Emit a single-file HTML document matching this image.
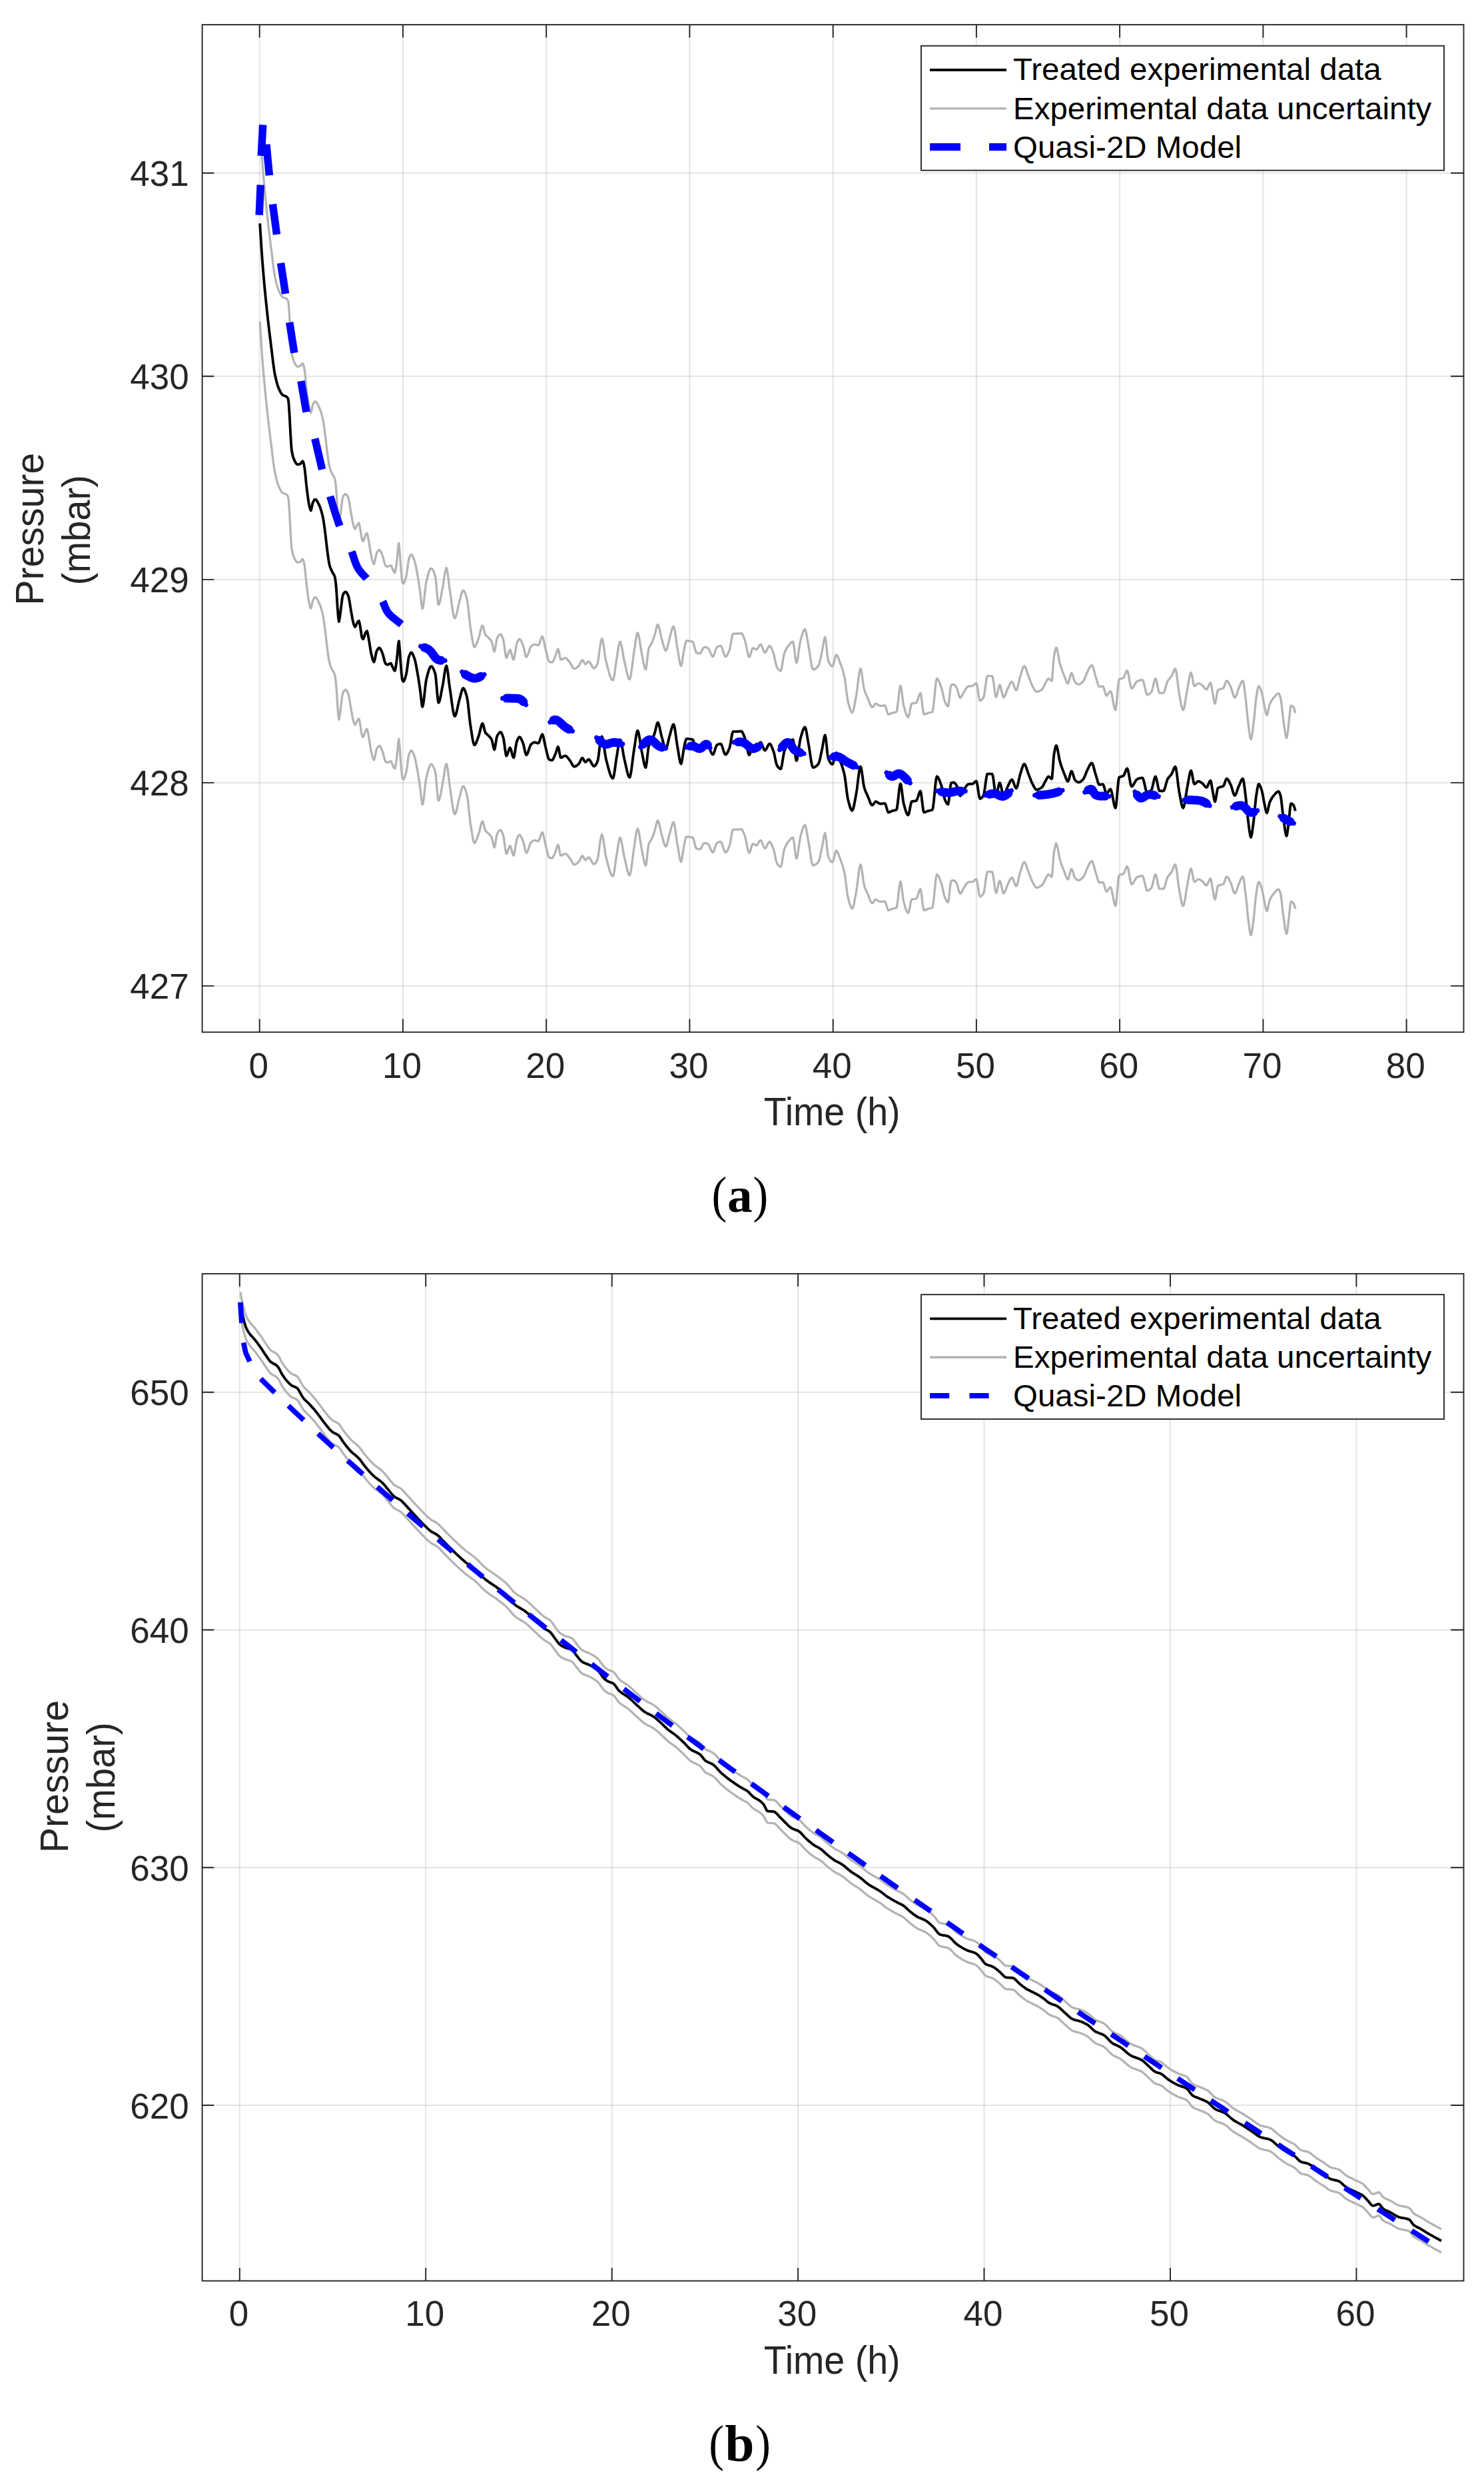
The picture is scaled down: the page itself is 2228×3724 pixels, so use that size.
<!DOCTYPE html>
<html lang="en"><head><meta charset="utf-8"><title>Pressure vs time: experimental data and Quasi-2D model</title>
<style>html,body{margin:0;padding:0;background:#fff}svg{display:block}</style></head><body>
<svg width="2228" height="3724" viewBox="0 0 2228 3724">
<rect width="2228" height="3724" fill="#fff"/>
<path d="M389.7,37.1 V1549.3 M604.9,37.1 V1549.3 M820.2,37.1 V1549.3 M1035.4,37.1 V1549.3 M1250.7,37.1 V1549.3 M1465.9,37.1 V1549.3 M1681.1,37.1 V1549.3 M1896.4,37.1 V1549.3 M2111.6,37.1 V1549.3" stroke="#262626" stroke-opacity="0.125" stroke-width="2" fill="none"/>
<path d="M303.6,259.8 H2197.5 M303.6,564.8 H2197.5 M303.6,869.9 H2197.5 M303.6,1174.9 H2197.5 M303.6,1479.9 H2197.5" stroke="#262626" stroke-opacity="0.125" stroke-width="2" fill="none"/>
<path d="M390.2,335.4 391.4,355 392.6,373.5 393.8,390.5 394.3,397 395,405.7 396.2,419.7 397.4,432.7 398.6,445.1 399.8,456.9 400.3,461.7 401,468.3 402.2,479.2 403.4,489.6 404.6,499.7 405.8,509.6 407,519.2 407.4,522.4 408.2,528.9 409.4,539 410.6,548.6 411.8,556.9 412.5,560.8 413,563.3 414.2,568.7 415.4,573.6 416.6,577.8 417.8,581.3 418.5,583 419,584.1 420.2,586.7 421.4,589 422.6,591 423.8,592.5 424.6,593.1 425,593.3 426.2,593.8 427.4,594.2 428.6,594.6 429.6,595.1 429.8,595.2 431,596.2 432.2,598.1 432.7,599.2 433.4,604.4 434.6,621.9 434.7,623.4 435.8,644.5 436.3,653.8 437,665.5 437.7,674 438.2,677.4 439.4,683.6 440.6,687.6 440.8,688.1 441.8,690.4 443,693 444.2,695.1 445.4,696.5 446.6,697.2 446.8,697.2 447.8,697.1 449,696.9 450.2,696.5 450.9,696.2 451.4,695.8 452.6,694.2 453.8,692.6 454.5,692.3 455,692.8 456.2,696.9 457.3,702.6 457.4,703.2 458.6,713.6 459.8,726.4 460.3,730.9 461,736.6 462.2,746 463.4,754.2 464.4,759.2 464.6,760 465.8,764.6 466.8,766.3 467,766.1 468.2,760.8 469.4,755.1 469.4,755.1 470.6,752.6 471.8,750.6 473,749.6 473.3,749.6 474.2,749.9 475.4,751.1 476.6,753.1 477.8,755.4 479,758 479.4,758.8 480.2,760.6 481.4,763.8 482.6,767.7 483.8,772.2 484.8,776.5 485,777.4 486.2,784.6 487.4,793.3 487.9,797 488.6,802.7 489.8,813.4 490.8,821.8 491,823.3 492.2,832.7 493.4,841.3 494.6,847.7 494.7,848.1 495.8,851.6 497,854.6 498.2,857.1 498.7,858.2 499.4,859.6 500.6,861.4 501.8,863.5 502.8,866.3 503,867.1 504.2,876.3 504.8,882.5 505.4,890.6 506.6,910.2 506.8,912.8 507.8,925.9 508.8,933 509,932.8 510.2,926.7 511.4,916.5 511.9,912.8 512.6,907.5 513.8,897.9 514.9,892.6 515,892.4 516.2,890.5 517.4,889.1 518.6,888.5 518.9,888.5 519.8,888.9 521,890.4 522.2,892.8 523,894.6 523.4,895.8 524.6,901.8 525.8,909.5 527,916.8 527,916.8 528.2,923.5 529.4,930.1 530.6,935.5 531.1,937.1 531.8,939 533,941.1 533.1,941.1 534.2,939.6 535.4,936.4 536.1,935 536.6,934.3 537.8,932.6 538.8,932 539,932.1 540.2,937.2 541.2,943.1 541.4,944.2 542.6,952.5 543.6,957.3 543.8,957.7 545,959.3 545.2,959.3 546.2,957.7 547.4,953.7 548.3,951.2 548.6,950.6 549.8,948.2 550.9,947.2 551,947.2 552.2,951.3 553.3,957.3 553.4,957.8 554.6,964.9 555.8,972.8 557,979.7 557.4,981.5 558.2,984.8 559.4,989.6 560.6,992.9 561.4,993.7 561.8,993.3 563,988.7 564.2,982.1 565.4,977.5 565.4,977.5 566.6,975.3 567.8,973.5 569,972.5 569.5,972.4 570.2,972.7 571.4,974.3 572.6,976.8 573.8,979.8 574.5,981.5 575,983 576.2,987.8 577.4,992.7 578.6,995.7 578.6,995.7 579.8,996.9 581,997.6 581.6,997.7 582.2,997.6 583.4,997.1 584.6,996.4 585.8,995.9 586.7,995.7 587,995.8 588.2,998.1 589.4,1001.2 589.7,1001.8 590.6,1003.7 591.8,1006.1 592.7,1006.8 593,1006.5 594.2,1001.2 595.4,992.5 595.8,989.6 596.6,981.8 597.8,967.8 598.8,962.3 599,962.7 600.2,975.9 601.4,993.7 601.4,993.7 602.6,1008.7 603.8,1019.5 603.9,1019.9 605,1022.6 605.5,1023 606.2,1022.6 607.4,1020.3 608.6,1016.6 609.8,1012.3 609.9,1011.9 611,1005.7 612.2,996.2 613.4,988 614,985.6 614.6,984 615.8,981.4 617,979.7 617.6,979.5 618.2,979.7 619.4,981.3 620.6,984 621.8,987.1 622,987.6 623,990.9 624.2,996.1 625.4,1002.4 626.6,1009.1 627.1,1011.9 627.8,1016 629,1023.6 630.2,1031.8 631.1,1038.1 631.4,1040.4 632.6,1051.7 633.8,1060.1 634.2,1060.8 635,1059.1 636.2,1051.8 637.4,1041.1 638.6,1030 639.8,1021.2 640.2,1019.3 641,1016.1 642.2,1011.5 643.4,1007.3 644.6,1003.8 645.8,1001.3 647,1000.2 647.3,1000.1 648.2,1000.4 649.4,1001.7 650.6,1003.8 651.8,1006.6 653,1010 653.4,1011.2 654.2,1015.9 655.4,1028.7 656.6,1043.1 657.8,1053.2 658.4,1054.7 659,1054.3 660.2,1051.1 661.4,1045.8 662.6,1039.4 663.8,1032.9 664.5,1029.4 665,1026.8 666.2,1019.1 667.4,1010.8 668.6,1003.7 669.8,999.7 670.2,999.4 671,1001 672.2,1008 673.4,1017.9 674.6,1027.9 675.2,1032 675.8,1035.9 677,1044.5 678.2,1053.5 679.4,1062 680.6,1069 681.8,1073.7 682.8,1075 683,1075 684.2,1073.1 685.4,1069.1 686.6,1063.9 687.8,1058.2 689,1052.9 689.7,1050.3 690.2,1048.6 691.4,1043.9 692.6,1039.1 693.8,1035.3 695,1033.2 695.4,1033 696.2,1033.4 697.4,1035.1 698.6,1038.1 699.8,1041.8 701,1046 701,1046 702.2,1052.8 703.4,1063.2 704.6,1074.7 705.8,1085.2 706.4,1089.4 707,1093.2 708.2,1101.1 709.4,1108.6 710.6,1114.6 711.8,1117.9 712.3,1118.3 713,1118 714.2,1116.4 715.4,1113.7 716.6,1110.4 717.8,1107 718.7,1104.5 719,1103.7 720.2,1099.2 721.4,1094 722.6,1089.4 723.8,1086.4 724.4,1086 725,1086.6 726.2,1090.4 727.4,1095.6 728.6,1099.3 728.7,1099.5 729.8,1101 731,1102.1 732.2,1103.1 733.4,1104.2 734.1,1104.9 734.6,1105.5 735.8,1106.7 737,1108.2 738.2,1110.2 738.2,1110.2 739.4,1114.5 740.6,1120.6 741.8,1124.8 742.2,1125.1 743,1123.3 744.2,1116.3 745.4,1108.4 746.3,1104.9 746.6,1104.3 747.8,1102.3 749,1100.6 750.2,1099.4 751.4,1098.9 751.6,1098.9 752.6,1099.6 753.8,1102 755,1105.4 755.7,1107.5 756.2,1109.6 757.4,1117.9 758.6,1127.4 759.8,1133.8 760.3,1134.5 761,1133.9 762.2,1131.1 763.4,1127.1 764.6,1123.7 765.7,1122.4 765.8,1122.4 767,1124.6 768.2,1129 769.4,1133.7 770.6,1136.8 771.1,1137.2 771.8,1136 773,1129.9 774.2,1121.6 775.4,1114.6 775.9,1112.9 776.6,1111.2 777.8,1108.5 779,1106.7 779.9,1106.2 780.2,1106.2 781.4,1107.3 782.6,1109.3 783.8,1112 785,1114.9 785.3,1115.6 786.2,1118.6 787.4,1124.1 788.6,1129.6 789.8,1132.9 790.2,1133.2 791,1132.7 792.2,1130.5 793.4,1127.2 794.6,1123.5 795.8,1120 797,1117.6 797.5,1117 798.2,1116.5 799.4,1115.6 800.6,1114.9 801.8,1114.4 802.9,1114.3 803,1114.3 804.2,1114.5 805.4,1114.9 806.6,1115.3 807.8,1115.6 808.2,1115.6 809,1114.9 810.2,1112.1 811.4,1108.2 812.6,1104.6 813.8,1102.4 814.2,1102.2 815,1103.2 816.2,1107.5 817.4,1113.5 818.6,1119.4 819,1121 819.8,1124.2 821,1129.5 822.2,1134.6 823.4,1138.4 824.4,1139.9 824.6,1140 825.8,1140.6 827,1141 828.2,1141.2 828.5,1141.2 829.4,1140.8 830.6,1139.1 831.8,1136.6 833,1133.8 833.9,1131.8 834.2,1131.1 835.4,1127.1 836.6,1123.1 837.8,1121 837.9,1121 839,1124 840.2,1130.9 841.4,1136.5 841.9,1137.2 842.6,1137.1 843.8,1136.7 845,1136 846.2,1135.3 847.4,1134.8 848.6,1134.5 848.7,1134.5 849.8,1134.8 851,1135.7 852.2,1137.1 853.4,1138.6 854.6,1140.2 855.4,1141.2 855.8,1141.7 857,1143.6 858.2,1145.8 859.4,1148 860.6,1149.7 861.8,1150.6 862.2,1150.7 863,1150.6 864.2,1150.2 865.4,1149.5 866.6,1148.6 867.8,1147.6 868.9,1146.6 869,1146.5 870.2,1144.6 871.4,1142 872.6,1139.5 873.8,1137.9 874.3,1137.7 875,1138.1 876.2,1140 877.4,1142.4 878.6,1143.8 878.9,1143.9 879.8,1143.5 881,1142.3 882.2,1140.8 883.4,1139.9 883.7,1139.9 884.6,1140.2 885.8,1141.6 887,1143.6 888.2,1145.8 889.4,1147.9 890.6,1149.5 891.8,1150.1 891.8,1150.1 893,1149.6 894.2,1148.4 895.4,1146.4 896.6,1144 897.2,1142.6 897.8,1140.3 899,1132.1 900.2,1122.2 901.2,1115.6 901.4,1114.5 902.6,1108.1 903.6,1105.5 903.8,1105.6 905,1108.8 906.2,1115.6 907.4,1124.1 908.6,1132.5 909.8,1139.2 910,1140 911,1143.8 912.2,1148.5 913.4,1153.1 914.6,1157.4 915.8,1161.2 917,1164.3 918.2,1166.7 919.4,1168 920.1,1168.2 920.6,1167.7 921.8,1163.4 923,1155.9 924.2,1147 925.4,1138.5 926,1135 926.6,1131.5 927.8,1123.6 929,1116.1 930.2,1111.1 930.9,1110.2 931.4,1110.5 932.6,1113.8 933.8,1119.6 935,1126.6 936.2,1133.7 937.4,1139.6 937.5,1140 938.6,1144.7 939.8,1150.2 941,1155.7 942.2,1160.6 943.4,1164.4 944.6,1166.5 945.2,1166.8 945.8,1166.2 947,1161.6 948.2,1153.8 949.4,1144.3 950.6,1134.6 951.8,1126.2 952,1125 953,1118.6 954.2,1110.2 955.4,1102.6 956.6,1097.7 957.3,1096.8 957.8,1097.2 959,1101 960.2,1107.6 961.4,1115.6 962.6,1123.3 963.5,1128 963.8,1129.4 965,1135.6 966.2,1142 967.4,1147.6 968.6,1151.2 969.4,1152 969.8,1151.4 971,1144.1 972.2,1132.7 973.4,1122.7 974,1120 974.6,1118.5 975.8,1116.5 977,1114.8 978.1,1112.9 978.2,1112.7 979.4,1110 980.6,1106.9 981.8,1103.5 983,1100 983,1100 984.2,1095.4 985.4,1090 986.6,1085.8 987.5,1084.6 987.8,1084.7 989,1087 990.2,1091.6 991.4,1097.1 992.6,1102.6 993.5,1106 993.8,1107 995,1111.4 996.2,1116 997.4,1120.1 998.6,1122.9 999.6,1123.7 999.8,1123.7 1001,1121.7 1002.2,1117.6 1003.4,1112.4 1004.6,1107.3 1005.5,1104 1005.8,1103 1007,1098.6 1008.2,1094 1009.4,1090 1010.6,1087.6 1011.2,1087.3 1011.8,1088 1013,1092.8 1014.2,1100.6 1015.4,1109.5 1016.6,1117.8 1017,1120 1017.8,1124.6 1019,1132.2 1020.2,1139.4 1021.4,1144.7 1022.5,1146.6 1022.6,1146.6 1023.8,1142.5 1025,1134.5 1026.2,1126.5 1026.5,1125 1027.4,1120.5 1028.6,1114.4 1029.8,1109.9 1030.6,1108.9 1031,1108.9 1032.2,1108.9 1033.4,1109 1034.6,1109.1 1035.8,1109.3 1037,1109.5 1038.2,1109.7 1039.4,1110 1040,1110.2 1040.6,1110.9 1041.8,1114.4 1043,1119.5 1044.2,1124.1 1045.4,1126.4 1045.4,1126.4 1046.6,1126.9 1047.8,1127.3 1049,1127.6 1050.2,1127.8 1050.8,1127.8 1051.4,1127.6 1052.6,1126.1 1053.8,1123.8 1055,1121.3 1056.2,1119.2 1057.4,1118.3 1057.5,1118.3 1058.6,1118.4 1059.8,1118.6 1061,1119 1062.2,1119.4 1062.9,1119.7 1063.4,1120.1 1064.6,1121.9 1065.8,1124.6 1067,1127.7 1068.2,1130.4 1069.4,1132.2 1070.2,1132.6 1070.6,1132.4 1071.8,1130.4 1073,1126.9 1074.2,1123 1075.4,1119.7 1076.4,1118.3 1076.6,1118.2 1077.8,1117.5 1079,1117 1080.2,1116.6 1081.4,1116.4 1081.8,1116.4 1082.6,1116.9 1083.8,1119.2 1085,1122.7 1086.2,1126.6 1087.4,1130 1088.6,1132.2 1089.3,1132.6 1089.8,1132.5 1091,1131.5 1092.2,1129.6 1093.4,1127 1094.6,1124.2 1095.3,1122.4 1095.8,1120.8 1097,1114.5 1098.2,1107 1099.4,1100.7 1100.6,1098.1 1100.6,1098.1 1101.8,1098.1 1103,1098.1 1104.2,1098.1 1105.4,1098.1 1106,1098.1 1106.6,1098.1 1107.8,1098 1109,1097.9 1110.2,1097.8 1111.4,1097.7 1112.6,1097.6 1112.8,1097.6 1113.8,1098.1 1115,1099.9 1116.2,1102.5 1117.4,1105.5 1118.2,1107.5 1118.6,1108.6 1119.8,1113.5 1121,1119.5 1122.2,1125.6 1123.4,1130.6 1124.6,1133.1 1124.9,1133.2 1125.8,1132.2 1127,1128.7 1128.2,1124.2 1129.4,1120.7 1130.3,1119.7 1130.6,1119.7 1131.8,1120.1 1133,1120.7 1134.2,1121.4 1135.4,1121.8 1135.7,1121.8 1136.6,1121.4 1137.8,1119.8 1139,1117.7 1140.2,1115.7 1141.4,1114.4 1141.9,1114.3 1142.6,1114.7 1143.8,1116.8 1145,1119.9 1146.2,1123.2 1147.4,1125.6 1148.4,1126.4 1148.6,1126.4 1149.8,1125.4 1151,1123.3 1152.2,1120.8 1153.4,1118.4 1154.6,1116.8 1155.4,1116.4 1155.8,1116.5 1157,1117.6 1158.2,1119.8 1159.4,1122.7 1160.6,1125.9 1161.3,1127.8 1161.8,1129.3 1163,1134.4 1164.2,1140.3 1165.4,1145.7 1166.6,1149.1 1166.7,1149.3 1167.8,1150.9 1169,1152.3 1170.2,1153.4 1171.4,1154.1 1172.1,1154.2 1172.6,1153.7 1173.8,1149 1175,1141.5 1176.2,1133.7 1177.4,1128.1 1177.5,1127.8 1178.6,1125 1179.8,1122.4 1181,1120.2 1182.2,1118.2 1183.4,1116.6 1184.2,1115.6 1184.6,1115.1 1185.8,1113.7 1187,1112.3 1188.2,1111.2 1189.4,1110.4 1190.4,1110.2 1190.6,1110.3 1191.8,1115.5 1193,1125.1 1194.2,1135.1 1195.4,1141.3 1195.8,1141.8 1196.6,1140.5 1197.8,1134.6 1199,1126.1 1200.2,1117.2 1201.4,1110.1 1201.7,1108.9 1202.6,1105.7 1203.8,1101.4 1205,1097.4 1206.2,1094.2 1207.4,1092.1 1208.5,1091.4 1208.6,1091.4 1209.8,1094 1211,1099.7 1212.2,1107 1213.4,1114.3 1213.9,1117 1214.6,1120.9 1215.8,1128.7 1217,1137 1218.2,1144.5 1219.4,1149.9 1220.6,1152 1220.6,1152 1221.8,1151.9 1223,1151.5 1224.2,1150.8 1225.4,1149.9 1226.6,1148.9 1227.8,1147.6 1228.7,1146.6 1229,1146.2 1230.2,1142.9 1231.4,1138 1232.6,1132.2 1233.8,1126.4 1234.1,1125.1 1235,1120.4 1236.2,1113 1237.4,1106.6 1238.6,1103.5 1238.7,1103.5 1239.8,1107.7 1241,1118.5 1242.2,1130.5 1243.4,1138.2 1243.5,1138.5 1244.6,1141 1245.8,1143.4 1247,1145.3 1248.2,1146.6 1249.4,1147.2 1249.7,1147.2 1250.6,1146.1 1251.8,1142.2 1253,1137 1254.2,1132.4 1255.4,1130 1255.6,1129.9 1256.6,1130.5 1257.8,1132.7 1259,1135.7 1260.2,1139.1 1261,1141.2 1261.4,1142.2 1262.6,1145.3 1263.8,1148.6 1265,1152.2 1266.2,1156.4 1267.4,1161.1 1267.8,1162.8 1268.6,1167.2 1269.8,1176.2 1271,1186.2 1272.2,1195.2 1273.2,1200.5 1273.4,1201.3 1274.6,1205.8 1275.8,1210 1277,1213.5 1278.2,1215.8 1279.4,1216.7 1279.4,1216.7 1280.6,1215.1 1281.8,1210.8 1283,1204.9 1284.2,1198.3 1285.3,1192.5 1285.4,1192 1286.6,1184.2 1287.8,1174.5 1289,1164.7 1290.2,1156.4 1291.4,1151.4 1292,1150.7 1292.6,1151.6 1293.8,1157.4 1295,1166.2 1296.2,1175.3 1297.4,1181.7 1297.4,1181.7 1298.6,1185.4 1299.8,1188.5 1301,1191.2 1302.2,1193.8 1302.8,1195.1 1303.4,1196.5 1304.6,1199.6 1305.8,1202.8 1307,1205.7 1308.2,1207.7 1309.4,1208.6 1309.5,1208.6 1310.6,1208 1311.8,1206.5 1313,1204.7 1314.2,1203.4 1314.9,1203.2 1315.4,1203.3 1316.6,1203.7 1317.8,1204.5 1319,1205.4 1320.2,1206.1 1321.4,1206.5 1321.7,1206.5 1322.6,1206.5 1323.8,1206.4 1325,1206.2 1326.2,1206.1 1327.4,1205.9 1328.4,1205.9 1328.6,1206 1329.8,1208.2 1331,1212.3 1332.2,1216.5 1333.4,1219.2 1333.8,1219.4 1334.6,1219.3 1335.8,1218.9 1337,1218.3 1338.2,1217.7 1339.2,1217.3 1339.4,1217.2 1340.6,1216.9 1341.8,1216.7 1343,1216.4 1344.2,1216.1 1345.4,1215.7 1345.9,1215.4 1346.6,1213.6 1347.8,1205.6 1349,1194.5 1350.2,1183.7 1351.4,1177 1351.9,1176.3 1352.6,1177.7 1353.8,1184.8 1355,1194.7 1356.2,1203.5 1356.7,1205.9 1357.4,1208.5 1358.6,1212.9 1359.8,1217 1361,1220.3 1362.2,1222.6 1363.4,1223.5 1363.5,1223.5 1364.6,1221.3 1365.8,1215.6 1367,1208.9 1368.2,1204.1 1368.8,1203.2 1369.4,1203 1370.6,1202.7 1371.8,1202.6 1373,1202.4 1374.2,1202.3 1375.4,1202 1375.6,1201.9 1376.6,1200.7 1377.8,1197.4 1379,1193.5 1380.2,1189.9 1381.4,1187.8 1381.8,1187.6 1382.6,1189.5 1383.8,1197.5 1385,1207.9 1386.2,1216.5 1387.2,1219.4 1387.4,1219.4 1388.6,1219.2 1389.8,1218.7 1391,1218.2 1392.2,1217.6 1393.1,1217.3 1393.4,1217.2 1394.6,1216.9 1395.8,1216.7 1397,1216.4 1398.2,1216.1 1399.4,1215.6 1399.8,1215.4 1400.6,1213.2 1401.8,1204.4 1403,1192.2 1404.2,1179.5 1405.4,1169.5 1406.6,1165.5 1406.6,1165.5 1407.8,1166.2 1409,1168 1410.2,1170.6 1411.4,1173.7 1412.6,1177.1 1413.3,1179 1413.8,1180.5 1415,1185.4 1416.2,1191.1 1417.4,1196.4 1418.6,1200.3 1418.7,1200.5 1419.8,1202.8 1421,1205.1 1422.2,1206.7 1423.3,1207.3 1423.4,1207.3 1424.6,1201.6 1425.8,1190.4 1427,1179.6 1428.1,1175.1 1428.2,1175.1 1429.4,1174.8 1430.6,1174.6 1431.8,1174.5 1432.1,1174.5 1433,1174.8 1434.2,1176.1 1435.4,1177.8 1436.2,1179.1 1436.6,1179.9 1437.8,1183.6 1439,1188.3 1440.2,1192.4 1441.4,1194.4 1441.6,1194.5 1442.6,1193.9 1443.8,1192.1 1445,1189.6 1446.2,1187.1 1447,1185.8 1447.4,1185.2 1448.6,1183.3 1449.8,1181.3 1451,1179.5 1452.2,1178.1 1453.4,1177.3 1453.7,1177.2 1454.6,1177 1455.8,1176.9 1457,1176.8 1458.2,1176.7 1459.4,1176.6 1460.4,1176.4 1460.6,1176.3 1461.8,1175.6 1463,1174.4 1464.2,1173.2 1465.4,1172.5 1465.8,1172.4 1466.6,1174 1467.8,1180.6 1469,1189.2 1470.2,1196.4 1471.2,1198.8 1471.4,1198.8 1472.6,1198.4 1473.8,1197.5 1475,1196.2 1476.2,1194.5 1476.6,1193.9 1477.4,1191.4 1478.6,1183.9 1479.8,1174.7 1481,1166.4 1482.2,1161.8 1482.5,1161.6 1483.4,1161.6 1484.6,1161.6 1485.8,1161.6 1487,1161.6 1488.2,1161.6 1489.4,1161.6 1489.5,1161.6 1490.6,1164.4 1491.8,1172 1493,1181.4 1494.2,1189.6 1495.4,1193.4 1495.5,1193.4 1496.6,1191.4 1497.8,1186.3 1499,1180.3 1500.2,1175.9 1500.9,1175.1 1501.4,1175.5 1502.6,1178.9 1503.8,1184.3 1505,1189.7 1506.2,1193.4 1506.8,1193.9 1507.4,1193.6 1508.6,1191.9 1509.8,1188.9 1511,1185.5 1512.2,1182.3 1513,1180.5 1513.4,1179.7 1514.6,1177.1 1515.8,1174.5 1517,1172.2 1518.2,1170.7 1519.2,1170.2 1519.4,1170.2 1520.6,1171.7 1521.8,1174.8 1523,1178.3 1524.2,1181.4 1525.4,1183.1 1525.7,1183.2 1526.6,1182.3 1527.8,1178.8 1529,1173.7 1530.2,1168.2 1531.4,1163.2 1531.9,1161.6 1532.6,1159.4 1533.8,1155.4 1535,1151.6 1536.2,1148.6 1537.4,1146.9 1537.8,1146.8 1538.6,1147.3 1539.8,1149.4 1541,1152.6 1542.2,1156.4 1543.4,1160 1544,1161.6 1544.6,1163.1 1545.8,1166.2 1547,1169.3 1548.2,1172.4 1549.4,1175.2 1550.6,1177.6 1550.7,1177.8 1551.8,1179.8 1553,1182 1554.2,1183.9 1555.4,1185.1 1556.1,1185.3 1556.6,1185.3 1557.8,1185.1 1559,1184.8 1560.2,1184.3 1561.4,1183.6 1562.6,1182.9 1563.8,1182.1 1564.2,1181.8 1565,1181 1566.2,1179.1 1567.4,1176.7 1568.6,1174.2 1569.6,1172.4 1569.8,1172.1 1571,1169.8 1572.2,1167.6 1573.4,1166 1574.2,1165.6 1574.6,1165.7 1575.8,1166.5 1577,1167.8 1578.2,1168.8 1579,1169.1 1579.4,1168 1580.6,1155.1 1581.8,1138.3 1582.5,1131.9 1583,1129.1 1584.2,1122.9 1585.4,1119.3 1585.8,1119 1586.6,1120.1 1587.8,1124.7 1589,1131.4 1590.2,1138.3 1591.2,1142.7 1591.4,1143.4 1592.6,1147.3 1593.8,1150.9 1595,1154.3 1596.2,1157.4 1597.4,1160.4 1597.9,1161.6 1598.6,1163.4 1599.8,1166.7 1601,1169.8 1602.2,1172.1 1603.3,1172.9 1603.4,1172.9 1604.6,1170.7 1605.8,1166.1 1607,1161.1 1608.2,1157.9 1608.7,1157.5 1609.4,1158 1610.6,1160.9 1611.8,1165 1613,1168.9 1614.1,1171 1614.2,1171.1 1615.4,1172.2 1616.6,1173.2 1617.8,1173.9 1619,1174.3 1619.5,1174.3 1620.2,1174.2 1621.4,1173.8 1622.6,1173.1 1623.8,1172.1 1625,1170.9 1626.2,1169.7 1626.2,1169.7 1627.4,1167.9 1628.6,1165.3 1629.8,1162.3 1631,1159.2 1632.2,1156.3 1632.9,1154.9 1633.4,1154 1634.6,1151.5 1635.8,1149.1 1637,1147.1 1638.2,1145.7 1639.1,1145.4 1639.4,1145.5 1640.6,1147.3 1641.8,1150.9 1643,1155.5 1644.2,1160 1645.1,1162.9 1645.4,1163.8 1646.6,1167.9 1647.8,1172.3 1649,1175.8 1650.2,1177.7 1650.5,1177.8 1651.4,1177.8 1652.6,1177.6 1653.8,1177.4 1655,1177.2 1655.8,1177.2 1656.2,1177.4 1657.4,1180.2 1658.6,1184.6 1659.8,1188.9 1661,1191.1 1661.2,1191.2 1662.2,1190.7 1663.4,1189.2 1664.6,1187.2 1665.8,1185.4 1667,1184.5 1667.2,1184.5 1668.2,1185.9 1669.4,1190.4 1670.6,1196.7 1671.8,1203.4 1673,1209.1 1674.2,1212.4 1674.7,1212.8 1675.4,1210.8 1676.6,1200.1 1677.8,1185.5 1679,1172.5 1680.1,1167 1680.2,1166.9 1681.4,1166.2 1682.6,1165.8 1683.8,1165.5 1685,1165.2 1686.2,1164.7 1686.8,1164.3 1687.4,1163.6 1688.6,1161 1689.8,1157.6 1691,1154.7 1692.2,1153.5 1692.2,1153.5 1693.4,1155.7 1694.6,1161.2 1695.8,1168.2 1697,1174.9 1698.2,1179.5 1699,1180.5 1699.4,1180.4 1700.6,1179.5 1701.8,1177.8 1703,1175.7 1704.2,1173.4 1705.4,1171.4 1706.6,1170 1707.1,1169.7 1707.8,1169.4 1709,1168.9 1710.2,1168.4 1711.4,1168.1 1712.6,1167.8 1713.8,1167.6 1715,1167.5 1715.1,1167.5 1716.2,1168.9 1717.4,1172.8 1718.6,1178 1719.8,1183.4 1721,1187.7 1722.2,1189.9 1722.4,1189.9 1723.4,1189.8 1724.6,1189.3 1725.8,1188.5 1727,1187.4 1728.2,1186.2 1728.6,1185.8 1729.4,1184.2 1730.6,1179.8 1731.8,1174.4 1733,1169.3 1734.2,1166.1 1734.8,1165.6 1735.4,1166.2 1736.6,1170.3 1737.8,1176.4 1739,1182.5 1740.2,1186.6 1740.8,1187.2 1741.4,1187.2 1742.6,1187.2 1743.8,1187.2 1745,1187.2 1746.2,1187.2 1746.7,1187.2 1747.4,1186.7 1748.6,1184 1749.8,1179.8 1751,1175.3 1752.2,1171.3 1752.9,1169.7 1753.4,1168.9 1754.6,1167.1 1755.8,1165.7 1757,1164.4 1758.2,1162.9 1759.1,1161.6 1759.4,1161.1 1760.6,1158.3 1761.8,1155.1 1763,1152.4 1764.2,1150.9 1764.5,1150.8 1765.4,1152.6 1766.6,1159.3 1767.8,1168.9 1769,1179.1 1770.2,1187.4 1770.4,1188.5 1771.4,1193.8 1772.6,1200.5 1773.8,1206.5 1775,1210.9 1776.2,1212.8 1776.3,1212.8 1777.4,1211 1778.6,1205.7 1779.8,1198.4 1781,1190.5 1782.2,1183.4 1782.5,1181.9 1783.4,1177.2 1784.6,1170.1 1785.8,1163.3 1787,1158.4 1788.1,1156.7 1788.2,1156.7 1789.4,1160.1 1790.6,1166.8 1791.8,1173.5 1793,1176.9 1793.1,1176.9 1794.2,1176.5 1795.4,1175.6 1796.6,1174.4 1797.8,1173.3 1799,1172.8 1799.2,1172.8 1800.2,1172.9 1801.4,1173.4 1802.6,1174 1803.8,1174.9 1805,1175.7 1805.3,1175.9 1806.2,1176.7 1807.4,1178.2 1808.6,1179.8 1809.8,1181.2 1811,1181.9 1811.3,1181.9 1812.2,1181.3 1813.4,1179.1 1814.6,1176.2 1815.8,1173.5 1817,1171.9 1817.4,1171.8 1818.2,1173.6 1819.4,1180.2 1820.4,1186 1820.6,1187 1821.8,1194.1 1823,1200.6 1824.1,1203.2 1824.2,1203.2 1825.4,1199.1 1826.6,1191.4 1827.8,1184.6 1828.5,1182.9 1829,1182.6 1830.2,1182 1831.4,1181.6 1832.6,1181.2 1833.6,1180.9 1833.8,1180.8 1835,1180.5 1836.2,1180.1 1836.6,1179.9 1837.4,1178.9 1838.6,1175.7 1839.8,1172 1841,1169.3 1841.7,1168.8 1842.2,1168.9 1843.4,1169.9 1844.6,1171.7 1845.8,1174 1847,1176.5 1847.7,1177.9 1848.2,1179 1849.4,1182.7 1850.6,1186.9 1851.8,1190.9 1853,1193.5 1853.8,1194.1 1854.2,1194 1855.4,1192.3 1856.6,1189.3 1857.8,1185.7 1859,1182.1 1859.9,1179.9 1860.2,1179.3 1861.4,1176.4 1862.6,1173.5 1863.8,1170.9 1865,1169.2 1865.9,1168.8 1866.2,1169 1867.4,1173.9 1868.6,1182.7 1869.8,1192.6 1870,1194.1 1871,1202.9 1872.2,1215.5 1873.4,1227.5 1874,1232.5 1874.6,1237.2 1875.8,1246.8 1877,1254.3 1878,1256.7 1878.2,1256.6 1879.4,1252.5 1880.6,1244.3 1881.8,1234.8 1882.1,1232.5 1883,1224.6 1884.2,1211.7 1885.4,1199.4 1886.1,1194.1 1886.6,1190.9 1887.8,1183.4 1889,1178.1 1889.8,1176.9 1890.2,1177 1891.4,1178.6 1892.6,1181.4 1893.8,1184.8 1894.2,1186 1895,1189 1896.2,1195.1 1897.4,1201.8 1898.3,1206.2 1898.6,1207.6 1899.8,1213.7 1901,1218.8 1901.9,1220.3 1902.2,1220.1 1903.4,1216.7 1904.6,1211 1905.8,1205.7 1906.3,1204.2 1907,1202.6 1908.2,1200.2 1909.4,1198.2 1910.6,1196.4 1911.8,1194.8 1912.4,1194.1 1913,1193.4 1914.2,1192 1915.4,1190.6 1916.6,1189.4 1917.8,1188.5 1919,1188 1919.5,1188 1920.2,1188.4 1921.4,1190.9 1922.5,1194.1 1922.6,1194.4 1923.8,1201.8 1925,1212.7 1926.2,1223.5 1926.6,1226.4 1927.4,1232.1 1928.6,1241.1 1929.8,1249.1 1931,1254 1931.6,1254.7 1932.2,1253.5 1933.4,1245.5 1934.6,1234.3 1935.3,1228.4 1935.8,1224 1937,1211.8 1938.1,1206.2 1938.2,1206.2 1939.4,1206.5 1940.6,1207.2 1941.7,1208.2 1941.8,1208.3 1943,1210.8 1944.2,1214.9 1944.8,1217.3" fill="none" stroke="#000" stroke-width="3.9" stroke-linejoin="round"/>
<path d="M390.2,188.4 391.4,208 392.6,226.5 393.8,243.5 394.3,250 395,258.7 396.2,272.7 397.4,285.7 398.6,298.1 399.8,309.9 400.3,314.7 401,321.3 402.2,332.2 403.4,342.6 404.6,352.7 405.8,362.6 407,372.2 407.4,375.4 408.2,381.9 409.4,392 410.6,401.6 411.8,409.9 412.5,413.8 413,416.3 414.2,421.7 415.4,426.6 416.6,430.8 417.8,434.3 418.5,436 419,437.1 420.2,439.7 421.4,442 422.6,444 423.8,445.5 424.6,446.1 425,446.3 426.2,446.8 427.4,447.2 428.6,447.6 429.6,448.1 429.8,448.2 431,449.2 432.2,451.1 432.7,452.2 433.4,457.4 434.6,474.9 434.7,476.4 435.8,497.5 436.3,506.8 437,518.5 437.7,527 438.2,530.4 439.4,536.6 440.6,540.6 440.8,541.1 441.8,543.4 443,546 444.2,548.1 445.4,549.5 446.6,550.2 446.8,550.2 447.8,550.1 449,549.9 450.2,549.5 450.9,549.2 451.4,548.8 452.6,547.2 453.8,545.6 454.5,545.3 455,545.8 456.2,549.9 457.3,555.6 457.4,556.2 458.6,566.6 459.8,579.4 460.3,583.9 461,589.6 462.2,599 463.4,607.2 464.4,612.2 464.6,613 465.8,617.6 466.8,619.3 467,619.1 468.2,613.8 469.4,608.1 469.4,608.1 470.6,605.6 471.8,603.6 473,602.6 473.3,602.6 474.2,602.9 475.4,604.1 476.6,606.1 477.8,608.4 479,611 479.4,611.8 480.2,613.6 481.4,616.8 482.6,620.7 483.8,625.2 484.8,629.5 485,630.4 486.2,637.6 487.4,646.3 487.9,650 488.6,655.7 489.8,666.4 490.8,674.8 491,676.3 492.2,685.7 493.4,694.3 494.6,700.7 494.7,701.1 495.8,704.6 497,707.6 498.2,710.1 498.7,711.2 499.4,712.6 500.6,714.4 501.8,716.5 502.8,719.3 503,720.1 504.2,729.3 504.8,735.5 505.4,743.6 506.6,763.2 506.8,765.8 507.8,778.9 508.8,786 509,785.8 510.2,779.7 511.4,769.5 511.9,765.8 512.6,760.5 513.8,750.9 514.9,745.6 515,745.4 516.2,743.5 517.4,742.1 518.6,741.5 518.9,741.5 519.8,741.9 521,743.4 522.2,745.8 523,747.6 523.4,748.8 524.6,754.8 525.8,762.5 527,769.8 527,769.8 528.2,776.5 529.4,783.1 530.6,788.5 531.1,790.1 531.8,792 533,794.1 533.1,794.1 534.2,792.6 535.4,789.4 536.1,788 536.6,787.3 537.8,785.6 538.8,785 539,785.1 540.2,790.2 541.2,796.1 541.4,797.2 542.6,805.5 543.6,810.3 543.8,810.7 545,812.3 545.2,812.3 546.2,810.7 547.4,806.7 548.3,804.2 548.6,803.6 549.8,801.2 550.9,800.2 551,800.2 552.2,804.3 553.3,810.3 553.4,810.8 554.6,817.9 555.8,825.8 557,832.7 557.4,834.5 558.2,837.8 559.4,842.6 560.6,845.9 561.4,846.7 561.8,846.3 563,841.7 564.2,835.1 565.4,830.5 565.4,830.5 566.6,828.3 567.8,826.5 569,825.5 569.5,825.4 570.2,825.7 571.4,827.3 572.6,829.8 573.8,832.8 574.5,834.5 575,836 576.2,840.8 577.4,845.7 578.6,848.7 578.6,848.7 579.8,849.9 581,850.6 581.6,850.7 582.2,850.6 583.4,850.1 584.6,849.4 585.8,848.9 586.7,848.7 587,848.8 588.2,851.1 589.4,854.2 589.7,854.8 590.6,856.7 591.8,859.1 592.7,859.8 593,859.5 594.2,854.2 595.4,845.5 595.8,842.6 596.6,834.8 597.8,820.8 598.8,815.3 599,815.7 600.2,828.9 601.4,846.7 601.4,846.7 602.6,861.7 603.8,872.5 603.9,872.9 605,875.6 605.5,876 606.2,875.6 607.4,873.3 608.6,869.6 609.8,865.3 609.9,864.9 611,858.7 612.2,849.2 613.4,841 614,838.6 614.6,837 615.8,834.4 617,832.7 617.6,832.5 618.2,832.7 619.4,834.3 620.6,837 621.8,840.1 622,840.6 623,843.9 624.2,849.1 625.4,855.4 626.6,862.1 627.1,864.9 627.8,869 629,876.6 630.2,884.8 631.1,891.1 631.4,893.4 632.6,904.7 633.8,913.1 634.2,913.8 635,912.1 636.2,904.8 637.4,894.1 638.6,883 639.8,874.2 640.2,872.3 641,869.1 642.2,864.5 643.4,860.3 644.6,856.8 645.8,854.3 647,853.2 647.3,853.1 648.2,853.4 649.4,854.7 650.6,856.8 651.8,859.6 653,863 653.4,864.2 654.2,868.9 655.4,881.7 656.6,896.1 657.8,906.2 658.4,907.7 659,907.3 660.2,904.1 661.4,898.8 662.6,892.4 663.8,885.9 664.5,882.4 665,879.8 666.2,872.1 667.4,863.8 668.6,856.7 669.8,852.7 670.2,852.4 671,854 672.2,861 673.4,870.9 674.6,880.9 675.2,885 675.8,888.9 677,897.5 678.2,906.5 679.4,915 680.6,922 681.8,926.7 682.8,928 683,928 684.2,926.1 685.4,922.1 686.6,916.9 687.8,911.2 689,905.9 689.7,903.3 690.2,901.6 691.4,896.9 692.6,892.1 693.8,888.3 695,886.2 695.4,886 696.2,886.4 697.4,888.1 698.6,891.1 699.8,894.8 701,899 701,899 702.2,905.8 703.4,916.2 704.6,927.7 705.8,938.2 706.4,942.4 707,946.2 708.2,954.1 709.4,961.6 710.6,967.6 711.8,970.9 712.3,971.3 713,971 714.2,969.4 715.4,966.7 716.6,963.4 717.8,960 718.7,957.5 719,956.7 720.2,952.2 721.4,947 722.6,942.4 723.8,939.4 724.4,939 725,939.6 726.2,943.4 727.4,948.6 728.6,952.3 728.7,952.5 729.8,954 731,955.1 732.2,956.1 733.4,957.2 734.1,957.9 734.6,958.5 735.8,959.7 737,961.2 738.2,963.2 738.2,963.2 739.4,967.5 740.6,973.6 741.8,977.8 742.2,978.1 743,976.3 744.2,969.3 745.4,961.4 746.3,957.9 746.6,957.3 747.8,955.3 749,953.6 750.2,952.4 751.4,951.9 751.6,951.9 752.6,952.6 753.8,955 755,958.4 755.7,960.5 756.2,962.6 757.4,970.9 758.6,980.4 759.8,986.8 760.3,987.5 761,986.9 762.2,984.1 763.4,980.1 764.6,976.7 765.7,975.4 765.8,975.4 767,977.6 768.2,982 769.4,986.7 770.6,989.8 771.1,990.2 771.8,989 773,982.9 774.2,974.6 775.4,967.6 775.9,965.9 776.6,964.2 777.8,961.5 779,959.7 779.9,959.2 780.2,959.2 781.4,960.3 782.6,962.3 783.8,965 785,967.9 785.3,968.6 786.2,971.6 787.4,977.1 788.6,982.6 789.8,985.9 790.2,986.2 791,985.7 792.2,983.5 793.4,980.2 794.6,976.5 795.8,973 797,970.6 797.5,970 798.2,969.5 799.4,968.6 800.6,967.9 801.8,967.4 802.9,967.3 803,967.3 804.2,967.5 805.4,967.9 806.6,968.3 807.8,968.6 808.2,968.6 809,967.9 810.2,965.1 811.4,961.2 812.6,957.6 813.8,955.4 814.2,955.2 815,956.2 816.2,960.5 817.4,966.5 818.6,972.4 819,974 819.8,977.2 821,982.5 822.2,987.6 823.4,991.4 824.4,992.9 824.6,993 825.8,993.6 827,994 828.2,994.2 828.5,994.2 829.4,993.8 830.6,992.1 831.8,989.6 833,986.8 833.9,984.8 834.2,984.1 835.4,980.1 836.6,976.1 837.8,974 837.9,974 839,977 840.2,983.9 841.4,989.5 841.9,990.2 842.6,990.1 843.8,989.7 845,989 846.2,988.3 847.4,987.8 848.6,987.5 848.7,987.5 849.8,987.8 851,988.7 852.2,990.1 853.4,991.6 854.6,993.2 855.4,994.2 855.8,994.7 857,996.6 858.2,998.8 859.4,1001 860.6,1002.7 861.8,1003.6 862.2,1003.7 863,1003.6 864.2,1003.2 865.4,1002.5 866.6,1001.6 867.8,1000.6 868.9,999.6 869,999.5 870.2,997.6 871.4,995 872.6,992.5 873.8,990.9 874.3,990.7 875,991.1 876.2,993 877.4,995.4 878.6,996.8 878.9,996.9 879.8,996.5 881,995.3 882.2,993.8 883.4,992.9 883.7,992.9 884.6,993.2 885.8,994.6 887,996.6 888.2,998.8 889.4,1000.9 890.6,1002.5 891.8,1003.1 891.8,1003.1 893,1002.6 894.2,1001.4 895.4,999.4 896.6,997 897.2,995.6 897.8,993.3 899,985.1 900.2,975.2 901.2,968.6 901.4,967.5 902.6,961.1 903.6,958.5 903.8,958.6 905,961.8 906.2,968.6 907.4,977.1 908.6,985.5 909.8,992.2 910,993 911,996.8 912.2,1001.5 913.4,1006.1 914.6,1010.4 915.8,1014.2 917,1017.3 918.2,1019.7 919.4,1021 920.1,1021.2 920.6,1020.7 921.8,1016.4 923,1008.9 924.2,1000 925.4,991.5 926,988 926.6,984.5 927.8,976.6 929,969.1 930.2,964.1 930.9,963.2 931.4,963.5 932.6,966.8 933.8,972.6 935,979.6 936.2,986.7 937.4,992.6 937.5,993 938.6,997.7 939.8,1003.2 941,1008.7 942.2,1013.6 943.4,1017.4 944.6,1019.5 945.2,1019.8 945.8,1019.2 947,1014.6 948.2,1006.8 949.4,997.3 950.6,987.6 951.8,979.2 952,978 953,971.6 954.2,963.2 955.4,955.6 956.6,950.7 957.3,949.8 957.8,950.2 959,954 960.2,960.6 961.4,968.6 962.6,976.3 963.5,981 963.8,982.4 965,988.6 966.2,995 967.4,1000.6 968.6,1004.2 969.4,1005 969.8,1004.4 971,997.1 972.2,985.7 973.4,975.7 974,973 974.6,971.5 975.8,969.5 977,967.8 978.1,965.9 978.2,965.7 979.4,963 980.6,959.9 981.8,956.5 983,953 983,953 984.2,948.4 985.4,943 986.6,938.8 987.5,937.6 987.8,937.7 989,940 990.2,944.6 991.4,950.1 992.6,955.6 993.5,959 993.8,960 995,964.4 996.2,969 997.4,973.1 998.6,975.9 999.6,976.7 999.8,976.7 1001,974.7 1002.2,970.6 1003.4,965.4 1004.6,960.3 1005.5,957 1005.8,956 1007,951.6 1008.2,947 1009.4,943 1010.6,940.6 1011.2,940.3 1011.8,941 1013,945.8 1014.2,953.6 1015.4,962.5 1016.6,970.8 1017,973 1017.8,977.6 1019,985.2 1020.2,992.4 1021.4,997.7 1022.5,999.6 1022.6,999.6 1023.8,995.5 1025,987.5 1026.2,979.5 1026.5,978 1027.4,973.5 1028.6,967.4 1029.8,962.9 1030.6,961.9 1031,961.9 1032.2,961.9 1033.4,962 1034.6,962.1 1035.8,962.3 1037,962.5 1038.2,962.7 1039.4,963 1040,963.2 1040.6,963.9 1041.8,967.4 1043,972.5 1044.2,977.1 1045.4,979.4 1045.4,979.4 1046.6,979.9 1047.8,980.3 1049,980.6 1050.2,980.8 1050.8,980.8 1051.4,980.6 1052.6,979.1 1053.8,976.8 1055,974.3 1056.2,972.2 1057.4,971.3 1057.5,971.3 1058.6,971.4 1059.8,971.6 1061,972 1062.2,972.4 1062.9,972.7 1063.4,973.1 1064.6,974.9 1065.8,977.6 1067,980.7 1068.2,983.4 1069.4,985.2 1070.2,985.6 1070.6,985.4 1071.8,983.4 1073,979.9 1074.2,976 1075.4,972.7 1076.4,971.3 1076.6,971.2 1077.8,970.5 1079,970 1080.2,969.6 1081.4,969.4 1081.8,969.4 1082.6,969.9 1083.8,972.2 1085,975.7 1086.2,979.6 1087.4,983 1088.6,985.2 1089.3,985.6 1089.8,985.5 1091,984.5 1092.2,982.6 1093.4,980 1094.6,977.2 1095.3,975.4 1095.8,973.8 1097,967.5 1098.2,960 1099.4,953.7 1100.6,951.1 1100.6,951.1 1101.8,951.1 1103,951.1 1104.2,951.1 1105.4,951.1 1106,951.1 1106.6,951.1 1107.8,951 1109,950.9 1110.2,950.8 1111.4,950.7 1112.6,950.6 1112.8,950.6 1113.8,951.1 1115,952.9 1116.2,955.5 1117.4,958.5 1118.2,960.5 1118.6,961.6 1119.8,966.5 1121,972.5 1122.2,978.6 1123.4,983.6 1124.6,986.1 1124.9,986.2 1125.8,985.2 1127,981.7 1128.2,977.2 1129.4,973.7 1130.3,972.7 1130.6,972.7 1131.8,973.1 1133,973.7 1134.2,974.4 1135.4,974.8 1135.7,974.8 1136.6,974.4 1137.8,972.8 1139,970.7 1140.2,968.7 1141.4,967.4 1141.9,967.3 1142.6,967.7 1143.8,969.8 1145,972.9 1146.2,976.2 1147.4,978.6 1148.4,979.4 1148.6,979.4 1149.8,978.4 1151,976.3 1152.2,973.8 1153.4,971.4 1154.6,969.8 1155.4,969.4 1155.8,969.5 1157,970.6 1158.2,972.8 1159.4,975.7 1160.6,978.9 1161.3,980.8 1161.8,982.3 1163,987.4 1164.2,993.3 1165.4,998.7 1166.6,1002.1 1166.7,1002.3 1167.8,1003.9 1169,1005.3 1170.2,1006.4 1171.4,1007.1 1172.1,1007.2 1172.6,1006.7 1173.8,1002 1175,994.5 1176.2,986.7 1177.4,981.1 1177.5,980.8 1178.6,978 1179.8,975.4 1181,973.2 1182.2,971.2 1183.4,969.6 1184.2,968.6 1184.6,968.1 1185.8,966.7 1187,965.3 1188.2,964.2 1189.4,963.4 1190.4,963.2 1190.6,963.3 1191.8,968.5 1193,978.1 1194.2,988.1 1195.4,994.3 1195.8,994.8 1196.6,993.5 1197.8,987.6 1199,979.1 1200.2,970.2 1201.4,963.1 1201.7,961.9 1202.6,958.7 1203.8,954.4 1205,950.4 1206.2,947.2 1207.4,945.1 1208.5,944.4 1208.6,944.4 1209.8,947 1211,952.7 1212.2,960 1213.4,967.3 1213.9,970 1214.6,973.9 1215.8,981.7 1217,990 1218.2,997.5 1219.4,1002.9 1220.6,1005 1220.6,1005 1221.8,1004.9 1223,1004.5 1224.2,1003.8 1225.4,1002.9 1226.6,1001.9 1227.8,1000.6 1228.7,999.6 1229,999.2 1230.2,995.9 1231.4,991 1232.6,985.2 1233.8,979.4 1234.1,978.1 1235,973.4 1236.2,966 1237.4,959.6 1238.6,956.5 1238.7,956.5 1239.8,960.7 1241,971.5 1242.2,983.5 1243.4,991.2 1243.5,991.5 1244.6,994 1245.8,996.4 1247,998.3 1248.2,999.6 1249.4,1000.2 1249.7,1000.2 1250.6,999.1 1251.8,995.2 1253,990 1254.2,985.4 1255.4,983 1255.6,982.9 1256.6,983.5 1257.8,985.7 1259,988.7 1260.2,992.1 1261,994.2 1261.4,995.2 1262.6,998.3 1263.8,1001.6 1265,1005.2 1266.2,1009.4 1267.4,1014.1 1267.8,1015.8 1268.6,1020.2 1269.8,1029.2 1271,1039.2 1272.2,1048.2 1273.2,1053.5 1273.4,1054.3 1274.6,1058.8 1275.8,1063 1277,1066.5 1278.2,1068.8 1279.4,1069.7 1279.4,1069.7 1280.6,1068.1 1281.8,1063.8 1283,1057.9 1284.2,1051.3 1285.3,1045.5 1285.4,1045 1286.6,1037.2 1287.8,1027.5 1289,1017.7 1290.2,1009.4 1291.4,1004.4 1292,1003.7 1292.6,1004.6 1293.8,1010.4 1295,1019.2 1296.2,1028.3 1297.4,1034.7 1297.4,1034.7 1298.6,1038.4 1299.8,1041.5 1301,1044.2 1302.2,1046.8 1302.8,1048.1 1303.4,1049.5 1304.6,1052.6 1305.8,1055.8 1307,1058.7 1308.2,1060.7 1309.4,1061.6 1309.5,1061.6 1310.6,1061 1311.8,1059.5 1313,1057.7 1314.2,1056.4 1314.9,1056.2 1315.4,1056.3 1316.6,1056.7 1317.8,1057.5 1319,1058.4 1320.2,1059.1 1321.4,1059.5 1321.7,1059.5 1322.6,1059.5 1323.8,1059.4 1325,1059.2 1326.2,1059.1 1327.4,1058.9 1328.4,1058.9 1328.6,1059 1329.8,1061.2 1331,1065.3 1332.2,1069.5 1333.4,1072.2 1333.8,1072.4 1334.6,1072.3 1335.8,1071.9 1337,1071.3 1338.2,1070.7 1339.2,1070.3 1339.4,1070.2 1340.6,1069.9 1341.8,1069.7 1343,1069.4 1344.2,1069.1 1345.4,1068.7 1345.9,1068.4 1346.6,1066.6 1347.8,1058.6 1349,1047.5 1350.2,1036.7 1351.4,1030 1351.9,1029.3 1352.6,1030.7 1353.8,1037.8 1355,1047.7 1356.2,1056.5 1356.7,1058.9 1357.4,1061.5 1358.6,1065.9 1359.8,1070 1361,1073.3 1362.2,1075.6 1363.4,1076.5 1363.5,1076.5 1364.6,1074.3 1365.8,1068.6 1367,1061.9 1368.2,1057.1 1368.8,1056.2 1369.4,1056 1370.6,1055.7 1371.8,1055.6 1373,1055.4 1374.2,1055.3 1375.4,1055 1375.6,1054.9 1376.6,1053.7 1377.8,1050.4 1379,1046.5 1380.2,1042.9 1381.4,1040.8 1381.8,1040.6 1382.6,1042.5 1383.8,1050.5 1385,1060.9 1386.2,1069.5 1387.2,1072.4 1387.4,1072.4 1388.6,1072.2 1389.8,1071.7 1391,1071.2 1392.2,1070.6 1393.1,1070.3 1393.4,1070.2 1394.6,1069.9 1395.8,1069.7 1397,1069.4 1398.2,1069.1 1399.4,1068.6 1399.8,1068.4 1400.6,1066.2 1401.8,1057.4 1403,1045.2 1404.2,1032.5 1405.4,1022.5 1406.6,1018.5 1406.6,1018.5 1407.8,1019.2 1409,1021 1410.2,1023.6 1411.4,1026.7 1412.6,1030.1 1413.3,1032 1413.8,1033.5 1415,1038.4 1416.2,1044.1 1417.4,1049.4 1418.6,1053.3 1418.7,1053.5 1419.8,1055.8 1421,1058.1 1422.2,1059.7 1423.3,1060.3 1423.4,1060.3 1424.6,1054.6 1425.8,1043.4 1427,1032.6 1428.1,1028.1 1428.2,1028.1 1429.4,1027.8 1430.6,1027.6 1431.8,1027.5 1432.1,1027.5 1433,1027.8 1434.2,1029.1 1435.4,1030.8 1436.2,1032.1 1436.6,1032.9 1437.8,1036.6 1439,1041.3 1440.2,1045.4 1441.4,1047.4 1441.6,1047.5 1442.6,1046.9 1443.8,1045.1 1445,1042.6 1446.2,1040.1 1447,1038.8 1447.4,1038.2 1448.6,1036.3 1449.8,1034.3 1451,1032.5 1452.2,1031.1 1453.4,1030.3 1453.7,1030.2 1454.6,1030 1455.8,1029.9 1457,1029.8 1458.2,1029.7 1459.4,1029.6 1460.4,1029.4 1460.6,1029.3 1461.8,1028.6 1463,1027.4 1464.2,1026.2 1465.4,1025.5 1465.8,1025.4 1466.6,1027 1467.8,1033.6 1469,1042.2 1470.2,1049.4 1471.2,1051.8 1471.4,1051.8 1472.6,1051.4 1473.8,1050.5 1475,1049.2 1476.2,1047.5 1476.6,1046.9 1477.4,1044.4 1478.6,1036.9 1479.8,1027.7 1481,1019.4 1482.2,1014.8 1482.5,1014.6 1483.4,1014.6 1484.6,1014.6 1485.8,1014.6 1487,1014.6 1488.2,1014.6 1489.4,1014.6 1489.5,1014.6 1490.6,1017.4 1491.8,1025 1493,1034.4 1494.2,1042.6 1495.4,1046.4 1495.5,1046.4 1496.6,1044.4 1497.8,1039.3 1499,1033.3 1500.2,1028.9 1500.9,1028.1 1501.4,1028.5 1502.6,1031.9 1503.8,1037.3 1505,1042.7 1506.2,1046.4 1506.8,1046.9 1507.4,1046.6 1508.6,1044.9 1509.8,1041.9 1511,1038.5 1512.2,1035.3 1513,1033.5 1513.4,1032.7 1514.6,1030.1 1515.8,1027.5 1517,1025.2 1518.2,1023.7 1519.2,1023.2 1519.4,1023.2 1520.6,1024.7 1521.8,1027.8 1523,1031.3 1524.2,1034.4 1525.4,1036.1 1525.7,1036.2 1526.6,1035.3 1527.8,1031.8 1529,1026.7 1530.2,1021.2 1531.4,1016.2 1531.9,1014.6 1532.6,1012.4 1533.8,1008.4 1535,1004.6 1536.2,1001.6 1537.4,999.9 1537.8,999.8 1538.6,1000.3 1539.8,1002.4 1541,1005.6 1542.2,1009.4 1543.4,1013 1544,1014.6 1544.6,1016.1 1545.8,1019.2 1547,1022.3 1548.2,1025.4 1549.4,1028.2 1550.6,1030.6 1550.7,1030.8 1551.8,1032.8 1553,1035 1554.2,1036.9 1555.4,1038.1 1556.1,1038.3 1556.6,1038.3 1557.8,1038.1 1559,1037.8 1560.2,1037.3 1561.4,1036.6 1562.6,1035.9 1563.8,1035.1 1564.2,1034.8 1565,1034 1566.2,1032.1 1567.4,1029.7 1568.6,1027.2 1569.6,1025.4 1569.8,1025.1 1571,1022.8 1572.2,1020.6 1573.4,1019 1574.2,1018.6 1574.6,1018.7 1575.8,1019.5 1577,1020.8 1578.2,1021.8 1579,1022.1 1579.4,1021 1580.6,1008.1 1581.8,991.3 1582.5,984.9 1583,982.1 1584.2,975.9 1585.4,972.3 1585.8,972 1586.6,973.1 1587.8,977.7 1589,984.4 1590.2,991.3 1591.2,995.7 1591.4,996.4 1592.6,1000.3 1593.8,1003.9 1595,1007.3 1596.2,1010.4 1597.4,1013.4 1597.9,1014.6 1598.6,1016.4 1599.8,1019.7 1601,1022.8 1602.2,1025.1 1603.3,1025.9 1603.4,1025.9 1604.6,1023.7 1605.8,1019.1 1607,1014.1 1608.2,1010.9 1608.7,1010.5 1609.4,1011 1610.6,1013.9 1611.8,1018 1613,1021.9 1614.1,1024 1614.2,1024.1 1615.4,1025.2 1616.6,1026.2 1617.8,1026.9 1619,1027.3 1619.5,1027.3 1620.2,1027.2 1621.4,1026.8 1622.6,1026.1 1623.8,1025.1 1625,1023.9 1626.2,1022.7 1626.2,1022.7 1627.4,1020.9 1628.6,1018.3 1629.8,1015.3 1631,1012.2 1632.2,1009.3 1632.9,1007.9 1633.4,1007 1634.6,1004.5 1635.8,1002.1 1637,1000.1 1638.2,998.7 1639.1,998.4 1639.4,998.5 1640.6,1000.3 1641.8,1003.9 1643,1008.5 1644.2,1013 1645.1,1015.9 1645.4,1016.8 1646.6,1020.9 1647.8,1025.3 1649,1028.8 1650.2,1030.7 1650.5,1030.8 1651.4,1030.8 1652.6,1030.6 1653.8,1030.4 1655,1030.2 1655.8,1030.2 1656.2,1030.4 1657.4,1033.2 1658.6,1037.6 1659.8,1041.9 1661,1044.1 1661.2,1044.2 1662.2,1043.7 1663.4,1042.2 1664.6,1040.2 1665.8,1038.4 1667,1037.5 1667.2,1037.5 1668.2,1038.9 1669.4,1043.4 1670.6,1049.7 1671.8,1056.4 1673,1062.1 1674.2,1065.4 1674.7,1065.8 1675.4,1063.8 1676.6,1053.1 1677.8,1038.5 1679,1025.5 1680.1,1020 1680.2,1019.9 1681.4,1019.2 1682.6,1018.8 1683.8,1018.5 1685,1018.2 1686.2,1017.7 1686.8,1017.3 1687.4,1016.6 1688.6,1014 1689.8,1010.6 1691,1007.7 1692.2,1006.5 1692.2,1006.5 1693.4,1008.7 1694.6,1014.2 1695.8,1021.2 1697,1027.9 1698.2,1032.5 1699,1033.5 1699.4,1033.4 1700.6,1032.5 1701.8,1030.8 1703,1028.7 1704.2,1026.4 1705.4,1024.4 1706.6,1023 1707.1,1022.7 1707.8,1022.4 1709,1021.9 1710.2,1021.4 1711.4,1021.1 1712.6,1020.8 1713.8,1020.6 1715,1020.5 1715.1,1020.5 1716.2,1021.9 1717.4,1025.8 1718.6,1031 1719.8,1036.4 1721,1040.7 1722.2,1042.9 1722.4,1042.9 1723.4,1042.8 1724.6,1042.3 1725.8,1041.5 1727,1040.4 1728.2,1039.2 1728.6,1038.8 1729.4,1037.2 1730.6,1032.8 1731.8,1027.4 1733,1022.3 1734.2,1019.1 1734.8,1018.6 1735.4,1019.2 1736.6,1023.3 1737.8,1029.4 1739,1035.5 1740.2,1039.6 1740.8,1040.2 1741.4,1040.2 1742.6,1040.2 1743.8,1040.2 1745,1040.2 1746.2,1040.2 1746.7,1040.2 1747.4,1039.7 1748.6,1037 1749.8,1032.8 1751,1028.3 1752.2,1024.3 1752.9,1022.7 1753.4,1021.9 1754.6,1020.1 1755.8,1018.7 1757,1017.4 1758.2,1015.9 1759.1,1014.6 1759.4,1014.1 1760.6,1011.3 1761.8,1008.1 1763,1005.4 1764.2,1003.9 1764.5,1003.8 1765.4,1005.6 1766.6,1012.3 1767.8,1021.9 1769,1032.1 1770.2,1040.4 1770.4,1041.5 1771.4,1046.8 1772.6,1053.5 1773.8,1059.5 1775,1063.9 1776.2,1065.8 1776.3,1065.8 1777.4,1064 1778.6,1058.7 1779.8,1051.4 1781,1043.5 1782.2,1036.4 1782.5,1034.9 1783.4,1030.2 1784.6,1023.1 1785.8,1016.3 1787,1011.4 1788.1,1009.7 1788.2,1009.7 1789.4,1013.1 1790.6,1019.8 1791.8,1026.5 1793,1029.9 1793.1,1029.9 1794.2,1029.5 1795.4,1028.6 1796.6,1027.4 1797.8,1026.3 1799,1025.8 1799.2,1025.8 1800.2,1025.9 1801.4,1026.4 1802.6,1027 1803.8,1027.9 1805,1028.7 1805.3,1028.9 1806.2,1029.7 1807.4,1031.2 1808.6,1032.8 1809.8,1034.2 1811,1034.9 1811.3,1034.9 1812.2,1034.3 1813.4,1032.1 1814.6,1029.2 1815.8,1026.5 1817,1024.9 1817.4,1024.8 1818.2,1026.6 1819.4,1033.2 1820.4,1039 1820.6,1040 1821.8,1047.1 1823,1053.6 1824.1,1056.2 1824.2,1056.2 1825.4,1052.1 1826.6,1044.4 1827.8,1037.6 1828.5,1035.9 1829,1035.6 1830.2,1035 1831.4,1034.6 1832.6,1034.2 1833.6,1033.9 1833.8,1033.8 1835,1033.5 1836.2,1033.1 1836.6,1032.9 1837.4,1031.9 1838.6,1028.7 1839.8,1025 1841,1022.3 1841.7,1021.8 1842.2,1021.9 1843.4,1022.9 1844.6,1024.7 1845.8,1027 1847,1029.5 1847.7,1030.9 1848.2,1032 1849.4,1035.7 1850.6,1039.9 1851.8,1043.9 1853,1046.5 1853.8,1047.1 1854.2,1047 1855.4,1045.3 1856.6,1042.3 1857.8,1038.7 1859,1035.1 1859.9,1032.9 1860.2,1032.3 1861.4,1029.4 1862.6,1026.5 1863.8,1023.9 1865,1022.2 1865.9,1021.8 1866.2,1022 1867.4,1026.9 1868.6,1035.7 1869.8,1045.6 1870,1047.1 1871,1055.9 1872.2,1068.5 1873.4,1080.5 1874,1085.5 1874.6,1090.2 1875.8,1099.8 1877,1107.3 1878,1109.7 1878.2,1109.6 1879.4,1105.5 1880.6,1097.3 1881.8,1087.8 1882.1,1085.5 1883,1077.6 1884.2,1064.7 1885.4,1052.4 1886.1,1047.1 1886.6,1043.9 1887.8,1036.4 1889,1031.1 1889.8,1029.9 1890.2,1030 1891.4,1031.6 1892.6,1034.4 1893.8,1037.8 1894.2,1039 1895,1042 1896.2,1048.1 1897.4,1054.8 1898.3,1059.2 1898.6,1060.6 1899.8,1066.7 1901,1071.8 1901.9,1073.3 1902.2,1073.1 1903.4,1069.7 1904.6,1064 1905.8,1058.7 1906.3,1057.2 1907,1055.6 1908.2,1053.2 1909.4,1051.2 1910.6,1049.4 1911.8,1047.8 1912.4,1047.1 1913,1046.4 1914.2,1045 1915.4,1043.6 1916.6,1042.4 1917.8,1041.5 1919,1041 1919.5,1041 1920.2,1041.4 1921.4,1043.9 1922.5,1047.1 1922.6,1047.4 1923.8,1054.8 1925,1065.7 1926.2,1076.5 1926.6,1079.4 1927.4,1085.1 1928.6,1094.1 1929.8,1102.1 1931,1107 1931.6,1107.7 1932.2,1106.5 1933.4,1098.5 1934.6,1087.3 1935.3,1081.4 1935.8,1077 1937,1064.8 1938.1,1059.2 1938.2,1059.2 1939.4,1059.5 1940.6,1060.2 1941.7,1061.2 1941.8,1061.3 1943,1063.8 1944.2,1067.9 1944.8,1070.3" fill="none" stroke="#b3b3b3" stroke-width="3.3" stroke-linejoin="round"/>
<path d="M390.2,482.4 391.4,502 392.6,520.5 393.8,537.5 394.3,544 395,552.7 396.2,566.7 397.4,579.7 398.6,592.1 399.8,603.9 400.3,608.7 401,615.3 402.2,626.2 403.4,636.6 404.6,646.7 405.8,656.6 407,666.2 407.4,669.4 408.2,675.9 409.4,686 410.6,695.6 411.8,703.9 412.5,707.8 413,710.3 414.2,715.7 415.4,720.6 416.6,724.8 417.8,728.3 418.5,730 419,731.1 420.2,733.7 421.4,736 422.6,738 423.8,739.5 424.6,740.1 425,740.3 426.2,740.8 427.4,741.2 428.6,741.6 429.6,742.1 429.8,742.2 431,743.2 432.2,745.1 432.7,746.2 433.4,751.4 434.6,768.9 434.7,770.4 435.8,791.5 436.3,800.8 437,812.5 437.7,821 438.2,824.4 439.4,830.6 440.6,834.6 440.8,835.1 441.8,837.4 443,840 444.2,842.1 445.4,843.5 446.6,844.2 446.8,844.2 447.8,844.1 449,843.9 450.2,843.5 450.9,843.2 451.4,842.8 452.6,841.2 453.8,839.6 454.5,839.3 455,839.8 456.2,843.9 457.3,849.6 457.4,850.2 458.6,860.6 459.8,873.4 460.3,877.9 461,883.6 462.2,893 463.4,901.2 464.4,906.2 464.6,907 465.8,911.6 466.8,913.3 467,913.1 468.2,907.8 469.4,902.1 469.4,902.1 470.6,899.6 471.8,897.6 473,896.6 473.3,896.6 474.2,896.9 475.4,898.1 476.6,900.1 477.8,902.4 479,905 479.4,905.8 480.2,907.6 481.4,910.8 482.6,914.7 483.8,919.2 484.8,923.5 485,924.4 486.2,931.6 487.4,940.3 487.9,944 488.6,949.7 489.8,960.4 490.8,968.8 491,970.3 492.2,979.7 493.4,988.3 494.6,994.7 494.7,995.1 495.8,998.6 497,1001.6 498.2,1004.1 498.7,1005.2 499.4,1006.6 500.6,1008.4 501.8,1010.5 502.8,1013.3 503,1014.1 504.2,1023.3 504.8,1029.5 505.4,1037.6 506.6,1057.2 506.8,1059.8 507.8,1072.9 508.8,1080 509,1079.8 510.2,1073.7 511.4,1063.5 511.9,1059.8 512.6,1054.5 513.8,1044.9 514.9,1039.6 515,1039.4 516.2,1037.5 517.4,1036.1 518.6,1035.5 518.9,1035.5 519.8,1035.9 521,1037.4 522.2,1039.8 523,1041.6 523.4,1042.8 524.6,1048.8 525.8,1056.5 527,1063.8 527,1063.8 528.2,1070.5 529.4,1077.1 530.6,1082.5 531.1,1084.1 531.8,1086 533,1088.1 533.1,1088.1 534.2,1086.6 535.4,1083.4 536.1,1082 536.6,1081.3 537.8,1079.6 538.8,1079 539,1079.1 540.2,1084.2 541.2,1090.1 541.4,1091.2 542.6,1099.5 543.6,1104.3 543.8,1104.7 545,1106.3 545.2,1106.3 546.2,1104.7 547.4,1100.7 548.3,1098.2 548.6,1097.6 549.8,1095.2 550.9,1094.2 551,1094.2 552.2,1098.3 553.3,1104.3 553.4,1104.8 554.6,1111.9 555.8,1119.8 557,1126.7 557.4,1128.5 558.2,1131.8 559.4,1136.6 560.6,1139.9 561.4,1140.7 561.8,1140.3 563,1135.7 564.2,1129.1 565.4,1124.5 565.4,1124.5 566.6,1122.3 567.8,1120.5 569,1119.5 569.5,1119.4 570.2,1119.7 571.4,1121.3 572.6,1123.8 573.8,1126.8 574.5,1128.5 575,1130 576.2,1134.8 577.4,1139.7 578.6,1142.7 578.6,1142.7 579.8,1143.9 581,1144.6 581.6,1144.7 582.2,1144.6 583.4,1144.1 584.6,1143.4 585.8,1142.9 586.7,1142.7 587,1142.8 588.2,1145.1 589.4,1148.2 589.7,1148.8 590.6,1150.7 591.8,1153.1 592.7,1153.8 593,1153.5 594.2,1148.2 595.4,1139.5 595.8,1136.6 596.6,1128.8 597.8,1114.8 598.8,1109.3 599,1109.7 600.2,1122.9 601.4,1140.7 601.4,1140.7 602.6,1155.7 603.8,1166.5 603.9,1166.9 605,1169.6 605.5,1170 606.2,1169.6 607.4,1167.3 608.6,1163.6 609.8,1159.3 609.9,1158.9 611,1152.7 612.2,1143.2 613.4,1135 614,1132.6 614.6,1131 615.8,1128.4 617,1126.7 617.6,1126.5 618.2,1126.7 619.4,1128.3 620.6,1131 621.8,1134.1 622,1134.6 623,1137.9 624.2,1143.1 625.4,1149.4 626.6,1156.1 627.1,1158.9 627.8,1163 629,1170.6 630.2,1178.8 631.1,1185.1 631.4,1187.4 632.6,1198.7 633.8,1207.1 634.2,1207.8 635,1206.1 636.2,1198.8 637.4,1188.1 638.6,1177 639.8,1168.2 640.2,1166.3 641,1163.1 642.2,1158.5 643.4,1154.3 644.6,1150.8 645.8,1148.3 647,1147.2 647.3,1147.1 648.2,1147.4 649.4,1148.7 650.6,1150.8 651.8,1153.6 653,1157 653.4,1158.2 654.2,1162.9 655.4,1175.7 656.6,1190.1 657.8,1200.2 658.4,1201.7 659,1201.3 660.2,1198.1 661.4,1192.8 662.6,1186.4 663.8,1179.9 664.5,1176.4 665,1173.8 666.2,1166.1 667.4,1157.8 668.6,1150.7 669.8,1146.7 670.2,1146.4 671,1148 672.2,1155 673.4,1164.9 674.6,1174.9 675.2,1179 675.8,1182.9 677,1191.5 678.2,1200.5 679.4,1209 680.6,1216 681.8,1220.7 682.8,1222 683,1222 684.2,1220.1 685.4,1216.1 686.6,1210.9 687.8,1205.2 689,1199.9 689.7,1197.3 690.2,1195.6 691.4,1190.9 692.6,1186.1 693.8,1182.3 695,1180.2 695.4,1180 696.2,1180.4 697.4,1182.1 698.6,1185.1 699.8,1188.8 701,1193 701,1193 702.2,1199.8 703.4,1210.2 704.6,1221.7 705.8,1232.2 706.4,1236.4 707,1240.2 708.2,1248.1 709.4,1255.6 710.6,1261.6 711.8,1264.9 712.3,1265.3 713,1265 714.2,1263.4 715.4,1260.7 716.6,1257.4 717.8,1254 718.7,1251.5 719,1250.7 720.2,1246.2 721.4,1241 722.6,1236.4 723.8,1233.4 724.4,1233 725,1233.6 726.2,1237.4 727.4,1242.6 728.6,1246.3 728.7,1246.5 729.8,1248 731,1249.1 732.2,1250.1 733.4,1251.2 734.1,1251.9 734.6,1252.5 735.8,1253.7 737,1255.2 738.2,1257.2 738.2,1257.2 739.4,1261.5 740.6,1267.6 741.8,1271.8 742.2,1272.1 743,1270.3 744.2,1263.3 745.4,1255.4 746.3,1251.9 746.6,1251.3 747.8,1249.3 749,1247.6 750.2,1246.4 751.4,1245.9 751.6,1245.9 752.6,1246.6 753.8,1249 755,1252.4 755.7,1254.5 756.2,1256.6 757.4,1264.9 758.6,1274.4 759.8,1280.8 760.3,1281.5 761,1280.9 762.2,1278.1 763.4,1274.1 764.6,1270.7 765.7,1269.4 765.8,1269.4 767,1271.6 768.2,1276 769.4,1280.7 770.6,1283.8 771.1,1284.2 771.8,1283 773,1276.9 774.2,1268.6 775.4,1261.6 775.9,1259.9 776.6,1258.2 777.8,1255.5 779,1253.7 779.9,1253.2 780.2,1253.2 781.4,1254.3 782.6,1256.3 783.8,1259 785,1261.9 785.3,1262.6 786.2,1265.6 787.4,1271.1 788.6,1276.6 789.8,1279.9 790.2,1280.2 791,1279.7 792.2,1277.5 793.4,1274.2 794.6,1270.5 795.8,1267 797,1264.6 797.5,1264 798.2,1263.5 799.4,1262.6 800.6,1261.9 801.8,1261.4 802.9,1261.3 803,1261.3 804.2,1261.5 805.4,1261.9 806.6,1262.3 807.8,1262.6 808.2,1262.6 809,1261.9 810.2,1259.1 811.4,1255.2 812.6,1251.6 813.8,1249.4 814.2,1249.2 815,1250.2 816.2,1254.5 817.4,1260.5 818.6,1266.4 819,1268 819.8,1271.2 821,1276.5 822.2,1281.6 823.4,1285.4 824.4,1286.9 824.6,1287 825.8,1287.6 827,1288 828.2,1288.2 828.5,1288.2 829.4,1287.8 830.6,1286.1 831.8,1283.6 833,1280.8 833.9,1278.8 834.2,1278.1 835.4,1274.1 836.6,1270.1 837.8,1268 837.9,1268 839,1271 840.2,1277.9 841.4,1283.5 841.9,1284.2 842.6,1284.1 843.8,1283.7 845,1283 846.2,1282.3 847.4,1281.8 848.6,1281.5 848.7,1281.5 849.8,1281.8 851,1282.7 852.2,1284.1 853.4,1285.6 854.6,1287.2 855.4,1288.2 855.8,1288.7 857,1290.6 858.2,1292.8 859.4,1295 860.6,1296.7 861.8,1297.6 862.2,1297.7 863,1297.6 864.2,1297.2 865.4,1296.5 866.6,1295.6 867.8,1294.6 868.9,1293.6 869,1293.5 870.2,1291.6 871.4,1289 872.6,1286.5 873.8,1284.9 874.3,1284.7 875,1285.1 876.2,1287 877.4,1289.4 878.6,1290.8 878.9,1290.9 879.8,1290.5 881,1289.3 882.2,1287.8 883.4,1286.9 883.7,1286.9 884.6,1287.2 885.8,1288.6 887,1290.6 888.2,1292.8 889.4,1294.9 890.6,1296.5 891.8,1297.1 891.8,1297.1 893,1296.6 894.2,1295.4 895.4,1293.4 896.6,1291 897.2,1289.6 897.8,1287.3 899,1279.1 900.2,1269.2 901.2,1262.6 901.4,1261.5 902.6,1255.1 903.6,1252.5 903.8,1252.6 905,1255.8 906.2,1262.6 907.4,1271.1 908.6,1279.5 909.8,1286.2 910,1287 911,1290.8 912.2,1295.5 913.4,1300.1 914.6,1304.4 915.8,1308.2 917,1311.3 918.2,1313.7 919.4,1315 920.1,1315.2 920.6,1314.7 921.8,1310.4 923,1302.9 924.2,1294 925.4,1285.5 926,1282 926.6,1278.5 927.8,1270.6 929,1263.1 930.2,1258.1 930.9,1257.2 931.4,1257.5 932.6,1260.8 933.8,1266.6 935,1273.6 936.2,1280.7 937.4,1286.6 937.5,1287 938.6,1291.7 939.8,1297.2 941,1302.7 942.2,1307.6 943.4,1311.4 944.6,1313.5 945.2,1313.8 945.8,1313.2 947,1308.6 948.2,1300.8 949.4,1291.3 950.6,1281.6 951.8,1273.2 952,1272 953,1265.6 954.2,1257.2 955.4,1249.6 956.6,1244.7 957.3,1243.8 957.8,1244.2 959,1248 960.2,1254.6 961.4,1262.6 962.6,1270.3 963.5,1275 963.8,1276.4 965,1282.6 966.2,1289 967.4,1294.6 968.6,1298.2 969.4,1299 969.8,1298.4 971,1291.1 972.2,1279.7 973.4,1269.7 974,1267 974.6,1265.5 975.8,1263.5 977,1261.8 978.1,1259.9 978.2,1259.7 979.4,1257 980.6,1253.9 981.8,1250.5 983,1247 983,1247 984.2,1242.4 985.4,1237 986.6,1232.8 987.5,1231.6 987.8,1231.7 989,1234 990.2,1238.6 991.4,1244.1 992.6,1249.6 993.5,1253 993.8,1254 995,1258.4 996.2,1263 997.4,1267.1 998.6,1269.9 999.6,1270.7 999.8,1270.7 1001,1268.7 1002.2,1264.6 1003.4,1259.4 1004.6,1254.3 1005.5,1251 1005.8,1250 1007,1245.6 1008.2,1241 1009.4,1237 1010.6,1234.6 1011.2,1234.3 1011.8,1235 1013,1239.8 1014.2,1247.6 1015.4,1256.5 1016.6,1264.8 1017,1267 1017.8,1271.6 1019,1279.2 1020.2,1286.4 1021.4,1291.7 1022.5,1293.6 1022.6,1293.6 1023.8,1289.5 1025,1281.5 1026.2,1273.5 1026.5,1272 1027.4,1267.5 1028.6,1261.4 1029.8,1256.9 1030.6,1255.9 1031,1255.9 1032.2,1255.9 1033.4,1256 1034.6,1256.1 1035.8,1256.3 1037,1256.5 1038.2,1256.7 1039.4,1257 1040,1257.2 1040.6,1257.9 1041.8,1261.4 1043,1266.5 1044.2,1271.1 1045.4,1273.4 1045.4,1273.4 1046.6,1273.9 1047.8,1274.3 1049,1274.6 1050.2,1274.8 1050.8,1274.8 1051.4,1274.6 1052.6,1273.1 1053.8,1270.8 1055,1268.3 1056.2,1266.2 1057.4,1265.3 1057.5,1265.3 1058.6,1265.4 1059.8,1265.6 1061,1266 1062.2,1266.4 1062.9,1266.7 1063.4,1267.1 1064.6,1268.9 1065.8,1271.6 1067,1274.7 1068.2,1277.4 1069.4,1279.2 1070.2,1279.6 1070.6,1279.4 1071.8,1277.4 1073,1273.9 1074.2,1270 1075.4,1266.7 1076.4,1265.3 1076.6,1265.2 1077.8,1264.5 1079,1264 1080.2,1263.6 1081.4,1263.4 1081.8,1263.4 1082.6,1263.9 1083.8,1266.2 1085,1269.7 1086.2,1273.6 1087.4,1277 1088.6,1279.2 1089.3,1279.6 1089.8,1279.5 1091,1278.5 1092.2,1276.6 1093.4,1274 1094.6,1271.2 1095.3,1269.4 1095.8,1267.8 1097,1261.5 1098.2,1254 1099.4,1247.7 1100.6,1245.1 1100.6,1245.1 1101.8,1245.1 1103,1245.1 1104.2,1245.1 1105.4,1245.1 1106,1245.1 1106.6,1245.1 1107.8,1245 1109,1244.9 1110.2,1244.8 1111.4,1244.7 1112.6,1244.6 1112.8,1244.6 1113.8,1245.1 1115,1246.9 1116.2,1249.5 1117.4,1252.5 1118.2,1254.5 1118.6,1255.6 1119.8,1260.5 1121,1266.5 1122.2,1272.6 1123.4,1277.6 1124.6,1280.1 1124.9,1280.2 1125.8,1279.2 1127,1275.7 1128.2,1271.2 1129.4,1267.7 1130.3,1266.7 1130.6,1266.7 1131.8,1267.1 1133,1267.7 1134.2,1268.4 1135.4,1268.8 1135.7,1268.8 1136.6,1268.4 1137.8,1266.8 1139,1264.7 1140.2,1262.7 1141.4,1261.4 1141.9,1261.3 1142.6,1261.7 1143.8,1263.8 1145,1266.9 1146.2,1270.2 1147.4,1272.6 1148.4,1273.4 1148.6,1273.4 1149.8,1272.4 1151,1270.3 1152.2,1267.8 1153.4,1265.4 1154.6,1263.8 1155.4,1263.4 1155.8,1263.5 1157,1264.6 1158.2,1266.8 1159.4,1269.7 1160.6,1272.9 1161.3,1274.8 1161.8,1276.3 1163,1281.4 1164.2,1287.3 1165.4,1292.7 1166.6,1296.1 1166.7,1296.3 1167.8,1297.9 1169,1299.3 1170.2,1300.4 1171.4,1301.1 1172.1,1301.2 1172.6,1300.7 1173.8,1296 1175,1288.5 1176.2,1280.7 1177.4,1275.1 1177.5,1274.8 1178.6,1272 1179.8,1269.4 1181,1267.2 1182.2,1265.2 1183.4,1263.6 1184.2,1262.6 1184.6,1262.1 1185.8,1260.7 1187,1259.3 1188.2,1258.2 1189.4,1257.4 1190.4,1257.2 1190.6,1257.3 1191.8,1262.5 1193,1272.1 1194.2,1282.1 1195.4,1288.3 1195.8,1288.8 1196.6,1287.5 1197.8,1281.6 1199,1273.1 1200.2,1264.2 1201.4,1257.1 1201.7,1255.9 1202.6,1252.7 1203.8,1248.4 1205,1244.4 1206.2,1241.2 1207.4,1239.1 1208.5,1238.4 1208.6,1238.4 1209.8,1241 1211,1246.7 1212.2,1254 1213.4,1261.3 1213.9,1264 1214.6,1267.9 1215.8,1275.7 1217,1284 1218.2,1291.5 1219.4,1296.9 1220.6,1299 1220.6,1299 1221.8,1298.9 1223,1298.5 1224.2,1297.8 1225.4,1296.9 1226.6,1295.9 1227.8,1294.6 1228.7,1293.6 1229,1293.2 1230.2,1289.9 1231.4,1285 1232.6,1279.2 1233.8,1273.4 1234.1,1272.1 1235,1267.4 1236.2,1260 1237.4,1253.6 1238.6,1250.5 1238.7,1250.5 1239.8,1254.7 1241,1265.5 1242.2,1277.5 1243.4,1285.2 1243.5,1285.5 1244.6,1288 1245.8,1290.4 1247,1292.3 1248.2,1293.6 1249.4,1294.2 1249.7,1294.2 1250.6,1293.1 1251.8,1289.2 1253,1284 1254.2,1279.4 1255.4,1277 1255.6,1276.9 1256.6,1277.5 1257.8,1279.7 1259,1282.7 1260.2,1286.1 1261,1288.2 1261.4,1289.2 1262.6,1292.3 1263.8,1295.6 1265,1299.2 1266.2,1303.4 1267.4,1308.1 1267.8,1309.8 1268.6,1314.2 1269.8,1323.2 1271,1333.2 1272.2,1342.2 1273.2,1347.5 1273.4,1348.3 1274.6,1352.8 1275.8,1357 1277,1360.5 1278.2,1362.8 1279.4,1363.7 1279.4,1363.7 1280.6,1362.1 1281.8,1357.8 1283,1351.9 1284.2,1345.3 1285.3,1339.5 1285.4,1339 1286.6,1331.2 1287.8,1321.5 1289,1311.7 1290.2,1303.4 1291.4,1298.4 1292,1297.7 1292.6,1298.6 1293.8,1304.4 1295,1313.2 1296.2,1322.3 1297.4,1328.7 1297.4,1328.7 1298.6,1332.4 1299.8,1335.5 1301,1338.2 1302.2,1340.8 1302.8,1342.1 1303.4,1343.5 1304.6,1346.6 1305.8,1349.8 1307,1352.7 1308.2,1354.7 1309.4,1355.6 1309.5,1355.6 1310.6,1355 1311.8,1353.5 1313,1351.7 1314.2,1350.4 1314.9,1350.2 1315.4,1350.3 1316.6,1350.7 1317.8,1351.5 1319,1352.4 1320.2,1353.1 1321.4,1353.5 1321.7,1353.5 1322.6,1353.5 1323.8,1353.4 1325,1353.2 1326.2,1353.1 1327.4,1352.9 1328.4,1352.9 1328.6,1353 1329.8,1355.2 1331,1359.3 1332.2,1363.5 1333.4,1366.2 1333.8,1366.4 1334.6,1366.3 1335.8,1365.9 1337,1365.3 1338.2,1364.7 1339.2,1364.3 1339.4,1364.2 1340.6,1363.9 1341.8,1363.7 1343,1363.4 1344.2,1363.1 1345.4,1362.7 1345.9,1362.4 1346.6,1360.6 1347.8,1352.6 1349,1341.5 1350.2,1330.7 1351.4,1324 1351.9,1323.3 1352.6,1324.7 1353.8,1331.8 1355,1341.7 1356.2,1350.5 1356.7,1352.9 1357.4,1355.5 1358.6,1359.9 1359.8,1364 1361,1367.3 1362.2,1369.6 1363.4,1370.5 1363.5,1370.5 1364.6,1368.3 1365.8,1362.6 1367,1355.9 1368.2,1351.1 1368.8,1350.2 1369.4,1350 1370.6,1349.7 1371.8,1349.6 1373,1349.4 1374.2,1349.3 1375.4,1349 1375.6,1348.9 1376.6,1347.7 1377.8,1344.4 1379,1340.5 1380.2,1336.9 1381.4,1334.8 1381.8,1334.6 1382.6,1336.5 1383.8,1344.5 1385,1354.9 1386.2,1363.5 1387.2,1366.4 1387.4,1366.4 1388.6,1366.2 1389.8,1365.7 1391,1365.2 1392.2,1364.6 1393.1,1364.3 1393.4,1364.2 1394.6,1363.9 1395.8,1363.7 1397,1363.4 1398.2,1363.1 1399.4,1362.6 1399.8,1362.4 1400.6,1360.2 1401.8,1351.4 1403,1339.2 1404.2,1326.5 1405.4,1316.5 1406.6,1312.5 1406.6,1312.5 1407.8,1313.2 1409,1315 1410.2,1317.6 1411.4,1320.7 1412.6,1324.1 1413.3,1326 1413.8,1327.5 1415,1332.4 1416.2,1338.1 1417.4,1343.4 1418.6,1347.3 1418.7,1347.5 1419.8,1349.8 1421,1352.1 1422.2,1353.7 1423.3,1354.3 1423.4,1354.3 1424.6,1348.6 1425.8,1337.4 1427,1326.6 1428.1,1322.1 1428.2,1322.1 1429.4,1321.8 1430.6,1321.6 1431.8,1321.5 1432.1,1321.5 1433,1321.8 1434.2,1323.1 1435.4,1324.8 1436.2,1326.1 1436.6,1326.9 1437.8,1330.6 1439,1335.3 1440.2,1339.4 1441.4,1341.4 1441.6,1341.5 1442.6,1340.9 1443.8,1339.1 1445,1336.6 1446.2,1334.1 1447,1332.8 1447.4,1332.2 1448.6,1330.3 1449.8,1328.3 1451,1326.5 1452.2,1325.1 1453.4,1324.3 1453.7,1324.2 1454.6,1324 1455.8,1323.9 1457,1323.8 1458.2,1323.7 1459.4,1323.6 1460.4,1323.4 1460.6,1323.3 1461.8,1322.6 1463,1321.4 1464.2,1320.2 1465.4,1319.5 1465.8,1319.4 1466.6,1321 1467.8,1327.6 1469,1336.2 1470.2,1343.4 1471.2,1345.8 1471.4,1345.8 1472.6,1345.4 1473.8,1344.5 1475,1343.2 1476.2,1341.5 1476.6,1340.9 1477.4,1338.4 1478.6,1330.9 1479.8,1321.7 1481,1313.4 1482.2,1308.8 1482.5,1308.6 1483.4,1308.6 1484.6,1308.6 1485.8,1308.6 1487,1308.6 1488.2,1308.6 1489.4,1308.6 1489.5,1308.6 1490.6,1311.4 1491.8,1319 1493,1328.4 1494.2,1336.6 1495.4,1340.4 1495.5,1340.4 1496.6,1338.4 1497.8,1333.3 1499,1327.3 1500.2,1322.9 1500.9,1322.1 1501.4,1322.5 1502.6,1325.9 1503.8,1331.3 1505,1336.7 1506.2,1340.4 1506.8,1340.9 1507.4,1340.6 1508.6,1338.9 1509.8,1335.9 1511,1332.5 1512.2,1329.3 1513,1327.5 1513.4,1326.7 1514.6,1324.1 1515.8,1321.5 1517,1319.2 1518.2,1317.7 1519.2,1317.2 1519.4,1317.2 1520.6,1318.7 1521.8,1321.8 1523,1325.3 1524.2,1328.4 1525.4,1330.1 1525.7,1330.2 1526.6,1329.3 1527.8,1325.8 1529,1320.7 1530.2,1315.2 1531.4,1310.2 1531.9,1308.6 1532.6,1306.4 1533.8,1302.4 1535,1298.6 1536.2,1295.6 1537.4,1293.9 1537.8,1293.8 1538.6,1294.3 1539.8,1296.4 1541,1299.6 1542.2,1303.4 1543.4,1307 1544,1308.6 1544.6,1310.1 1545.8,1313.2 1547,1316.3 1548.2,1319.4 1549.4,1322.2 1550.6,1324.6 1550.7,1324.8 1551.8,1326.8 1553,1329 1554.2,1330.9 1555.4,1332.1 1556.1,1332.3 1556.6,1332.3 1557.8,1332.1 1559,1331.8 1560.2,1331.3 1561.4,1330.6 1562.6,1329.9 1563.8,1329.1 1564.2,1328.8 1565,1328 1566.2,1326.1 1567.4,1323.7 1568.6,1321.2 1569.6,1319.4 1569.8,1319.1 1571,1316.8 1572.2,1314.6 1573.4,1313 1574.2,1312.6 1574.6,1312.7 1575.8,1313.5 1577,1314.8 1578.2,1315.8 1579,1316.1 1579.4,1315 1580.6,1302.1 1581.8,1285.3 1582.5,1278.9 1583,1276.1 1584.2,1269.9 1585.4,1266.3 1585.8,1266 1586.6,1267.1 1587.8,1271.7 1589,1278.4 1590.2,1285.3 1591.2,1289.7 1591.4,1290.4 1592.6,1294.3 1593.8,1297.9 1595,1301.3 1596.2,1304.4 1597.4,1307.4 1597.9,1308.6 1598.6,1310.4 1599.8,1313.7 1601,1316.8 1602.2,1319.1 1603.3,1319.9 1603.4,1319.9 1604.6,1317.7 1605.8,1313.1 1607,1308.1 1608.2,1304.9 1608.7,1304.5 1609.4,1305 1610.6,1307.9 1611.8,1312 1613,1315.9 1614.1,1318 1614.2,1318.1 1615.4,1319.2 1616.6,1320.2 1617.8,1320.9 1619,1321.3 1619.5,1321.3 1620.2,1321.2 1621.4,1320.8 1622.6,1320.1 1623.8,1319.1 1625,1317.9 1626.2,1316.7 1626.2,1316.7 1627.4,1314.9 1628.6,1312.3 1629.8,1309.3 1631,1306.2 1632.2,1303.3 1632.9,1301.9 1633.4,1301 1634.6,1298.5 1635.8,1296.1 1637,1294.1 1638.2,1292.7 1639.1,1292.4 1639.4,1292.5 1640.6,1294.3 1641.8,1297.9 1643,1302.5 1644.2,1307 1645.1,1309.9 1645.4,1310.8 1646.6,1314.9 1647.8,1319.3 1649,1322.8 1650.2,1324.7 1650.5,1324.8 1651.4,1324.8 1652.6,1324.6 1653.8,1324.4 1655,1324.2 1655.8,1324.2 1656.2,1324.4 1657.4,1327.2 1658.6,1331.6 1659.8,1335.9 1661,1338.1 1661.2,1338.2 1662.2,1337.7 1663.4,1336.2 1664.6,1334.2 1665.8,1332.4 1667,1331.5 1667.2,1331.5 1668.2,1332.9 1669.4,1337.4 1670.6,1343.7 1671.8,1350.4 1673,1356.1 1674.2,1359.4 1674.7,1359.8 1675.4,1357.8 1676.6,1347.1 1677.8,1332.5 1679,1319.5 1680.1,1314 1680.2,1313.9 1681.4,1313.2 1682.6,1312.8 1683.8,1312.5 1685,1312.2 1686.2,1311.7 1686.8,1311.3 1687.4,1310.6 1688.6,1308 1689.8,1304.6 1691,1301.7 1692.2,1300.5 1692.2,1300.5 1693.4,1302.7 1694.6,1308.2 1695.8,1315.2 1697,1321.9 1698.2,1326.5 1699,1327.5 1699.4,1327.4 1700.6,1326.5 1701.8,1324.8 1703,1322.7 1704.2,1320.4 1705.4,1318.4 1706.6,1317 1707.1,1316.7 1707.8,1316.4 1709,1315.9 1710.2,1315.4 1711.4,1315.1 1712.6,1314.8 1713.8,1314.6 1715,1314.5 1715.1,1314.5 1716.2,1315.9 1717.4,1319.8 1718.6,1325 1719.8,1330.4 1721,1334.7 1722.2,1336.9 1722.4,1336.9 1723.4,1336.8 1724.6,1336.3 1725.8,1335.5 1727,1334.4 1728.2,1333.2 1728.6,1332.8 1729.4,1331.2 1730.6,1326.8 1731.8,1321.4 1733,1316.3 1734.2,1313.1 1734.8,1312.6 1735.4,1313.2 1736.6,1317.3 1737.8,1323.4 1739,1329.5 1740.2,1333.6 1740.8,1334.2 1741.4,1334.2 1742.6,1334.2 1743.8,1334.2 1745,1334.2 1746.2,1334.2 1746.7,1334.2 1747.4,1333.7 1748.6,1331 1749.8,1326.8 1751,1322.3 1752.2,1318.3 1752.9,1316.7 1753.4,1315.9 1754.6,1314.1 1755.8,1312.7 1757,1311.4 1758.2,1309.9 1759.1,1308.6 1759.4,1308.1 1760.6,1305.3 1761.8,1302.1 1763,1299.4 1764.2,1297.9 1764.5,1297.8 1765.4,1299.6 1766.6,1306.3 1767.8,1315.9 1769,1326.1 1770.2,1334.4 1770.4,1335.5 1771.4,1340.8 1772.6,1347.5 1773.8,1353.5 1775,1357.9 1776.2,1359.8 1776.3,1359.8 1777.4,1358 1778.6,1352.7 1779.8,1345.4 1781,1337.5 1782.2,1330.4 1782.5,1328.9 1783.4,1324.2 1784.6,1317.1 1785.8,1310.3 1787,1305.4 1788.1,1303.7 1788.2,1303.7 1789.4,1307.1 1790.6,1313.8 1791.8,1320.5 1793,1323.9 1793.1,1323.9 1794.2,1323.5 1795.4,1322.6 1796.6,1321.4 1797.8,1320.3 1799,1319.8 1799.2,1319.8 1800.2,1319.9 1801.4,1320.4 1802.6,1321 1803.8,1321.9 1805,1322.7 1805.3,1322.9 1806.2,1323.7 1807.4,1325.2 1808.6,1326.8 1809.8,1328.2 1811,1328.9 1811.3,1328.9 1812.2,1328.3 1813.4,1326.1 1814.6,1323.2 1815.8,1320.5 1817,1318.9 1817.4,1318.8 1818.2,1320.6 1819.4,1327.2 1820.4,1333 1820.6,1334 1821.8,1341.1 1823,1347.6 1824.1,1350.2 1824.2,1350.2 1825.4,1346.1 1826.6,1338.4 1827.8,1331.6 1828.5,1329.9 1829,1329.6 1830.2,1329 1831.4,1328.6 1832.6,1328.2 1833.6,1327.9 1833.8,1327.8 1835,1327.5 1836.2,1327.1 1836.6,1326.9 1837.4,1325.9 1838.6,1322.7 1839.8,1319 1841,1316.3 1841.7,1315.8 1842.2,1315.9 1843.4,1316.9 1844.6,1318.7 1845.8,1321 1847,1323.5 1847.7,1324.9 1848.2,1326 1849.4,1329.7 1850.6,1333.9 1851.8,1337.9 1853,1340.5 1853.8,1341.1 1854.2,1341 1855.4,1339.3 1856.6,1336.3 1857.8,1332.7 1859,1329.1 1859.9,1326.9 1860.2,1326.3 1861.4,1323.4 1862.6,1320.5 1863.8,1317.9 1865,1316.2 1865.9,1315.8 1866.2,1316 1867.4,1320.9 1868.6,1329.7 1869.8,1339.6 1870,1341.1 1871,1349.9 1872.2,1362.5 1873.4,1374.5 1874,1379.5 1874.6,1384.2 1875.8,1393.8 1877,1401.3 1878,1403.7 1878.2,1403.6 1879.4,1399.5 1880.6,1391.3 1881.8,1381.8 1882.1,1379.5 1883,1371.6 1884.2,1358.7 1885.4,1346.4 1886.1,1341.1 1886.6,1337.9 1887.8,1330.4 1889,1325.1 1889.8,1323.9 1890.2,1324 1891.4,1325.6 1892.6,1328.4 1893.8,1331.8 1894.2,1333 1895,1336 1896.2,1342.1 1897.4,1348.8 1898.3,1353.2 1898.6,1354.6 1899.8,1360.7 1901,1365.8 1901.9,1367.3 1902.2,1367.1 1903.4,1363.7 1904.6,1358 1905.8,1352.7 1906.3,1351.2 1907,1349.6 1908.2,1347.2 1909.4,1345.2 1910.6,1343.4 1911.8,1341.8 1912.4,1341.1 1913,1340.4 1914.2,1339 1915.4,1337.6 1916.6,1336.4 1917.8,1335.5 1919,1335 1919.5,1335 1920.2,1335.4 1921.4,1337.9 1922.5,1341.1 1922.6,1341.4 1923.8,1348.8 1925,1359.7 1926.2,1370.5 1926.6,1373.4 1927.4,1379.1 1928.6,1388.1 1929.8,1396.1 1931,1401 1931.6,1401.7 1932.2,1400.5 1933.4,1392.5 1934.6,1381.3 1935.3,1375.4 1935.8,1371 1937,1358.8 1938.1,1353.2 1938.2,1353.2 1939.4,1353.5 1940.6,1354.2 1941.7,1355.2 1941.8,1355.3 1943,1357.8 1944.2,1361.9 1944.8,1364.3" fill="none" stroke="#b3b3b3" stroke-width="3.3" stroke-linejoin="round"/>
<path d="M389.2,322.8 391.2,277.4 M392.2,233.9 394.7,187.4 M399.9,216.7 404.4,263.2 M409.4,306.5 415.5,352 M421.5,394.8 428.6,440.8 M434.7,483.8 441.8,529.7 M451.9,571.9 460,618.4 M472.8,658.4 483.6,704.6 M495.7,745 496.4,747.4 497.2,749.9 497.9,752.3 498.6,754.8 499.4,757.2 500.1,759.7 500.8,762.1 501.6,764.4 502.3,766.7 503,769 503.7,771.2 504.4,773.3 505.1,775.4 505.8,777.5 506.5,779.5 507.2,781.5 507.8,783.5 508.5,785.5 509.2,787.5 509.9,789.5 M528,827.9 528.9,830.4 529.8,832.9 530.6,835.4 531.4,838 532.3,840.6 533.2,843.1 534.1,845.5 535,847.9 536,850.1 537.1,852.2 538.3,854.1 539.5,855.9 540.8,857.6 542.1,859.2 543.4,860.8 544.8,862.3 546.2,863.7 547.6,865.2 549,866.7 550.3,868.3 M574.5,902.7 575.4,904.5 576.2,906.4 576.9,908.2 577.7,910.1 578.4,911.9 579.2,913.8 580.1,915.6 581.1,917.4 582.3,919.2 583.6,920.9 585.1,922.6 586.8,924.3 588.6,925.9 590.6,927.5 592.6,929.1 594.6,930.7 596.7,932.3 598.8,933.9 600.8,935.5 602.8,937.1" fill="none" stroke="#0000ff" stroke-width="11.5" stroke-linejoin="round"/>
<path d="M637.2,971.9 638.7,972.5 640.2,973.1 641.7,973.8 643.1,974.7 644.4,975.6 645.6,976.7 646.7,977.9 647.8,979.2 648.7,980.5 649.7,981.8 650.7,983.1 651.6,984.5 652.6,985.8 653.6,987 654.7,988.2 656,989.3 657.4,990.1 658.9,990.7 660.5,991.1 662.1,991.3 M698.4,1012.2 699.8,1013.1 701.3,1013.9 702.8,1014.7 704.3,1015.5 705.8,1016.3 707.3,1017 708.9,1017.6 710.5,1018 712.2,1018.3 713.9,1018.2 715.6,1017.9 717.2,1017.4 718.8,1016.8 720.3,1016.1 721.8,1015.3 M760.5,1048.1 762.2,1048.1 763.9,1048.1 765.5,1048.1 767.2,1048.2 768.9,1048.2 770.6,1048.3 772.2,1048.3 773.9,1048.3 775.6,1048.4 777.3,1048.5 778.9,1048.8 780.5,1049.3 782,1050 783.4,1051 784.7,1052.1 785.8,1053.3 M831,1081 832.5,1080.5 834.2,1080.4 835.8,1080.8 837.2,1081.6 838.6,1082.5 839.9,1083.6 841.1,1084.6 842.3,1085.8 843.5,1086.9 844.7,1088 845.9,1089.2 847.2,1090.2 848.5,1091.2 849.9,1092.2 851.3,1093 852.7,1093.9 854.1,1094.6 M900,1111.3 901.2,1112.4 902.5,1113.5 903.7,1114.6 905.1,1115.5 906.5,1116.4 908,1117 909.7,1117.2 911.3,1117.1 912.9,1116.8 914.5,1116.2 916,1115.6 917.6,1115.1 919.2,1114.6 920.8,1114.4 922.5,1114.3 924.1,1114.5 925.7,1114.7 927.4,1115 929,1115.4 M965.9,1117.2 967,1116 968.1,1114.8 969.3,1113.7 970.6,1112.7 971.9,1111.7 973.3,1110.9 974.8,1110.3 976.4,1110.3 978,1110.7 979.4,1111.5 980.7,1112.5 981.9,1113.6 983,1114.7 984.2,1115.9 985.4,1117 986.6,1118.1 987.8,1119.1 989.2,1119.9 990.7,1120.6 992.2,1121.2 993.8,1121.7 M1036.4,1120.1 1038,1119.8 1039.7,1119.7 1041.3,1119.9 1042.8,1120.5 1044.2,1121.3 1045.7,1122 1047.1,1122.8 1048.6,1123.4 1050.2,1123.7 1051.8,1123.4 1053.2,1122.6 1054.4,1121.5 1055.6,1120.4 1056.7,1119.2 1057.9,1118.1 1059.3,1117.2 1060.9,1117.1 1062.3,1117.9 M1108.1,1113.7 1109.6,1113.6 1111.2,1113.6 1112.8,1113.7 1114.3,1114 1115.8,1114.4 1117.3,1115.1 1118.6,1115.9 1119.9,1116.9 1121.1,1117.8 1122.3,1118.8 1123.5,1119.9 1124.7,1120.8 1126,1121.8 1127.3,1122.6 1128.7,1123.3 1130.3,1123.7 1131.8,1123.7 1133.4,1123.3 1134.8,1122.7 1136.2,1121.9 1137.5,1121.1 M1174.5,1120.9 1175.6,1119.7 1176.7,1118.5 1177.8,1117.3 1179,1116.2 1180.3,1115.2 1181.8,1114.5 1183.4,1114.4 1184.8,1115.1 1186,1116.2 1187,1117.5 1187.9,1118.8 1188.8,1120.2 1189.6,1121.6 1190.5,1123 1191.5,1124.3 1192.6,1125.5 1193.8,1126.5 1195.2,1127.4 1196.7,1128.1 1198.2,1128.7 1199.8,1129.2 1201.3,1129.7 M1252.3,1135.8 1253.9,1135.6 1255.5,1135.5 1257.1,1135.6 1258.7,1135.9 1260.2,1136.5 1261.7,1137.2 1263.1,1138 1264.4,1138.9 1265.8,1139.9 1267.1,1140.8 1268.4,1141.8 1269.8,1142.7 1271.1,1143.5 1272.6,1144.3 1274,1145.1 1275.4,1145.8 1276.9,1146.5 1278.3,1147.3 1279.8,1148 1281.3,1148.7 M1335.4,1163.7 1336.8,1164.6 1338.2,1165.3 1339.8,1165.5 1341.3,1165.1 1342.7,1164.3 1344.1,1163.5 1345.4,1162.6 1346.8,1161.9 1348.3,1161.3 1349.9,1161.2 1351.5,1161.6 1352.9,1162.3 1354.2,1163.2 1355.4,1164.2 1356.6,1165.3 1357.8,1166.4 1358.9,1167.5 1360,1168.7 1361.1,1169.8 1362.2,1171 M1413.7,1188.4 1415.2,1188.8 1416.8,1189.1 1418.3,1189.3 1419.9,1189.6 1421.4,1189.7 1423,1189.9 1424.6,1189.9 1426.2,1189.8 1427.7,1189.5 1429.3,1189.2 1430.8,1188.8 1432.3,1188.4 1433.9,1188 1435.4,1187.7 1437,1187.5 1438.6,1187.4 1440.1,1187.3 1441.7,1187.3 1443.3,1187.3 M1485.3,1192.2 1486.9,1191.8 1488.5,1191.5 1490.1,1191.3 1491.7,1191.2 1493.4,1191.3 1494.9,1191.6 1496.5,1192.2 1498,1192.8 1499.4,1193.6 1500.9,1194.3 1502.4,1194.9 1504,1195.3 1505.6,1195.4 1507.2,1195 1508.7,1194.4 1510.1,1193.6 1511.4,1192.7 1512.7,1191.7 1513.9,1190.6 M1559.6,1193.5 1561.2,1193.4 1562.8,1193.3 1564.4,1193.2 1566,1193.1 1567.6,1192.9 1569.2,1192.8 1570.8,1192.6 1572.3,1192.4 1573.9,1192.2 1575.5,1191.9 1577.1,1191.6 1578.6,1191.3 1580.2,1191 1581.8,1190.6 1583.3,1190.2 1584.9,1189.8 1586.4,1189.3 1587.9,1188.8 1589.4,1188.3 M1633.8,1185.8 1635.2,1185.1 1636.7,1184.6 1638.3,1184.5 1639.6,1185.3 1640.6,1186.6 1641.4,1188 1642.1,1189.4 1642.9,1190.8 1643.9,1192.1 1645,1193.1 1646.4,1193.9 1648,1194.4 1649.5,1194.7 1651.1,1194.9 1652.7,1195 1654.3,1195.1 1655.9,1195.1 1657.5,1195.1 1659.1,1195.1 M1707.4,1193.3 1708.3,1194.6 1709.4,1195.9 1710.6,1197 1712,1197.8 1713.6,1198.1 1715.2,1197.6 1716.7,1196.8 1718,1195.9 1719.4,1194.9 1720.8,1194 1722.2,1193.3 1723.8,1192.8 1725.4,1192.6 1727.1,1192.7 1728.7,1192.9 1730.3,1193.2 1731.9,1193.5 1733.5,1194 M1783.8,1200.7 1785.5,1200.7 1787.1,1200.7 1788.8,1200.8 1790.5,1200.8 1792.2,1200.9 1793.8,1201 1795.5,1201.1 1797.2,1201.2 1798.8,1201.4 1800.5,1201.6 1802.1,1201.9 1803.7,1202.3 1805.3,1202.8 1806.9,1203.5 1808.4,1204.2 1809.8,1205 1811.2,1205.9 M1856,1210 1857.5,1209.6 1859.1,1209.3 1860.6,1209 1862.2,1208.9 1863.8,1209 1865.4,1209.4 1866.8,1210.1 1868.1,1211 1869.2,1212.1 1870.3,1213.3 1871.4,1214.5 1872.4,1215.7 1873.5,1216.9 1874.7,1217.9 1876,1218.8 1877.5,1219.4 1879.1,1219.5 1880.6,1219.4 1882.2,1218.9 M1927.1,1228 1928.7,1228.9 1930.3,1229.8 1932,1230.7 1933.6,1231.5 1935.3,1232.4 1937,1233.2" fill="none" stroke="#0000ff" stroke-width="13" stroke-linejoin="round" stroke-linecap="round"/>
<path d="M631.5,970 633,970.5 634.5,971 636,971.5 637.5,972 639,972.6 640.5,973.2 641.9,974 643.3,974.8 644.6,975.7 645.7,976.8 646.8,978 647.8,979.2 648.8,980.5 649.7,981.8 650.6,983.1 651.6,984.4 652.5,985.7 653.5,986.9 654.6,988.1 655.8,989.1 657.1,990 658.6,990.6 660.1,991.1 661.7,991.3 663.3,991.4 664.9,991.4 666.5,991.4 668.1,991.4 M693.7,1008.4 694.9,1009.5 696.2,1010.5 697.5,1011.5 698.8,1012.5 700.2,1013.3 701.6,1014 703.1,1014.8 704.5,1015.6 705.9,1016.3 707.4,1017 708.9,1017.6 710.5,1018 712.1,1018.3 713.7,1018.3 715.4,1018 716.9,1017.5 718.4,1016.9 719.9,1016.3 721.4,1015.5 722.8,1014.8 724.2,1014 725.7,1013.3 727.1,1012.5 M754.5,1048.2 756.1,1048.2 757.7,1048.2 759.4,1048.1 761,1048.1 762.6,1048.1 764.2,1048.1 765.8,1048.1 767.5,1048.2 769.1,1048.2 770.7,1048.3 772.3,1048.3 773.9,1048.3 775.5,1048.4 777.2,1048.5 778.8,1048.8 780.3,1049.2 781.8,1049.9 783.1,1050.7 784.4,1051.8 785.5,1053 786.6,1054.2 787.6,1055.4 788.6,1056.7 789.7,1057.9 M825.8,1084 827.2,1083.2 828.5,1082.3 829.9,1081.5 831.4,1080.9 832.9,1080.5 834.5,1080.5 836,1080.9 837.4,1081.7 838.7,1082.6 840,1083.6 841.2,1084.7 842.3,1085.8 843.5,1086.9 844.7,1088 845.8,1089.1 847.1,1090.1 848.3,1091.1 849.6,1092 851,1092.9 852.4,1093.7 853.8,1094.5 855.2,1095.2 856.6,1095.9 858.1,1096.6 859.5,1097.4 M895.6,1107.2 896.8,1108.2 898,1109.4 899.2,1110.5 900.3,1111.6 901.5,1112.7 902.7,1113.7 904,1114.8 905.3,1115.7 906.7,1116.5 908.2,1117 909.8,1117.2 911.4,1117.1 912.9,1116.7 914.5,1116.2 916,1115.7 917.5,1115.1 919,1114.6 920.6,1114.4 922.2,1114.3 923.8,1114.4 925.4,1114.6 927,1114.9 928.6,1115.3 930.1,1115.6 931.7,1116 933.3,1116.4 934.8,1116.7 M961.6,1121.4 962.8,1120.3 963.9,1119.2 965,1118.1 966.1,1116.9 967.2,1115.8 968.4,1114.6 969.5,1113.5 970.7,1112.5 972,1111.6 973.4,1110.8 974.9,1110.3 976.5,1110.3 978,1110.7 979.4,1111.5 980.6,1112.5 981.8,1113.5 983,1114.6 984.1,1115.8 985.2,1116.9 986.4,1118 987.6,1119 989,1119.8 990.4,1120.5 991.9,1121.1 993.4,1121.6 995,1122 996.5,1122.4 998,1122.8 999.6,1123.3 M1030.7,1122 1032.2,1121.5 1033.7,1120.9 1035.3,1120.4 1036.8,1120 1038.3,1119.8 1039.9,1119.7 1041.5,1120 1043,1120.6 1044.4,1121.3 1045.8,1122.1 1047.2,1122.8 1048.6,1123.4 1050.2,1123.7 1051.7,1123.4 1053.1,1122.6 1054.3,1121.6 1055.5,1120.5 1056.6,1119.3 1057.7,1118.3 1059,1117.4 1060.6,1117.1 1062,1117.7 1063.1,1118.8 1064.1,1120 1065.1,1121.3 1066,1122.6 M1102.1,1114.3 1103.6,1114.1 1105.2,1114 1106.7,1113.8 1108.3,1113.7 1109.8,1113.6 1111.4,1113.6 1112.9,1113.8 1114.5,1114 1115.9,1114.5 1117.3,1115.1 1118.7,1116 1119.9,1116.9 1121.1,1117.9 1122.3,1118.9 1123.5,1119.8 1124.7,1120.8 1126,1121.8 1127.3,1122.6 1128.7,1123.3 1130.2,1123.7 1131.7,1123.7 1133.2,1123.3 1134.7,1122.8 1136,1122 1137.3,1121.2 1138.6,1120.3 1139.9,1119.4 1141.2,1118.6 1142.5,1117.7 M1170.5,1125.4 1171.6,1124.2 1172.6,1123 1173.7,1121.8 1174.7,1120.6 1175.8,1119.4 1176.9,1118.2 1178,1117.1 1179.2,1116 1180.5,1115.1 1181.9,1114.5 1183.5,1114.4 1184.9,1115.1 1186.1,1116.2 1187,1117.5 1187.9,1118.8 1188.7,1120.2 1189.6,1121.6 1190.4,1122.9 1191.4,1124.2 1192.4,1125.4 1193.6,1126.4 1195,1127.3 1196.4,1128 1197.9,1128.6 1199.4,1129.1 1200.9,1129.6 1202.5,1130 1204,1130.4 1205.6,1130.9 1207.1,1131.3 M1246.4,1137 1247.9,1136.7 1249.5,1136.4 1251.1,1136 1252.6,1135.7 1254.2,1135.5 1255.8,1135.5 1257.4,1135.6 1258.9,1136 1260.4,1136.6 1261.8,1137.3 1263.2,1138.1 1264.5,1139 1265.8,1139.9 1267.1,1140.8 1268.4,1141.7 1269.7,1142.6 1271,1143.5 1272.4,1144.2 1273.8,1145 1275.2,1145.7 1276.7,1146.4 1278.1,1147.1 1279.5,1147.8 1280.9,1148.5 1282.4,1149.2 1283.8,1149.9 1285.2,1150.6 1286.7,1151.3 M1331,1159.7 1332.1,1160.8 1333.3,1161.9 1334.4,1162.9 1335.7,1163.9 1337,1164.7 1338.4,1165.3 1340,1165.5 1341.5,1165 1342.9,1164.3 1344.2,1163.4 1345.5,1162.6 1346.9,1161.8 1348.4,1161.3 1349.9,1161.2 1351.4,1161.6 1352.8,1162.3 1354.1,1163.2 1355.4,1164.1 1356.5,1165.2 1357.7,1166.3 1358.8,1167.4 1359.9,1168.5 1361,1169.6 1362,1170.8 1363.1,1171.9 1364.2,1173 1365.3,1174.2 1366.4,1175.3 M1407.8,1187.3 1409.3,1187.6 1410.8,1187.9 1412.4,1188.2 1413.9,1188.5 1415.4,1188.8 1416.9,1189.1 1418.5,1189.4 1420,1189.6 1421.6,1189.8 1423.1,1189.9 1424.7,1189.9 1426.2,1189.8 1427.8,1189.5 1429.3,1189.2 1430.8,1188.8 1432.3,1188.4 1433.8,1188.1 1435.3,1187.7 1436.9,1187.5 1438.4,1187.4 1440,1187.3 1441.5,1187.3 1443.1,1187.3 1444.6,1187.4 1446.2,1187.4 1447.7,1187.5 1449.3,1187.5 M1479.5,1193.6 1481,1193.2 1482.6,1192.9 1484.1,1192.5 1485.7,1192.1 1487.2,1191.7 1488.8,1191.5 1490.4,1191.3 1491.9,1191.2 1493.5,1191.3 1495.1,1191.7 1496.6,1192.2 1498,1192.9 1499.4,1193.6 1500.9,1194.3 1502.3,1194.9 1503.9,1195.3 1505.5,1195.4 1507,1195.1 1508.5,1194.5 1509.9,1193.7 1511.2,1192.8 1512.4,1191.9 1513.7,1190.8 1514.9,1189.8 1516.1,1188.7 1517.3,1187.7 1518.5,1186.7 M1553.6,1193.8 1555.2,1193.7 1556.7,1193.6 1558.3,1193.5 1559.9,1193.4 1561.4,1193.4 1563,1193.3 1564.6,1193.2 1566.1,1193.1 1567.7,1192.9 1569.3,1192.8 1570.8,1192.6 1572.4,1192.4 1573.9,1192.2 1575.5,1191.9 1577,1191.6 1578.6,1191.3 1580.1,1191 1581.6,1190.6 1583.2,1190.2 1584.7,1189.8 1586.2,1189.4 1587.7,1188.9 1589.2,1188.4 1590.7,1187.9 1592.1,1187.4 1593.6,1186.8 1595.1,1186.3 M1628.8,1189.2 1630.1,1188.3 1631.4,1187.4 1632.7,1186.5 1634,1185.7 1635.4,1185 1636.9,1184.5 1638.5,1184.6 1639.8,1185.4 1640.7,1186.7 1641.4,1188.1 1642.1,1189.5 1642.9,1190.8 1643.9,1192.1 1645,1193.1 1646.4,1193.9 1647.9,1194.4 1649.4,1194.6 1651,1194.8 1652.6,1195 1654.1,1195.1 1655.7,1195.1 1657.3,1195.1 1658.8,1195.1 1660.4,1195.1 1662,1195.1 1663.5,1195.2 1665.1,1195.2 M1703.9,1188.4 1704.9,1189.7 1705.8,1191 1706.7,1192.3 1707.6,1193.6 1708.6,1194.9 1709.6,1196.1 1710.8,1197.2 1712.3,1197.9 1713.8,1198 1715.3,1197.5 1716.7,1196.7 1718.1,1195.8 1719.4,1194.9 1720.7,1194 1722.1,1193.3 1723.7,1192.8 1725.2,1192.6 1726.8,1192.6 1728.4,1192.8 1730,1193.1 1731.6,1193.5 1733.1,1193.8 1734.7,1194.3 1736.2,1194.7 1737.8,1195.1 1739.3,1195.5 M1777.8,1200.7 1779.4,1200.7 1781,1200.7 1782.6,1200.7 1784.3,1200.7 1785.9,1200.7 1787.5,1200.7 1789.1,1200.8 1790.7,1200.8 1792.3,1200.9 1794,1201 1795.6,1201.1 1797.2,1201.2 1798.8,1201.4 1800.4,1201.6 1802,1201.9 1803.6,1202.3 1805.1,1202.8 1806.6,1203.3 1808.1,1204 1809.5,1204.8 1810.8,1205.7 1812.2,1206.6 1813.5,1207.5 1814.8,1208.5 1816.1,1209.4 M1850.2,1211.6 1851.7,1211.2 1853.2,1210.8 1854.7,1210.4 1856.2,1210 1857.7,1209.6 1859.3,1209.3 1860.8,1209 1862.4,1208.9 1863.9,1209 1865.5,1209.4 1866.8,1210.1 1868.1,1211.1 1869.2,1212.1 1870.3,1213.3 1871.4,1214.4 1872.4,1215.6 1873.4,1216.8 1874.6,1217.9 1875.8,1218.8 1877.3,1219.4 1878.9,1219.5 1880.4,1219.4 1881.9,1219 1883.4,1218.5 1884.9,1217.9 1886.3,1217.3 1887.8,1216.7 M1921.8,1225.1 1923.3,1225.9 1924.7,1226.7 1926.1,1227.5 1927.6,1228.3 1929,1229.1 1930.5,1229.9 1932,1230.7 1933.4,1231.4 1934.9,1232.2 1936.4,1232.9 1937.9,1233.7 1939.4,1234.4 1940.9,1235.1 1942.4,1235.8" fill="none" stroke="#0000ff" stroke-width="7" stroke-linejoin="round" stroke-linecap="round"/>
<path d="M389.7,1549.3 v-19.7 M389.7,37.1 v19.3 M604.9,1549.3 v-19.7 M604.9,37.1 v19.3 M820.2,1549.3 v-19.7 M820.2,37.1 v19.3 M1035.4,1549.3 v-19.7 M1035.4,37.1 v19.3 M1250.7,1549.3 v-19.7 M1250.7,37.1 v19.3 M1465.9,1549.3 v-19.7 M1465.9,37.1 v19.3 M1681.1,1549.3 v-19.7 M1681.1,37.1 v19.3 M1896.4,1549.3 v-19.7 M1896.4,37.1 v19.3 M2111.6,1549.3 v-19.7 M2111.6,37.1 v19.3 M303.6,259.8 h17.7 M2197.5,259.8 h-19.4 M303.6,564.8 h17.7 M2197.5,564.8 h-19.4 M303.6,869.9 h17.7 M2197.5,869.9 h-19.4 M303.6,1174.9 h17.7 M2197.5,1174.9 h-19.4 M303.6,1479.9 h17.7 M2197.5,1479.9 h-19.4" stroke="#262626" stroke-width="1.9" fill="none"/>
<rect x="303.6" y="37.1" width="1893.9" height="1512.2" fill="none" stroke="#262626" stroke-width="1.9"/>
<text x="388.3" y="1618" font-family="Liberation Sans, Arial, Helvetica, sans-serif" font-size="53" fill="#262626" text-anchor="middle">0</text>
<text x="603.5" y="1618" font-family="Liberation Sans, Arial, Helvetica, sans-serif" font-size="53" fill="#262626" text-anchor="middle">10</text>
<text x="818.8" y="1618" font-family="Liberation Sans, Arial, Helvetica, sans-serif" font-size="53" fill="#262626" text-anchor="middle">20</text>
<text x="1034" y="1618" font-family="Liberation Sans, Arial, Helvetica, sans-serif" font-size="53" fill="#262626" text-anchor="middle">30</text>
<text x="1249.2" y="1618" font-family="Liberation Sans, Arial, Helvetica, sans-serif" font-size="53" fill="#262626" text-anchor="middle">40</text>
<text x="1464.5" y="1618" font-family="Liberation Sans, Arial, Helvetica, sans-serif" font-size="53" fill="#262626" text-anchor="middle">50</text>
<text x="1679.7" y="1618" font-family="Liberation Sans, Arial, Helvetica, sans-serif" font-size="53" fill="#262626" text-anchor="middle">60</text>
<text x="1895" y="1618" font-family="Liberation Sans, Arial, Helvetica, sans-serif" font-size="53" fill="#262626" text-anchor="middle">70</text>
<text x="2110.2" y="1618" font-family="Liberation Sans, Arial, Helvetica, sans-serif" font-size="53" fill="#262626" text-anchor="middle">80</text>
<text x="283.7" y="279.3" font-family="Liberation Sans, Arial, Helvetica, sans-serif" font-size="53" fill="#262626" text-anchor="end">431</text>
<text x="283.7" y="584.3" font-family="Liberation Sans, Arial, Helvetica, sans-serif" font-size="53" fill="#262626" text-anchor="end">430</text>
<text x="283.7" y="889.4" font-family="Liberation Sans, Arial, Helvetica, sans-serif" font-size="53" fill="#262626" text-anchor="end">429</text>
<text x="283.7" y="1194.4" font-family="Liberation Sans, Arial, Helvetica, sans-serif" font-size="53" fill="#262626" text-anchor="end">428</text>
<text x="283.7" y="1499.4" font-family="Liberation Sans, Arial, Helvetica, sans-serif" font-size="53" fill="#262626" text-anchor="end">427</text>
<rect x="1383" y="68.8" width="785" height="186.9" fill="#fff" stroke="#262626" stroke-width="1.9"/>
<path d="M1396.1,105 H1511.1" stroke="#000" stroke-width="3.9"/>
<path d="M1396.1,162.9 H1511.1" stroke="#b3b3b3" stroke-width="3.4"/>
<path d="M1396.1,220.6 H1511.1" stroke="#0000ff" stroke-width="11.4" stroke-dasharray="45.9 43"/>
<text transform="translate(1521,120.4) scale(1,0.955)" font-family="Liberation Sans, Arial, Helvetica, sans-serif" font-size="47.5" fill="#000">Treated experimental data</text>
<text transform="translate(1521,178.6) scale(1,0.955)" font-family="Liberation Sans, Arial, Helvetica, sans-serif" font-size="47.5" fill="#000">Experimental data uncertainty</text>
<text transform="translate(1521,236.8) scale(1,0.955)" font-family="Liberation Sans, Arial, Helvetica, sans-serif" font-size="47.5" fill="#000">Quasi-2D Model</text>
<text transform="translate(1249.2,1688.6) scale(1,1.06)" font-family="Liberation Sans, Arial, Helvetica, sans-serif" font-size="55.6" fill="#262626" text-anchor="middle">Time (h)</text>
<text transform="translate(64.7,794.2) rotate(-90) scale(1,1.04)" font-family="Liberation Sans, Arial, Helvetica, sans-serif" font-size="57.3" fill="#262626" text-anchor="middle">Pressure</text>
<text transform="translate(134.8,795.7) rotate(-90) scale(1,1.06)" font-family="Liberation Sans, Arial, Helvetica, sans-serif" font-size="56.2" fill="#262626" text-anchor="middle">(mbar)</text>
<text transform="translate(1068.5,1818.8) scale(0.9,1)" font-family="Liberation Serif, Times New Roman, serif" font-size="75.8" fill="#000">(</text>
<text transform="translate(1091.9,1819.3) scale(1,1)" font-family="Liberation Serif, Times New Roman, serif" font-size="75" font-weight="bold" fill="#000">a</text>
<text transform="translate(1130.5,1818.8) scale(0.9,1)" font-family="Liberation Serif, Times New Roman, serif" font-size="75.8" fill="#000">)</text>
<path d="M359.8,1911.9 V3423.6 M639.2,1911.9 V3423.6 M918.7,1911.9 V3423.6 M1198.1,1911.9 V3423.6 M1477.5,1911.9 V3423.6 M1757,1911.9 V3423.6 M2036.4,1911.9 V3423.6" stroke="#262626" stroke-opacity="0.125" stroke-width="2" fill="none"/>
<path d="M303.6,2089.7 H2197.5 M303.6,2446.5 H2197.5 M303.6,2803.2 H2197.5 M303.6,3160 H2197.5" stroke="#262626" stroke-opacity="0.125" stroke-width="2" fill="none"/>
<path d="M361,1939.3 362.9,1950.1 363,1950.6 365,1959.8 366.3,1965 367,1967.7 369,1974.4 371,1978.6 373,1981.9 374.3,1983.8 375,1984.8 377,1987.2 379,1989.4 381,1991.6 382.4,1993.2 383,1993.9 385,1996.5 387,1999.2 389,2001.9 390.5,2004 391,2004.7 393,2007.7 395,2010.7 397,2013.8 398.6,2016.1 399,2016.7 401,2019.7 403,2022.6 405,2025.2 406.7,2026.9 407,2027.1 409,2028.4 411,2029.4 413,2030.4 414.8,2031.6 415,2031.8 417,2033.9 418.8,2036.4 419,2036.7 421,2040.6 422.9,2044.4 423,2044.6 425,2047.7 427,2050.6 429,2053.2 429.6,2053.9 431,2055.5 433,2057.8 435,2059.8 437,2061.5 437.7,2062 439,2062.8 441,2063.6 443,2064.4 445,2065.3 446.4,2066.3 447,2066.9 449,2070 450.5,2072.7 451,2073.5 453,2077.2 455,2080.5 455.2,2080.8 457,2082.9 459,2084.9 461,2086.7 463,2088.6 463.3,2088.9 465,2090.7 467,2092.9 469,2095.1 471,2097.3 473,2099.7 474.1,2101 475,2102.1 477,2104.7 479,2107.4 481,2110.1 483,2112.9 485,2115.6 487,2118.2 488.2,2119.7 489,2120.7 491,2123.2 493,2125.7 495,2128 497,2130.1 499,2131.8 501,2133.1 503,2134.1 505,2135 507,2136.1 508.5,2137.2 509,2137.7 511,2140.2 513,2143.4 515,2146.4 515.2,2146.7 517,2149.1 519,2151.7 521,2154.3 523,2156.7 525,2159 526,2160.1 527,2161.1 529,2163 531,2164.7 533,2166.3 535,2168 537,2169.8 539,2171.8 539.5,2172.3 541,2174.1 543,2176.8 545,2179.7 547,2182.4 547.5,2183 549,2184.8 551,2187.2 553,2189.5 555,2191.8 557,2193.9 559,2196 561,2197.9 563,2199.6 565,2201.2 567,2202.6 569,2204.1 571,2205.6 573,2207.2 574.5,2208.6 575,2209.1 577,2211.3 579,2213.7 581,2216.2 582.6,2218.1 583,2218.6 585,2221.1 587,2223.6 589,2226 591,2228.1 592,2228.9 593,2229.6 595,2230.8 597,2231.8 599,2232.8 601,2233.9 601.5,2234.3 603,2235.5 605,2237.5 607,2239.6 609,2241.8 609.5,2242.3 611,2243.9 613,2246.1 615,2248.3 617,2250.5 619,2252.8 621,2255 623,2257.2 625,2259.3 627,2261.5 629,2263.6 631,2265.7 633,2267.8 635,2269.8 636.3,2271.1 637,2271.8 639,2273.8 641,2275.8 643,2277.7 645,2279.5 647,2281 649,2282.3 651,2283.3 653,2284.3 655,2285.5 656.4,2286.4 657,2286.9 659,2288.6 661,2290.7 663,2292.8 665,2295 665.8,2295.8 667,2297 669,2299 671,2301.1 673,2303.1 675,2305.1 677,2307.1 679,2309.1 681,2311 682,2312 683,2313 685,2314.9 687,2316.8 689,2318.6 691,2320.5 693,2322.3 695,2324.1 697,2325.8 698.2,2326.8 699,2327.5 701,2329 703,2330.5 705,2331.9 707,2333.4 709,2334.8 711,2336.3 713,2337.9 714.3,2339 715,2339.6 717,2341.5 719,2343.6 721,2345.7 723,2347.8 725,2349.8 727,2351.7 727.8,2352.4 729,2353.4 731,2354.9 733,2356.4 735,2357.8 737,2359.2 739,2360.5 741,2361.9 743,2363.2 745,2364.6 746.7,2365.9 747,2366.1 749,2367.6 751,2369.1 753,2370.7 755,2372.2 757,2373.9 759,2375.6 760.2,2376.7 761,2377.5 763,2379.6 765,2382 767,2384.4 769,2386.8 771,2389.1 773,2391 773.6,2391.5 775,2392.6 777,2394 779,2395.2 781,2396.3 783,2397.5 785,2398.7 787,2399.9 788.5,2401 789,2401.4 791,2403 793,2404.7 795,2406.6 797,2408.5 799,2410.4 801,2412.3 803,2414.1 803.3,2414.4 805,2416 807,2417.9 809,2419.8 811,2421.7 813,2423.5 815,2425.2 816.8,2426.6 817,2426.7 819,2428 821,2429.1 823,2430.2 825,2431.5 826.2,2432.5 827,2433.3 829,2435.8 831,2438.7 832.9,2441.4 833,2441.5 835,2444.2 837,2447 839,2449.5 841,2451.4 843,2452.7 845,2453.9 847,2454.8 849,2455.7 849.1,2455.7 851,2456.4 853,2456.9 855,2457.5 857,2458.2 858.5,2458.9 859,2459.2 861,2461.2 863,2463.9 865,2466.6 865.3,2467 867,2469.1 869,2471.7 871,2474.2 873,2476.1 873.4,2476.4 875,2477.4 877,2478.4 879,2479.3 881,2480.1 883,2480.8 885,2481.7 886.8,2482.6 887,2482.7 889,2483.8 891,2485 893,2486.3 895,2487.8 897,2489.4 897.6,2489.9 899,2491.4 901,2494 903,2496.8 905,2499.6 907,2501.9 907.1,2502 909,2503.7 911,2505.2 912.5,2506.1 913,2506.4 915,2507.2 917,2507.8 919,2508.5 920.5,2509.3 921,2509.6 923,2511.7 925,2514.4 927,2517.3 929,2519.9 930,2520.9 931,2521.8 933,2523.3 935,2524.7 937,2525.9 939,2527.2 941,2528.5 943,2529.9 943.5,2530.3 945,2531.5 947,2533.3 949,2535.1 951,2537 953,2538.9 955,2540.8 956.9,2542.5 957,2542.6 959,2544.4 961,2546.3 963,2548.1 965,2549.9 967,2551.4 967.7,2551.9 969,2552.7 971,2553.9 973,2554.9 975,2555.8 977,2556.8 979,2557.9 981,2559.1 981.2,2559.2 983,2560.5 985,2562 987,2563.7 989,2565.5 991,2567.4 993,2569.2 994.7,2570.8 995,2571.1 997,2573 999,2575 1001,2577 1002.7,2578.5 1003,2578.7 1005,2580.3 1007,2581.7 1009,2583.1 1011,2584.5 1013,2586 1013.5,2586.4 1015,2587.6 1017,2589.3 1019,2591.1 1021,2592.9 1023,2594.7 1025,2596.6 1027,2598.5 1029,2600.5 1031,2602.7 1033,2604.9 1035,2606.9 1036.4,2608 1037,2608.4 1039,2609.7 1041,2610.7 1043,2611.6 1045,2612.5 1047,2613.5 1049,2614.6 1051,2615.9 1051.2,2616.1 1053,2617.9 1055,2620.5 1057,2623.2 1059,2625.3 1059.3,2625.5 1061,2626.6 1063,2627.6 1065,2628.4 1067,2629.2 1069,2630.2 1070.1,2630.9 1071,2631.5 1073,2633.2 1075,2635.2 1077,2637.4 1079,2639.7 1081,2641.9 1083,2643.9 1083.6,2644.4 1085,2645.6 1087,2647.3 1089,2649 1091,2650.6 1093,2652.1 1095,2653.6 1097,2655.1 1099,2656.5 1101,2657.9 1103,2659.3 1105,2660.7 1107,2662 1109,2663.3 1111,2664.5 1113,2665.8 1113.2,2665.9 1115,2666.9 1117,2668 1119,2669 1121,2670.2 1122.6,2671.3 1123,2671.6 1125,2673.5 1127,2675.7 1129,2677.9 1130.7,2679.4 1131,2679.6 1133,2681 1135,2682.1 1137,2683.2 1139,2684.4 1141,2685.7 1141.5,2686.1 1143,2687.3 1145,2689.3 1146.9,2691.5 1147,2691.6 1149,2695.6 1151,2699.8 1152.3,2701 1153,2701.1 1155,2701.3 1157,2701.4 1159,2701.5 1161,2701.7 1161.7,2701.8 1163,2702.2 1165,2703.6 1167,2705.6 1169,2707.9 1171,2710.2 1172.5,2711.7 1173,2712.2 1175,2714.1 1177,2716.1 1179,2718.2 1181,2720.2 1183,2722.2 1185,2723.9 1187,2725.5 1188.7,2726.6 1189,2726.8 1191,2727.8 1193,2728.6 1195,2729.3 1197,2730.1 1199,2731.1 1199.5,2731.4 1201,2732.5 1203,2734.4 1205,2736.6 1207,2738.9 1209,2741 1210.2,2742.2 1211,2742.9 1213,2744.7 1215,2746.5 1217,2748.1 1219,2749.7 1221,2751.2 1222.4,2752.2 1223,2752.6 1225,2753.8 1227,2754.8 1229,2755.9 1231,2757.1 1231.8,2757.6 1233,2758.5 1235,2760.1 1237,2762 1239,2763.8 1241,2765.6 1242.6,2767 1243,2767.3 1245,2768.9 1247,2770.5 1249,2772 1251,2773.5 1253,2774.8 1253.4,2775.1 1255,2776.1 1257,2777.1 1259,2778.1 1261,2779.1 1263,2780.3 1264.2,2781 1265,2781.5 1267,2783 1269,2784.6 1271,2786.4 1273,2788.1 1275,2789.8 1277,2791.4 1277.6,2791.8 1279,2792.8 1281,2794.1 1283,2795.4 1285,2796.7 1287,2797.9 1289,2799.2 1291,2800.6 1291.1,2800.7 1293,2802.1 1295,2803.8 1297,2805.5 1299,2807.2 1301,2808.8 1303,2810.4 1304.6,2811.5 1305,2811.8 1307,2813 1309,2814.2 1311,2815.3 1313,2816.4 1315,2817.5 1317,2818.6 1319,2819.8 1320.8,2820.9 1321,2821 1323,2822.5 1325,2824 1327,2825.6 1329,2827.2 1331,2828.7 1331.5,2829 1333,2830 1335,2831.2 1337,2832.4 1339,2833.6 1341,2834.7 1343,2835.9 1345,2836.9 1347,2838 1347.7,2838.4 1349,2839.1 1351,2840 1353,2841 1355,2842 1355.8,2842.5 1357,2843.3 1359,2845 1361,2846.8 1363,2848.7 1365,2850.6 1366.6,2851.9 1367,2852.2 1369,2853.8 1371,2855.4 1373,2856.8 1375,2858.2 1377,2859.5 1377.4,2859.7 1379,2860.5 1381,2861.4 1383,2862.2 1385,2863 1387,2863.9 1389,2864.9 1389.5,2865.2 1391,2866.1 1393,2867.6 1395,2869.2 1397,2870.9 1399,2872.8 1401,2874.7 1401.6,2875.3 1403,2876.9 1405,2879.6 1407,2882.3 1409,2884.7 1411,2886.1 1413,2886.7 1415,2887.2 1417,2887.5 1419,2887.8 1421,2888.2 1423,2888.8 1423.1,2888.8 1425,2889.8 1427,2891.4 1429,2893.3 1431,2895.5 1433,2897.7 1435,2899.6 1436.6,2900.9 1437,2901.2 1439,2902.6 1441,2903.9 1443,2905.2 1445,2906.4 1447,2907.5 1449,2908.5 1451,2909.5 1452.8,2910.3 1453,2910.4 1455,2911.1 1457,2911.7 1459,2912.2 1461,2912.8 1463,2913.5 1464.9,2914.4 1465,2914.5 1467,2915.9 1469,2917.9 1471,2920.1 1473,2922.4 1475,2925 1477,2927.7 1479,2930 1479.7,2930.5 1481,2931.2 1483,2932 1485,2932.7 1487,2933.2 1489,2933.9 1490.5,2934.6 1491,2934.9 1493,2936.1 1495,2937.5 1497,2939.1 1499,2940.8 1501,2942.5 1501.3,2942.7 1503,2944.3 1505,2946.4 1507,2948.5 1509,2950.1 1510.7,2950.7 1511,2950.7 1513,2950.9 1515,2951 1517,2951.1 1519,2951.2 1520.2,2951.3 1521,2951.5 1523,2952.6 1525,2954.3 1527,2956.4 1529,2958.5 1530.9,2960.2 1531,2960.3 1533,2961.9 1535,2963.5 1537,2965 1539,2966.5 1541,2967.9 1541.7,2968.3 1543,2969.1 1545,2970.1 1547,2971.1 1549,2972 1551,2972.9 1553,2973.9 1555,2974.9 1555.2,2975 1557,2976 1559,2977.2 1561,2978.4 1563,2979.7 1565,2981 1566,2981.7 1567,2982.4 1569,2984.1 1571,2985.8 1573,2987.4 1575,2988.8 1575.4,2989 1577,2989.8 1579,2990.6 1581,2991.3 1583,2991.9 1585,2992.7 1587,2993.6 1587.5,2993.9 1589,2994.9 1591,2996.5 1593,2998.3 1595,3000.2 1597,3002.2 1598.3,3003.3 1599,3003.9 1601,3005.7 1603,3007.6 1605,3009.5 1607,3011.1 1609,3012.5 1610.5,3013.3 1611,3013.5 1613,3014.2 1615,3014.8 1617,3015.2 1619,3015.7 1621,3016.3 1622.6,3016.8 1623,3016.9 1625,3017.8 1627,3018.7 1629,3019.7 1631,3020.7 1633,3021.9 1633.4,3022.2 1635,3023.4 1637,3025.2 1639,3027.2 1641,3029.1 1643,3030.8 1644.2,3031.6 1645,3032.1 1647,3033 1649,3033.8 1651,3034.6 1653,3035.3 1655,3036.1 1657,3037.1 1657.6,3037.5 1659,3038.5 1661,3040.3 1663,3042.4 1665,3044.6 1667,3046.7 1669,3048.5 1669.8,3049.1 1671,3049.9 1673,3050.9 1675,3051.9 1677,3052.8 1679,3053.7 1681,3054.8 1681.9,3055.3 1683,3056 1685,3057.5 1687,3059.2 1689,3060.9 1691,3062.7 1693,3064.4 1695,3066 1697,3067.4 1698.1,3068 1699,3068.5 1701,3069.4 1703,3070.2 1705,3070.9 1707,3071.6 1709,3072.3 1711,3073.1 1713,3074 1714.2,3074.7 1715,3075.2 1717,3076.7 1719,3078.5 1721,3080.4 1723,3082.4 1725,3084.2 1727,3086.1 1729,3088 1731,3089.9 1733,3091.5 1734.4,3092.3 1735,3092.6 1737,3093.3 1739,3093.8 1741,3094.4 1742.5,3095 1743,3095.2 1745,3096.5 1747,3098 1749,3099.7 1751,3101.5 1753,3103.2 1754.7,3104.4 1755,3104.6 1757,3105.9 1759,3107.1 1761,3108.3 1763,3109.4 1765,3110.5 1767,3111.5 1768.5,3112.2 1769,3112.4 1771,3113.2 1773,3113.9 1775,3114.6 1777,3115.2 1779,3116 1781,3117 1781.6,3117.4 1783,3118.6 1785,3121 1787,3123.8 1789,3126.4 1791,3128.2 1793,3129.3 1795,3130.2 1797,3130.9 1799,3131.6 1800.4,3132.2 1801,3132.5 1803,3133.3 1805,3134.1 1807,3134.9 1809,3135.7 1811,3136.7 1812.6,3137.6 1813,3137.8 1815,3139.4 1817,3141.3 1819,3143.4 1821,3145.5 1823,3147.2 1824.7,3148.4 1825,3148.6 1827,3149.5 1829,3150.3 1831,3151 1833,3151.6 1835,3152.4 1837,3153.2 1838.2,3153.8 1839,3154.3 1841,3155.6 1843,3157.3 1845,3159.1 1847,3160.9 1849,3162.6 1851,3164.2 1851.6,3164.6 1853,3165.5 1855,3166.8 1857,3167.9 1859,3169 1861,3170.1 1863,3171.2 1865,3172.3 1867,3173.5 1867.8,3174 1869,3174.8 1871,3176.1 1873,3177.4 1875,3178.8 1877,3180.1 1879,3181.5 1879.9,3182.1 1881,3182.9 1883,3184.3 1885,3185.8 1887,3187.3 1889,3188.6 1891,3189.7 1892.1,3190.2 1893,3190.5 1895,3191.1 1897,3191.6 1899,3192.1 1901,3192.5 1903,3192.9 1905,3193.5 1906.9,3194.2 1907,3194.2 1909,3195.3 1911,3196.8 1913,3198.5 1915,3200.3 1917,3202.1 1919,3203.7 1921,3205.2 1923,3206.7 1925,3208.1 1927,3209.6 1929,3210.9 1931,3212.2 1932.5,3213.1 1933,3213.4 1935,3214.4 1937,3215.3 1939,3216.2 1941,3217.2 1943,3218.3 1943.3,3218.5 1945,3219.9 1947,3221.9 1949,3224.1 1951,3226 1952.7,3227.1 1953,3227.2 1955,3228 1957,3228.5 1959,3228.9 1961,3229.4 1963,3229.9 1964.9,3230.6 1965,3230.6 1967,3231.8 1969,3233.3 1971,3235 1973,3236.7 1975,3238.3 1975.6,3238.7 1977,3239.6 1979,3240.9 1981,3242.1 1983,3243.3 1985,3244.5 1986.4,3245.4 1987,3245.8 1989,3247.2 1991,3248.8 1993,3250.3 1995,3251.7 1997,3252.8 1998.5,3253.5 1999,3253.7 2001,3254.2 2003,3254.7 2005,3255 2007,3255.5 2009,3256.1 2009.3,3256.2 2011,3257 2013,3258.5 2015,3260.2 2017,3262.1 2019,3263.9 2021,3265.4 2021.5,3265.7 2023,3266.6 2025,3267.7 2027,3268.7 2029,3269.6 2031,3270.5 2033,3271.5 2034.9,3272.4 2035,3272.4 2037,3273.4 2039,3274.3 2041,3275.2 2043,3276.2 2045,3277.3 2045.7,3277.8 2047,3278.8 2049,3280.7 2051,3282.9 2053,3285.1 2053.8,3285.9 2055,3287.3 2057,3289.9 2059,3292.2 2061,3293.4 2061.3,3293.4 2063,3293.1 2065,3292.4 2067,3291.4 2069,3290.8 2070,3290.7 2071,3291 2073,3293.3 2075,3296.2 2076.7,3298 2077,3298.2 2079,3299.4 2081,3300.4 2083,3301.3 2085,3302.2 2087,3303.1 2087.5,3303.4 2089,3304.2 2091,3305.4 2093,3306.7 2095,3307.9 2097,3309 2099,3309.9 2099.6,3310.1 2101,3310.5 2103,3311.1 2105,3311.5 2107,3311.8 2109,3312.2 2111,3312.6 2113,3313.1 2115,3313.9 2115.8,3314.2 2117,3315.1 2119,3317.8 2121,3320.7 2122.5,3322.3 2123,3322.7 2125,3324 2127,3325.1 2129,3326 2131,3327 2132,3327.6 2133,3328.2 2135,3329.4 2137,3330.6 2139,3331.8 2141,3333.1 2143,3334.3 2145,3335.5 2145.4,3335.7 2147,3336.6 2149,3337.7 2151,3338.9 2153,3340 2155,3341.1 2157,3342.2 2159,3343.2 2160,3343.8 2161,3344.4 2163,3345.5 2164,3346" fill="none" stroke="#b3b3b3" stroke-width="3.3" stroke-linejoin="round"/>
<path d="M361,1974.3 362.9,1985.1 363,1985.6 365,1994.8 366.3,2000 367,2002.7 369,2009.4 371,2013.6 373,2016.9 374.3,2018.8 375,2019.8 377,2022.2 379,2024.4 381,2026.6 382.4,2028.2 383,2028.9 385,2031.5 387,2034.2 389,2036.9 390.5,2039 391,2039.7 393,2042.7 395,2045.7 397,2048.8 398.6,2051.1 399,2051.7 401,2054.7 403,2057.6 405,2060.2 406.7,2061.9 407,2062.1 409,2063.4 411,2064.4 413,2065.4 414.8,2066.6 415,2066.8 417,2068.9 418.8,2071.4 419,2071.7 421,2075.6 422.9,2079.4 423,2079.6 425,2082.7 427,2085.6 429,2088.2 429.6,2088.9 431,2090.5 433,2092.8 435,2094.8 437,2096.5 437.7,2097 439,2097.8 441,2098.6 443,2099.4 445,2100.3 446.4,2101.3 447,2101.9 449,2105 450.5,2107.7 451,2108.5 453,2112.2 455,2115.5 455.2,2115.8 457,2117.9 459,2119.9 461,2121.7 463,2123.6 463.3,2123.9 465,2125.7 467,2127.9 469,2130.1 471,2132.3 473,2134.7 474.1,2136 475,2137.1 477,2139.7 479,2142.4 481,2145.1 483,2147.9 485,2150.6 487,2153.2 488.2,2154.7 489,2155.7 491,2158.2 493,2160.7 495,2163 497,2165.1 499,2166.8 501,2168.1 503,2169.1 505,2170 507,2171.1 508.5,2172.2 509,2172.7 511,2175.2 513,2178.4 515,2181.4 515.2,2181.7 517,2184.1 519,2186.7 521,2189.3 523,2191.7 525,2194 526,2195.1 527,2196.1 529,2198 531,2199.7 533,2201.3 535,2203 537,2204.8 539,2206.8 539.5,2207.3 541,2209.1 543,2211.8 545,2214.7 547,2217.4 547.5,2218 549,2219.8 551,2222.2 553,2224.5 555,2226.8 557,2228.9 559,2231 561,2232.9 563,2234.6 565,2236.2 567,2237.6 569,2239.1 571,2240.6 573,2242.2 574.5,2243.6 575,2244.1 577,2246.3 579,2248.7 581,2251.2 582.6,2253.1 583,2253.6 585,2256.1 587,2258.6 589,2261 591,2263.1 592,2263.9 593,2264.6 595,2265.8 597,2266.8 599,2267.8 601,2268.9 601.5,2269.3 603,2270.5 605,2272.5 607,2274.6 609,2276.8 609.5,2277.3 611,2278.9 613,2281.1 615,2283.3 617,2285.5 619,2287.8 621,2290 623,2292.2 625,2294.3 627,2296.5 629,2298.6 631,2300.7 633,2302.8 635,2304.8 636.3,2306.1 637,2306.8 639,2308.8 641,2310.8 643,2312.7 645,2314.5 647,2316 649,2317.3 651,2318.3 653,2319.3 655,2320.5 656.4,2321.4 657,2321.9 659,2323.6 661,2325.7 663,2327.8 665,2330 665.8,2330.8 667,2332 669,2334 671,2336.1 673,2338.1 675,2340.1 677,2342.1 679,2344.1 681,2346 682,2347 683,2348 685,2349.9 687,2351.8 689,2353.6 691,2355.5 693,2357.3 695,2359.1 697,2360.8 698.2,2361.8 699,2362.5 701,2364 703,2365.5 705,2366.9 707,2368.4 709,2369.8 711,2371.3 713,2372.9 714.3,2374 715,2374.6 717,2376.5 719,2378.6 721,2380.7 723,2382.8 725,2384.8 727,2386.7 727.8,2387.4 729,2388.4 731,2389.9 733,2391.4 735,2392.8 737,2394.2 739,2395.5 741,2396.9 743,2398.2 745,2399.6 746.7,2400.9 747,2401.1 749,2402.6 751,2404.1 753,2405.7 755,2407.2 757,2408.9 759,2410.6 760.2,2411.7 761,2412.5 763,2414.6 765,2417 767,2419.4 769,2421.8 771,2424.1 773,2426 773.6,2426.5 775,2427.6 777,2429 779,2430.2 781,2431.3 783,2432.5 785,2433.7 787,2434.9 788.5,2436 789,2436.4 791,2438 793,2439.7 795,2441.6 797,2443.5 799,2445.4 801,2447.3 803,2449.1 803.3,2449.4 805,2451 807,2452.9 809,2454.8 811,2456.7 813,2458.5 815,2460.2 816.8,2461.6 817,2461.7 819,2463 821,2464.1 823,2465.2 825,2466.5 826.2,2467.5 827,2468.3 829,2470.8 831,2473.7 832.9,2476.4 833,2476.5 835,2479.2 837,2482 839,2484.5 841,2486.4 843,2487.7 845,2488.9 847,2489.8 849,2490.7 849.1,2490.7 851,2491.4 853,2491.9 855,2492.5 857,2493.2 858.5,2493.9 859,2494.2 861,2496.2 863,2498.9 865,2501.6 865.3,2502 867,2504.1 869,2506.7 871,2509.2 873,2511.1 873.4,2511.4 875,2512.4 877,2513.4 879,2514.3 881,2515.1 883,2515.8 885,2516.7 886.8,2517.6 887,2517.7 889,2518.8 891,2520 893,2521.3 895,2522.8 897,2524.4 897.6,2524.9 899,2526.4 901,2529 903,2531.8 905,2534.6 907,2536.9 907.1,2537 909,2538.7 911,2540.2 912.5,2541.1 913,2541.4 915,2542.2 917,2542.8 919,2543.5 920.5,2544.3 921,2544.6 923,2546.7 925,2549.4 927,2552.3 929,2554.9 930,2555.9 931,2556.8 933,2558.3 935,2559.7 937,2560.9 939,2562.2 941,2563.5 943,2564.9 943.5,2565.3 945,2566.5 947,2568.3 949,2570.1 951,2572 953,2573.9 955,2575.8 956.9,2577.5 957,2577.6 959,2579.4 961,2581.3 963,2583.1 965,2584.9 967,2586.4 967.7,2586.9 969,2587.7 971,2588.9 973,2589.9 975,2590.8 977,2591.8 979,2592.9 981,2594.1 981.2,2594.2 983,2595.5 985,2597 987,2598.7 989,2600.5 991,2602.4 993,2604.2 994.7,2605.8 995,2606.1 997,2608 999,2610 1001,2612 1002.7,2613.5 1003,2613.7 1005,2615.3 1007,2616.7 1009,2618.1 1011,2619.5 1013,2621 1013.5,2621.4 1015,2622.6 1017,2624.3 1019,2626.1 1021,2627.9 1023,2629.7 1025,2631.6 1027,2633.5 1029,2635.5 1031,2637.7 1033,2639.9 1035,2641.9 1036.4,2643 1037,2643.4 1039,2644.7 1041,2645.7 1043,2646.6 1045,2647.5 1047,2648.5 1049,2649.6 1051,2650.9 1051.2,2651.1 1053,2652.9 1055,2655.5 1057,2658.2 1059,2660.3 1059.3,2660.5 1061,2661.6 1063,2662.6 1065,2663.4 1067,2664.2 1069,2665.2 1070.1,2665.9 1071,2666.5 1073,2668.2 1075,2670.2 1077,2672.4 1079,2674.7 1081,2676.9 1083,2678.9 1083.6,2679.4 1085,2680.6 1087,2682.3 1089,2684 1091,2685.6 1093,2687.1 1095,2688.6 1097,2690.1 1099,2691.5 1101,2692.9 1103,2694.3 1105,2695.7 1107,2697 1109,2698.3 1111,2699.5 1113,2700.8 1113.2,2700.9 1115,2701.9 1117,2703 1119,2704 1121,2705.2 1122.6,2706.3 1123,2706.6 1125,2708.5 1127,2710.7 1129,2712.9 1130.7,2714.4 1131,2714.6 1133,2716 1135,2717.1 1137,2718.2 1139,2719.4 1141,2720.7 1141.5,2721.1 1143,2722.3 1145,2724.3 1146.9,2726.5 1147,2726.6 1149,2730.6 1151,2734.8 1152.3,2736 1153,2736.1 1155,2736.3 1157,2736.4 1159,2736.5 1161,2736.7 1161.7,2736.8 1163,2737.2 1165,2738.6 1167,2740.6 1169,2742.9 1171,2745.2 1172.5,2746.7 1173,2747.2 1175,2749.1 1177,2751.1 1179,2753.2 1181,2755.2 1183,2757.2 1185,2758.9 1187,2760.5 1188.7,2761.6 1189,2761.8 1191,2762.8 1193,2763.6 1195,2764.3 1197,2765.1 1199,2766.1 1199.5,2766.4 1201,2767.5 1203,2769.4 1205,2771.6 1207,2773.9 1209,2776 1210.2,2777.2 1211,2777.9 1213,2779.7 1215,2781.5 1217,2783.1 1219,2784.7 1221,2786.2 1222.4,2787.2 1223,2787.6 1225,2788.8 1227,2789.8 1229,2790.9 1231,2792.1 1231.8,2792.6 1233,2793.5 1235,2795.1 1237,2797 1239,2798.8 1241,2800.6 1242.6,2802 1243,2802.3 1245,2803.9 1247,2805.5 1249,2807 1251,2808.5 1253,2809.8 1253.4,2810.1 1255,2811.1 1257,2812.1 1259,2813.1 1261,2814.1 1263,2815.3 1264.2,2816 1265,2816.5 1267,2818 1269,2819.6 1271,2821.4 1273,2823.1 1275,2824.8 1277,2826.4 1277.6,2826.8 1279,2827.8 1281,2829.1 1283,2830.4 1285,2831.7 1287,2832.9 1289,2834.2 1291,2835.6 1291.1,2835.7 1293,2837.1 1295,2838.8 1297,2840.5 1299,2842.2 1301,2843.8 1303,2845.4 1304.6,2846.5 1305,2846.8 1307,2848 1309,2849.2 1311,2850.3 1313,2851.4 1315,2852.5 1317,2853.6 1319,2854.8 1320.8,2855.9 1321,2856 1323,2857.5 1325,2859 1327,2860.6 1329,2862.2 1331,2863.7 1331.5,2864 1333,2865 1335,2866.2 1337,2867.4 1339,2868.6 1341,2869.7 1343,2870.9 1345,2871.9 1347,2873 1347.7,2873.4 1349,2874.1 1351,2875 1353,2876 1355,2877 1355.8,2877.5 1357,2878.3 1359,2880 1361,2881.8 1363,2883.7 1365,2885.6 1366.6,2886.9 1367,2887.2 1369,2888.8 1371,2890.4 1373,2891.8 1375,2893.2 1377,2894.5 1377.4,2894.7 1379,2895.5 1381,2896.4 1383,2897.2 1385,2898 1387,2898.9 1389,2899.9 1389.5,2900.2 1391,2901.1 1393,2902.6 1395,2904.2 1397,2905.9 1399,2907.8 1401,2909.7 1401.6,2910.3 1403,2911.9 1405,2914.6 1407,2917.3 1409,2919.7 1411,2921.1 1413,2921.7 1415,2922.2 1417,2922.5 1419,2922.8 1421,2923.2 1423,2923.8 1423.1,2923.8 1425,2924.8 1427,2926.4 1429,2928.3 1431,2930.5 1433,2932.7 1435,2934.6 1436.6,2935.9 1437,2936.2 1439,2937.6 1441,2938.9 1443,2940.2 1445,2941.4 1447,2942.5 1449,2943.5 1451,2944.5 1452.8,2945.3 1453,2945.4 1455,2946.1 1457,2946.7 1459,2947.2 1461,2947.8 1463,2948.5 1464.9,2949.4 1465,2949.5 1467,2950.9 1469,2952.9 1471,2955.1 1473,2957.4 1475,2960 1477,2962.7 1479,2965 1479.7,2965.5 1481,2966.2 1483,2967 1485,2967.7 1487,2968.2 1489,2968.9 1490.5,2969.6 1491,2969.9 1493,2971.1 1495,2972.5 1497,2974.1 1499,2975.8 1501,2977.5 1501.3,2977.7 1503,2979.3 1505,2981.4 1507,2983.5 1509,2985.1 1510.7,2985.7 1511,2985.7 1513,2985.9 1515,2986 1517,2986.1 1519,2986.2 1520.2,2986.3 1521,2986.5 1523,2987.6 1525,2989.3 1527,2991.4 1529,2993.5 1530.9,2995.2 1531,2995.3 1533,2996.9 1535,2998.5 1537,3000 1539,3001.5 1541,3002.9 1541.7,3003.3 1543,3004.1 1545,3005.1 1547,3006.1 1549,3007 1551,3007.9 1553,3008.9 1555,3009.9 1555.2,3010 1557,3011 1559,3012.2 1561,3013.4 1563,3014.7 1565,3016 1566,3016.7 1567,3017.4 1569,3019.1 1571,3020.8 1573,3022.4 1575,3023.8 1575.4,3024 1577,3024.8 1579,3025.6 1581,3026.3 1583,3026.9 1585,3027.7 1587,3028.6 1587.5,3028.9 1589,3029.9 1591,3031.5 1593,3033.3 1595,3035.2 1597,3037.2 1598.3,3038.3 1599,3038.9 1601,3040.7 1603,3042.6 1605,3044.5 1607,3046.1 1609,3047.5 1610.5,3048.3 1611,3048.5 1613,3049.2 1615,3049.8 1617,3050.2 1619,3050.7 1621,3051.3 1622.6,3051.8 1623,3051.9 1625,3052.8 1627,3053.7 1629,3054.7 1631,3055.7 1633,3056.9 1633.4,3057.2 1635,3058.4 1637,3060.2 1639,3062.2 1641,3064.1 1643,3065.8 1644.2,3066.6 1645,3067.1 1647,3068 1649,3068.8 1651,3069.6 1653,3070.3 1655,3071.1 1657,3072.1 1657.6,3072.5 1659,3073.5 1661,3075.3 1663,3077.4 1665,3079.6 1667,3081.7 1669,3083.5 1669.8,3084.1 1671,3084.9 1673,3085.9 1675,3086.9 1677,3087.8 1679,3088.7 1681,3089.8 1681.9,3090.3 1683,3091 1685,3092.5 1687,3094.2 1689,3095.9 1691,3097.7 1693,3099.4 1695,3101 1697,3102.4 1698.1,3103 1699,3103.5 1701,3104.4 1703,3105.2 1705,3105.9 1707,3106.6 1709,3107.3 1711,3108.1 1713,3109 1714.2,3109.7 1715,3110.2 1717,3111.7 1719,3113.5 1721,3115.4 1723,3117.4 1725,3119.2 1727,3121.1 1729,3123 1731,3124.9 1733,3126.5 1734.4,3127.3 1735,3127.6 1737,3128.3 1739,3128.8 1741,3129.4 1742.5,3130 1743,3130.2 1745,3131.5 1747,3133 1749,3134.7 1751,3136.5 1753,3138.2 1754.7,3139.4 1755,3139.6 1757,3140.9 1759,3142.1 1761,3143.3 1763,3144.4 1765,3145.5 1767,3146.5 1768.5,3147.2 1769,3147.4 1771,3148.2 1773,3148.9 1775,3149.6 1777,3150.2 1779,3151 1781,3152 1781.6,3152.4 1783,3153.6 1785,3156 1787,3158.8 1789,3161.4 1791,3163.2 1793,3164.3 1795,3165.2 1797,3165.9 1799,3166.6 1800.4,3167.2 1801,3167.5 1803,3168.3 1805,3169.1 1807,3169.9 1809,3170.7 1811,3171.7 1812.6,3172.6 1813,3172.8 1815,3174.4 1817,3176.3 1819,3178.4 1821,3180.5 1823,3182.2 1824.7,3183.4 1825,3183.6 1827,3184.5 1829,3185.3 1831,3186 1833,3186.6 1835,3187.4 1837,3188.2 1838.2,3188.8 1839,3189.3 1841,3190.6 1843,3192.3 1845,3194.1 1847,3195.9 1849,3197.6 1851,3199.2 1851.6,3199.6 1853,3200.5 1855,3201.8 1857,3202.9 1859,3204 1861,3205.1 1863,3206.2 1865,3207.3 1867,3208.5 1867.8,3209 1869,3209.8 1871,3211.1 1873,3212.4 1875,3213.8 1877,3215.1 1879,3216.5 1879.9,3217.1 1881,3217.9 1883,3219.3 1885,3220.8 1887,3222.3 1889,3223.6 1891,3224.7 1892.1,3225.2 1893,3225.5 1895,3226.1 1897,3226.6 1899,3227.1 1901,3227.5 1903,3227.9 1905,3228.5 1906.9,3229.2 1907,3229.2 1909,3230.3 1911,3231.8 1913,3233.5 1915,3235.3 1917,3237.1 1919,3238.7 1921,3240.2 1923,3241.7 1925,3243.1 1927,3244.6 1929,3245.9 1931,3247.2 1932.5,3248.1 1933,3248.4 1935,3249.4 1937,3250.3 1939,3251.2 1941,3252.2 1943,3253.3 1943.3,3253.5 1945,3254.9 1947,3256.9 1949,3259.1 1951,3261 1952.7,3262.1 1953,3262.2 1955,3263 1957,3263.5 1959,3263.9 1961,3264.4 1963,3264.9 1964.9,3265.6 1965,3265.6 1967,3266.8 1969,3268.3 1971,3270 1973,3271.7 1975,3273.3 1975.6,3273.7 1977,3274.6 1979,3275.9 1981,3277.1 1983,3278.3 1985,3279.5 1986.4,3280.4 1987,3280.8 1989,3282.2 1991,3283.8 1993,3285.3 1995,3286.7 1997,3287.8 1998.5,3288.5 1999,3288.7 2001,3289.2 2003,3289.7 2005,3290 2007,3290.5 2009,3291.1 2009.3,3291.2 2011,3292 2013,3293.5 2015,3295.2 2017,3297.1 2019,3298.9 2021,3300.4 2021.5,3300.7 2023,3301.6 2025,3302.7 2027,3303.7 2029,3304.6 2031,3305.5 2033,3306.5 2034.9,3307.4 2035,3307.4 2037,3308.4 2039,3309.3 2041,3310.2 2043,3311.2 2045,3312.3 2045.7,3312.8 2047,3313.8 2049,3315.7 2051,3317.9 2053,3320.1 2053.8,3320.9 2055,3322.3 2057,3324.9 2059,3327.2 2061,3328.4 2061.3,3328.4 2063,3328.1 2065,3327.4 2067,3326.4 2069,3325.8 2070,3325.7 2071,3326 2073,3328.3 2075,3331.2 2076.7,3333 2077,3333.2 2079,3334.4 2081,3335.4 2083,3336.3 2085,3337.2 2087,3338.1 2087.5,3338.4 2089,3339.2 2091,3340.4 2093,3341.7 2095,3342.9 2097,3344 2099,3344.9 2099.6,3345.1 2101,3345.5 2103,3346.1 2105,3346.5 2107,3346.8 2109,3347.2 2111,3347.6 2113,3348.1 2115,3348.9 2115.8,3349.2 2117,3350.1 2119,3352.8 2121,3355.7 2122.5,3357.3 2123,3357.7 2125,3359 2127,3360.1 2129,3361 2131,3362 2132,3362.6 2133,3363.2 2135,3364.4 2137,3365.6 2139,3366.8 2141,3368.1 2143,3369.3 2145,3370.5 2145.4,3370.7 2147,3371.6 2149,3372.7 2151,3373.9 2153,3375 2155,3376.1 2157,3377.2 2159,3378.2 2160,3378.8 2161,3379.4 2163,3380.5 2164,3381" fill="none" stroke="#b3b3b3" stroke-width="3.3" stroke-linejoin="round"/>
<path d="M361,1956.8 362.9,1967.6 363,1968.1 365,1977.3 366.3,1982.5 367,1985.2 369,1991.9 371,1996.1 373,1999.4 374.3,2001.3 375,2002.3 377,2004.7 379,2006.9 381,2009.1 382.4,2010.7 383,2011.4 385,2014 387,2016.7 389,2019.4 390.5,2021.5 391,2022.2 393,2025.2 395,2028.2 397,2031.3 398.6,2033.6 399,2034.2 401,2037.2 403,2040.1 405,2042.7 406.7,2044.4 407,2044.6 409,2045.9 411,2046.9 413,2047.9 414.8,2049.1 415,2049.3 417,2051.4 418.8,2053.9 419,2054.2 421,2058.1 422.9,2061.9 423,2062.1 425,2065.2 427,2068.1 429,2070.7 429.6,2071.4 431,2073 433,2075.3 435,2077.3 437,2079 437.7,2079.5 439,2080.3 441,2081.1 443,2081.9 445,2082.8 446.4,2083.8 447,2084.4 449,2087.5 450.5,2090.2 451,2091 453,2094.7 455,2098 455.2,2098.3 457,2100.4 459,2102.4 461,2104.2 463,2106.1 463.3,2106.4 465,2108.2 467,2110.4 469,2112.6 471,2114.8 473,2117.2 474.1,2118.5 475,2119.6 477,2122.2 479,2124.9 481,2127.6 483,2130.4 485,2133.1 487,2135.7 488.2,2137.2 489,2138.2 491,2140.7 493,2143.2 495,2145.5 497,2147.6 499,2149.3 501,2150.6 503,2151.6 505,2152.5 507,2153.6 508.5,2154.7 509,2155.2 511,2157.7 513,2160.9 515,2163.9 515.2,2164.2 517,2166.6 519,2169.2 521,2171.8 523,2174.2 525,2176.5 526,2177.6 527,2178.6 529,2180.5 531,2182.2 533,2183.8 535,2185.5 537,2187.3 539,2189.3 539.5,2189.8 541,2191.6 543,2194.3 545,2197.2 547,2199.9 547.5,2200.5 549,2202.3 551,2204.7 553,2207 555,2209.3 557,2211.4 559,2213.5 561,2215.4 563,2217.1 565,2218.7 567,2220.1 569,2221.6 571,2223.1 573,2224.7 574.5,2226.1 575,2226.6 577,2228.8 579,2231.2 581,2233.7 582.6,2235.6 583,2236.1 585,2238.6 587,2241.1 589,2243.5 591,2245.6 592,2246.4 593,2247.1 595,2248.3 597,2249.3 599,2250.3 601,2251.4 601.5,2251.8 603,2253 605,2255 607,2257.1 609,2259.3 609.5,2259.8 611,2261.4 613,2263.6 615,2265.8 617,2268 619,2270.3 621,2272.5 623,2274.7 625,2276.8 627,2279 629,2281.1 631,2283.2 633,2285.3 635,2287.3 636.3,2288.6 637,2289.3 639,2291.3 641,2293.3 643,2295.2 645,2297 647,2298.5 649,2299.8 651,2300.8 653,2301.8 655,2303 656.4,2303.9 657,2304.4 659,2306.1 661,2308.2 663,2310.3 665,2312.5 665.8,2313.3 667,2314.5 669,2316.5 671,2318.6 673,2320.6 675,2322.6 677,2324.6 679,2326.6 681,2328.5 682,2329.5 683,2330.5 685,2332.4 687,2334.3 689,2336.1 691,2338 693,2339.8 695,2341.6 697,2343.3 698.2,2344.3 699,2345 701,2346.5 703,2348 705,2349.4 707,2350.9 709,2352.3 711,2353.8 713,2355.4 714.3,2356.5 715,2357.1 717,2359 719,2361.1 721,2363.2 723,2365.3 725,2367.3 727,2369.2 727.8,2369.9 729,2370.9 731,2372.4 733,2373.9 735,2375.3 737,2376.7 739,2378 741,2379.4 743,2380.7 745,2382.1 746.7,2383.4 747,2383.6 749,2385.1 751,2386.6 753,2388.2 755,2389.7 757,2391.4 759,2393.1 760.2,2394.2 761,2395 763,2397.1 765,2399.5 767,2401.9 769,2404.3 771,2406.6 773,2408.5 773.6,2409 775,2410.1 777,2411.5 779,2412.7 781,2413.8 783,2415 785,2416.2 787,2417.4 788.5,2418.5 789,2418.9 791,2420.5 793,2422.2 795,2424.1 797,2426 799,2427.9 801,2429.8 803,2431.6 803.3,2431.9 805,2433.5 807,2435.4 809,2437.3 811,2439.2 813,2441 815,2442.7 816.8,2444.1 817,2444.2 819,2445.5 821,2446.6 823,2447.7 825,2449 826.2,2450 827,2450.8 829,2453.3 831,2456.2 832.9,2458.9 833,2459 835,2461.7 837,2464.5 839,2467 841,2468.9 843,2470.2 845,2471.4 847,2472.3 849,2473.2 849.1,2473.2 851,2473.9 853,2474.4 855,2475 857,2475.7 858.5,2476.4 859,2476.7 861,2478.7 863,2481.4 865,2484.1 865.3,2484.5 867,2486.6 869,2489.2 871,2491.7 873,2493.6 873.4,2493.9 875,2494.9 877,2495.9 879,2496.8 881,2497.6 883,2498.3 885,2499.2 886.8,2500.1 887,2500.2 889,2501.3 891,2502.5 893,2503.8 895,2505.3 897,2506.9 897.6,2507.4 899,2508.9 901,2511.5 903,2514.3 905,2517.1 907,2519.4 907.1,2519.5 909,2521.2 911,2522.7 912.5,2523.6 913,2523.9 915,2524.7 917,2525.3 919,2526 920.5,2526.8 921,2527.1 923,2529.2 925,2531.9 927,2534.8 929,2537.4 930,2538.4 931,2539.3 933,2540.8 935,2542.2 937,2543.4 939,2544.7 941,2546 943,2547.4 943.5,2547.8 945,2549 947,2550.8 949,2552.6 951,2554.5 953,2556.4 955,2558.3 956.9,2560 957,2560.1 959,2561.9 961,2563.8 963,2565.6 965,2567.4 967,2568.9 967.7,2569.4 969,2570.2 971,2571.4 973,2572.4 975,2573.3 977,2574.3 979,2575.4 981,2576.6 981.2,2576.7 983,2578 985,2579.5 987,2581.2 989,2583 991,2584.9 993,2586.7 994.7,2588.3 995,2588.6 997,2590.5 999,2592.5 1001,2594.5 1002.7,2596 1003,2596.2 1005,2597.8 1007,2599.2 1009,2600.6 1011,2602 1013,2603.5 1013.5,2603.9 1015,2605.1 1017,2606.8 1019,2608.6 1021,2610.4 1023,2612.2 1025,2614.1 1027,2616 1029,2618 1031,2620.2 1033,2622.4 1035,2624.4 1036.4,2625.5 1037,2625.9 1039,2627.2 1041,2628.2 1043,2629.1 1045,2630 1047,2631 1049,2632.1 1051,2633.4 1051.2,2633.6 1053,2635.4 1055,2638 1057,2640.7 1059,2642.8 1059.3,2643 1061,2644.1 1063,2645.1 1065,2645.9 1067,2646.7 1069,2647.7 1070.1,2648.4 1071,2649 1073,2650.7 1075,2652.7 1077,2654.9 1079,2657.2 1081,2659.4 1083,2661.4 1083.6,2661.9 1085,2663.1 1087,2664.8 1089,2666.5 1091,2668.1 1093,2669.6 1095,2671.1 1097,2672.6 1099,2674 1101,2675.4 1103,2676.8 1105,2678.2 1107,2679.5 1109,2680.8 1111,2682 1113,2683.3 1113.2,2683.4 1115,2684.4 1117,2685.5 1119,2686.5 1121,2687.7 1122.6,2688.8 1123,2689.1 1125,2691 1127,2693.2 1129,2695.4 1130.7,2696.9 1131,2697.1 1133,2698.5 1135,2699.6 1137,2700.7 1139,2701.9 1141,2703.2 1141.5,2703.6 1143,2704.8 1145,2706.8 1146.9,2709 1147,2709.1 1149,2713.1 1151,2717.3 1152.3,2718.5 1153,2718.6 1155,2718.8 1157,2718.9 1159,2719 1161,2719.2 1161.7,2719.3 1163,2719.7 1165,2721.1 1167,2723.1 1169,2725.4 1171,2727.7 1172.5,2729.2 1173,2729.7 1175,2731.6 1177,2733.6 1179,2735.7 1181,2737.7 1183,2739.7 1185,2741.4 1187,2743 1188.7,2744.1 1189,2744.3 1191,2745.3 1193,2746.1 1195,2746.8 1197,2747.6 1199,2748.6 1199.5,2748.9 1201,2750 1203,2751.9 1205,2754.1 1207,2756.4 1209,2758.5 1210.2,2759.7 1211,2760.4 1213,2762.2 1215,2764 1217,2765.6 1219,2767.2 1221,2768.7 1222.4,2769.7 1223,2770.1 1225,2771.3 1227,2772.3 1229,2773.4 1231,2774.6 1231.8,2775.1 1233,2776 1235,2777.6 1237,2779.5 1239,2781.3 1241,2783.1 1242.6,2784.5 1243,2784.8 1245,2786.4 1247,2788 1249,2789.5 1251,2791 1253,2792.3 1253.4,2792.6 1255,2793.6 1257,2794.6 1259,2795.6 1261,2796.6 1263,2797.8 1264.2,2798.5 1265,2799 1267,2800.5 1269,2802.1 1271,2803.9 1273,2805.6 1275,2807.3 1277,2808.9 1277.6,2809.3 1279,2810.3 1281,2811.6 1283,2812.9 1285,2814.2 1287,2815.4 1289,2816.7 1291,2818.1 1291.1,2818.2 1293,2819.6 1295,2821.3 1297,2823 1299,2824.7 1301,2826.3 1303,2827.9 1304.6,2829 1305,2829.3 1307,2830.5 1309,2831.7 1311,2832.8 1313,2833.9 1315,2835 1317,2836.1 1319,2837.3 1320.8,2838.4 1321,2838.5 1323,2840 1325,2841.5 1327,2843.1 1329,2844.7 1331,2846.2 1331.5,2846.5 1333,2847.5 1335,2848.7 1337,2849.9 1339,2851.1 1341,2852.2 1343,2853.4 1345,2854.4 1347,2855.5 1347.7,2855.9 1349,2856.6 1351,2857.5 1353,2858.5 1355,2859.5 1355.8,2860 1357,2860.8 1359,2862.5 1361,2864.3 1363,2866.2 1365,2868.1 1366.6,2869.4 1367,2869.7 1369,2871.3 1371,2872.9 1373,2874.3 1375,2875.7 1377,2877 1377.4,2877.2 1379,2878 1381,2878.9 1383,2879.7 1385,2880.5 1387,2881.4 1389,2882.4 1389.5,2882.7 1391,2883.6 1393,2885.1 1395,2886.7 1397,2888.4 1399,2890.3 1401,2892.2 1401.6,2892.8 1403,2894.4 1405,2897.1 1407,2899.8 1409,2902.2 1411,2903.6 1413,2904.2 1415,2904.7 1417,2905 1419,2905.3 1421,2905.7 1423,2906.3 1423.1,2906.3 1425,2907.3 1427,2908.9 1429,2910.8 1431,2913 1433,2915.2 1435,2917.1 1436.6,2918.4 1437,2918.7 1439,2920.1 1441,2921.4 1443,2922.7 1445,2923.9 1447,2925 1449,2926 1451,2927 1452.8,2927.8 1453,2927.9 1455,2928.6 1457,2929.2 1459,2929.7 1461,2930.3 1463,2931 1464.9,2931.9 1465,2932 1467,2933.4 1469,2935.4 1471,2937.6 1473,2939.9 1475,2942.5 1477,2945.2 1479,2947.5 1479.7,2948 1481,2948.7 1483,2949.5 1485,2950.2 1487,2950.7 1489,2951.4 1490.5,2952.1 1491,2952.4 1493,2953.6 1495,2955 1497,2956.6 1499,2958.3 1501,2960 1501.3,2960.2 1503,2961.8 1505,2963.9 1507,2966 1509,2967.6 1510.7,2968.2 1511,2968.2 1513,2968.4 1515,2968.5 1517,2968.6 1519,2968.7 1520.2,2968.8 1521,2969 1523,2970.1 1525,2971.8 1527,2973.9 1529,2976 1530.9,2977.7 1531,2977.8 1533,2979.4 1535,2981 1537,2982.5 1539,2984 1541,2985.4 1541.7,2985.8 1543,2986.6 1545,2987.6 1547,2988.6 1549,2989.5 1551,2990.4 1553,2991.4 1555,2992.4 1555.2,2992.5 1557,2993.5 1559,2994.7 1561,2995.9 1563,2997.2 1565,2998.5 1566,2999.2 1567,2999.9 1569,3001.6 1571,3003.3 1573,3004.9 1575,3006.3 1575.4,3006.5 1577,3007.3 1579,3008.1 1581,3008.8 1583,3009.4 1585,3010.2 1587,3011.1 1587.5,3011.4 1589,3012.4 1591,3014 1593,3015.8 1595,3017.7 1597,3019.7 1598.3,3020.8 1599,3021.4 1601,3023.2 1603,3025.1 1605,3027 1607,3028.6 1609,3030 1610.5,3030.8 1611,3031 1613,3031.7 1615,3032.3 1617,3032.7 1619,3033.2 1621,3033.8 1622.6,3034.3 1623,3034.4 1625,3035.3 1627,3036.2 1629,3037.2 1631,3038.2 1633,3039.4 1633.4,3039.7 1635,3040.9 1637,3042.7 1639,3044.7 1641,3046.6 1643,3048.3 1644.2,3049.1 1645,3049.6 1647,3050.5 1649,3051.3 1651,3052.1 1653,3052.8 1655,3053.6 1657,3054.6 1657.6,3055 1659,3056 1661,3057.8 1663,3059.9 1665,3062.1 1667,3064.2 1669,3066 1669.8,3066.6 1671,3067.4 1673,3068.4 1675,3069.4 1677,3070.3 1679,3071.2 1681,3072.3 1681.9,3072.8 1683,3073.5 1685,3075 1687,3076.7 1689,3078.4 1691,3080.2 1693,3081.9 1695,3083.5 1697,3084.9 1698.1,3085.5 1699,3086 1701,3086.9 1703,3087.7 1705,3088.4 1707,3089.1 1709,3089.8 1711,3090.6 1713,3091.5 1714.2,3092.2 1715,3092.7 1717,3094.2 1719,3096 1721,3097.9 1723,3099.9 1725,3101.7 1727,3103.6 1729,3105.5 1731,3107.4 1733,3109 1734.4,3109.8 1735,3110.1 1737,3110.8 1739,3111.3 1741,3111.9 1742.5,3112.5 1743,3112.7 1745,3114 1747,3115.5 1749,3117.2 1751,3119 1753,3120.7 1754.7,3121.9 1755,3122.1 1757,3123.4 1759,3124.6 1761,3125.8 1763,3126.9 1765,3128 1767,3129 1768.5,3129.7 1769,3129.9 1771,3130.7 1773,3131.4 1775,3132.1 1777,3132.7 1779,3133.5 1781,3134.5 1781.6,3134.9 1783,3136.1 1785,3138.5 1787,3141.3 1789,3143.9 1791,3145.7 1793,3146.8 1795,3147.7 1797,3148.4 1799,3149.1 1800.4,3149.7 1801,3150 1803,3150.8 1805,3151.6 1807,3152.4 1809,3153.2 1811,3154.2 1812.6,3155.1 1813,3155.3 1815,3156.9 1817,3158.8 1819,3160.9 1821,3163 1823,3164.7 1824.7,3165.9 1825,3166.1 1827,3167 1829,3167.8 1831,3168.5 1833,3169.1 1835,3169.9 1837,3170.7 1838.2,3171.3 1839,3171.8 1841,3173.1 1843,3174.8 1845,3176.6 1847,3178.4 1849,3180.1 1851,3181.7 1851.6,3182.1 1853,3183 1855,3184.3 1857,3185.4 1859,3186.5 1861,3187.6 1863,3188.7 1865,3189.8 1867,3191 1867.8,3191.5 1869,3192.3 1871,3193.6 1873,3194.9 1875,3196.3 1877,3197.6 1879,3199 1879.9,3199.6 1881,3200.4 1883,3201.8 1885,3203.3 1887,3204.8 1889,3206.1 1891,3207.2 1892.1,3207.7 1893,3208 1895,3208.6 1897,3209.1 1899,3209.6 1901,3210 1903,3210.4 1905,3211 1906.9,3211.7 1907,3211.7 1909,3212.8 1911,3214.3 1913,3216 1915,3217.8 1917,3219.6 1919,3221.2 1921,3222.7 1923,3224.2 1925,3225.6 1927,3227.1 1929,3228.4 1931,3229.7 1932.5,3230.6 1933,3230.9 1935,3231.9 1937,3232.8 1939,3233.7 1941,3234.7 1943,3235.8 1943.3,3236 1945,3237.4 1947,3239.4 1949,3241.6 1951,3243.5 1952.7,3244.6 1953,3244.7 1955,3245.5 1957,3246 1959,3246.4 1961,3246.9 1963,3247.4 1964.9,3248.1 1965,3248.1 1967,3249.3 1969,3250.8 1971,3252.5 1973,3254.2 1975,3255.8 1975.6,3256.2 1977,3257.1 1979,3258.4 1981,3259.6 1983,3260.8 1985,3262 1986.4,3262.9 1987,3263.3 1989,3264.7 1991,3266.3 1993,3267.8 1995,3269.2 1997,3270.3 1998.5,3271 1999,3271.2 2001,3271.7 2003,3272.2 2005,3272.5 2007,3273 2009,3273.6 2009.3,3273.7 2011,3274.5 2013,3276 2015,3277.7 2017,3279.6 2019,3281.4 2021,3282.9 2021.5,3283.2 2023,3284.1 2025,3285.2 2027,3286.2 2029,3287.1 2031,3288 2033,3289 2034.9,3289.9 2035,3289.9 2037,3290.9 2039,3291.8 2041,3292.7 2043,3293.7 2045,3294.8 2045.7,3295.3 2047,3296.3 2049,3298.2 2051,3300.4 2053,3302.6 2053.8,3303.4 2055,3304.8 2057,3307.4 2059,3309.7 2061,3310.9 2061.3,3310.9 2063,3310.6 2065,3309.9 2067,3308.9 2069,3308.3 2070,3308.2 2071,3308.5 2073,3310.8 2075,3313.7 2076.7,3315.5 2077,3315.7 2079,3316.9 2081,3317.9 2083,3318.8 2085,3319.7 2087,3320.6 2087.5,3320.9 2089,3321.7 2091,3322.9 2093,3324.2 2095,3325.4 2097,3326.5 2099,3327.4 2099.6,3327.6 2101,3328 2103,3328.6 2105,3329 2107,3329.3 2109,3329.7 2111,3330.1 2113,3330.6 2115,3331.4 2115.8,3331.7 2117,3332.6 2119,3335.3 2121,3338.2 2122.5,3339.8 2123,3340.2 2125,3341.5 2127,3342.6 2129,3343.5 2131,3344.5 2132,3345.1 2133,3345.7 2135,3346.9 2137,3348.1 2139,3349.3 2141,3350.6 2143,3351.8 2145,3353 2145.4,3353.2 2147,3354.1 2149,3355.2 2151,3356.4 2153,3357.5 2155,3358.6 2157,3359.7 2159,3360.7 2160,3361.3 2161,3361.9 2163,3363 2164,3363.5" fill="none" stroke="#000" stroke-width="3.9" stroke-linejoin="round"/>
<path d="M360.9,1954.8 362.9,1985.8 M365.6,2015.4 369,2030.9 375,2043.7 M391.5,2069.5 398.5,2076.5 405.5,2083.4 412.5,2090.2 M433,2110 440.6,2117.3 448.3,2124.5 455.9,2131.7 M477.5,2151.8 485.1,2158.8 492.8,2165.9 500.4,2172.8 M521.9,2192.3 529.6,2199.2 537.2,2206 544.9,2212.8 M566.4,2231.8 574,2238.5 581.7,2245.2 589.3,2251.9 M612.2,2271.7 619.8,2278.3 627.5,2284.8 635.1,2291.4 M657.7,2310.6 664.9,2316.7 672.1,2322.8 679.3,2328.9 M702.2,2348 709.8,2354.4 717.5,2360.7 725.1,2367.1 M748,2385.9 756.1,2392.6 764.2,2399.2 772.3,2405.8 M793.9,2423.2 802.4,2430.1 811,2436.9 819.5,2443.7 M842.4,2461.9 850,2467.9 857.7,2473.9 865.3,2479.9 M888.2,2497.8 896.3,2504.1 904.4,2510.3 912.5,2516.6 M936.7,2535.2 944.8,2541.3 952.9,2547.5 961,2553.6 M985.2,2571.9 993.3,2578 1001.4,2584.1 1009.5,2590.1 M1032.3,2607.1 1040.4,2613.1 1048.5,2619.1 1056.6,2625.1 M1079.5,2641.9 1087.6,2647.9 1095.7,2653.8 1103.8,2659.7 M1128,2677.3 1136.5,2683.5 1145.1,2689.7 1153.6,2695.8 M1176.5,2712.3 1184.6,2718.2 1192.7,2724 1200.8,2729.8 M1225.1,2747.1 1233.6,2753.2 1242.2,2759.3 1250.7,2765.4 M1273.6,2781.6 1282.1,2787.7 1290.7,2793.7 1299.2,2799.8 M1322.1,2815.9 1330.6,2821.9 1339.2,2828 1347.7,2833.9 M1373.3,2851.9 1381.4,2857.5 1389.5,2863.2 1397.6,2868.8 M1421.8,2885.7 1429.9,2891.3 1437.9,2896.9 1446,2902.4 M1470.3,2919.2 1478.8,2925.1 1487.4,2930.9 1495.9,2936.8 M1518.8,2952.4 1527.3,2958.2 1535.9,2964 1544.4,2969.8 M1568.7,2986.3 1577.2,2992.1 1585.8,2997.9 1594.3,3003.6 M1618.5,3019.9 1627.1,3025.7 1635.6,3031.4 1644.2,3037.2 M1668.4,3053.4 1676.9,3059.1 1685.5,3064.8 1694,3070.5 M1718.3,3086.7 1726.8,3092.4 1735.4,3098.1 1743.9,3103.7 M1768.1,3119.8 1776.6,3125.5 1785.2,3131.1 1793.7,3136.8 M1818,3152.8 1826.5,3158.5 1835.1,3164.1 1843.6,3169.7 M1869.2,3186.5 1877.3,3191.8 1885.3,3197.1 1893.4,3202.4 M1919,3219.1 1927.1,3224.4 1935.2,3229.7 1943.3,3235 M1968.9,3251.6 1977,3256.9 1985.1,3262.1 1993.2,3267.4 M2018.8,3283.9 2026.9,3289.1 2034.9,3294.3 2043,3299.5 M2068.6,3315.9 2077.1,3321.3 2085.7,3326.8 2094.2,3332.2 M2119.4,3348.2 2127.9,3353.7 2136.5,3359.1 2145,3364.5" fill="none" stroke="#0000ff" stroke-width="7.8" stroke-linejoin="round"/>
<path d="M359.8,3423.6 v-19.7 M359.8,1911.9 v19.3 M639.2,3423.6 v-19.7 M639.2,1911.9 v19.3 M918.7,3423.6 v-19.7 M918.7,1911.9 v19.3 M1198.1,3423.6 v-19.7 M1198.1,1911.9 v19.3 M1477.5,3423.6 v-19.7 M1477.5,1911.9 v19.3 M1757,3423.6 v-19.7 M1757,1911.9 v19.3 M2036.4,3423.6 v-19.7 M2036.4,1911.9 v19.3 M303.6,2089.7 h17.7 M2197.5,2089.7 h-19.4 M303.6,2446.5 h17.7 M2197.5,2446.5 h-19.4 M303.6,2803.2 h17.7 M2197.5,2803.2 h-19.4 M303.6,3160 h17.7 M2197.5,3160 h-19.4" stroke="#262626" stroke-width="1.9" fill="none"/>
<rect x="303.6" y="1911.9" width="1893.9" height="1511.7" fill="none" stroke="#262626" stroke-width="1.9"/>
<text x="358.4" y="3491.4" font-family="Liberation Sans, Arial, Helvetica, sans-serif" font-size="53" fill="#262626" text-anchor="middle">0</text>
<text x="637.8" y="3491.4" font-family="Liberation Sans, Arial, Helvetica, sans-serif" font-size="53" fill="#262626" text-anchor="middle">10</text>
<text x="917.3" y="3491.4" font-family="Liberation Sans, Arial, Helvetica, sans-serif" font-size="53" fill="#262626" text-anchor="middle">20</text>
<text x="1196.7" y="3491.4" font-family="Liberation Sans, Arial, Helvetica, sans-serif" font-size="53" fill="#262626" text-anchor="middle">30</text>
<text x="1476.1" y="3491.4" font-family="Liberation Sans, Arial, Helvetica, sans-serif" font-size="53" fill="#262626" text-anchor="middle">40</text>
<text x="1755.6" y="3491.4" font-family="Liberation Sans, Arial, Helvetica, sans-serif" font-size="53" fill="#262626" text-anchor="middle">50</text>
<text x="2035" y="3491.4" font-family="Liberation Sans, Arial, Helvetica, sans-serif" font-size="53" fill="#262626" text-anchor="middle">60</text>
<text x="283.7" y="2109.2" font-family="Liberation Sans, Arial, Helvetica, sans-serif" font-size="53" fill="#262626" text-anchor="end">650</text>
<text x="283.7" y="2466" font-family="Liberation Sans, Arial, Helvetica, sans-serif" font-size="53" fill="#262626" text-anchor="end">640</text>
<text x="283.7" y="2822.7" font-family="Liberation Sans, Arial, Helvetica, sans-serif" font-size="53" fill="#262626" text-anchor="end">630</text>
<text x="283.7" y="3179.5" font-family="Liberation Sans, Arial, Helvetica, sans-serif" font-size="53" fill="#262626" text-anchor="end">620</text>
<rect x="1383" y="1943.2" width="785" height="186.9" fill="#fff" stroke="#262626" stroke-width="1.9"/>
<path d="M1396.1,1979.4 H1511.1" stroke="#000" stroke-width="3.9"/>
<path d="M1396.1,2037.3 H1511.1" stroke="#b3b3b3" stroke-width="3.4"/>
<path d="M1396.1,2095 H1511.1" stroke="#0000ff" stroke-width="7.9" stroke-dasharray="29.1 30.3"/>
<text transform="translate(1521,1994.8) scale(1,0.955)" font-family="Liberation Sans, Arial, Helvetica, sans-serif" font-size="47.5" fill="#000">Treated experimental data</text>
<text transform="translate(1521,2053) scale(1,0.955)" font-family="Liberation Sans, Arial, Helvetica, sans-serif" font-size="47.5" fill="#000">Experimental data uncertainty</text>
<text transform="translate(1521,2111.2) scale(1,0.955)" font-family="Liberation Sans, Arial, Helvetica, sans-serif" font-size="47.5" fill="#000">Quasi-2D Model</text>
<text transform="translate(1249.2,3562.6) scale(1,1.06)" font-family="Liberation Sans, Arial, Helvetica, sans-serif" font-size="55.6" fill="#262626" text-anchor="middle">Time (h)</text>
<text transform="translate(102.4,2666.6) rotate(-90) scale(1,1.04)" font-family="Liberation Sans, Arial, Helvetica, sans-serif" font-size="57.3" fill="#262626" text-anchor="middle">Pressure</text>
<text transform="translate(171.9,2668.1) rotate(-90) scale(1,1.06)" font-family="Liberation Sans, Arial, Helvetica, sans-serif" font-size="56.2" fill="#262626" text-anchor="middle">(mbar)</text>
<text transform="translate(1064.2,3693.1) scale(0.9,1)" font-family="Liberation Serif, Times New Roman, serif" font-size="75.8" fill="#000">(</text>
<text transform="translate(1088.4,3694) scale(1,1)" font-family="Liberation Serif, Times New Roman, serif" font-size="79" font-weight="bold" fill="#000">b</text>
<text transform="translate(1134.3,3693.1) scale(0.9,1)" font-family="Liberation Serif, Times New Roman, serif" font-size="75.8" fill="#000">)</text>
</svg></body></html>
